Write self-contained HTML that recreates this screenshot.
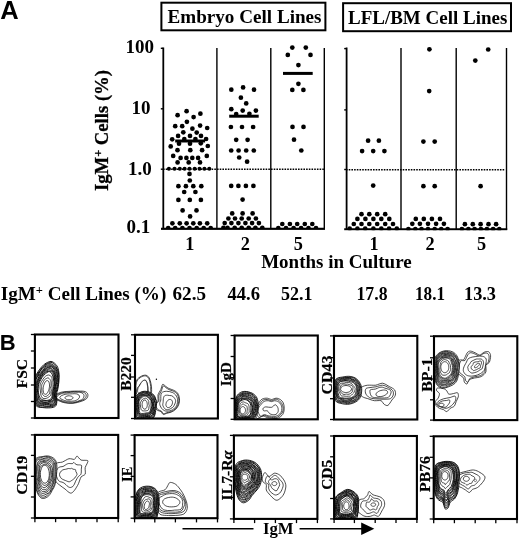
<!DOCTYPE html>
<html><head><meta charset="utf-8"><title>Figure</title>
<style>html,body{margin:0;padding:0;background:#fff}svg{display:block}</style>
</head><body>
<svg width="520" height="539" viewBox="0 0 520 539">
<rect width="520" height="539" fill="#fff"/>
<text x="0.3" y="18.6" font-family="Liberation Sans, sans-serif" font-weight="bold" font-size="25.5">A</text>
<text x="-0.2" y="349.9" font-family="Liberation Sans, sans-serif" font-weight="bold" font-size="22">B</text>
<rect x="161.4" y="2.7" width="164" height="27.6" fill="#fff" stroke="#000" stroke-width="2"/>
<rect x="343.1" y="3.2" width="167.9" height="28" fill="#fff" stroke="#000" stroke-width="2"/>
<text x="167.5" y="22.9" font-family="Liberation Serif, serif" font-weight="bold" font-size="18.4" textLength="154" lengthAdjust="spacingAndGlyphs">Embryo Cell Lines</text>
<text x="348" y="23.8" font-family="Liberation Serif, serif" font-weight="bold" font-size="18.4" textLength="159.3" lengthAdjust="spacingAndGlyphs">LFL/BM Cell Lines</text>
<text x="154" y="52.5" text-anchor="end" font-family="Liberation Serif, serif" font-weight="bold" font-size="19">100</text>
<text x="150.4" y="113.5" text-anchor="end" font-family="Liberation Serif, serif" font-weight="bold" font-size="19">10</text>
<text x="151.7" y="174.7" text-anchor="end" font-family="Liberation Serif, serif" font-weight="bold" font-size="19">1.0</text>
<text x="150.2" y="233.4" text-anchor="end" font-family="Liberation Serif, serif" font-weight="bold" font-size="19">0.1</text>
<text transform="translate(108.4,191) rotate(-90)" font-family="Liberation Serif, serif" font-weight="bold" font-size="18.5" stroke="#000" stroke-width="0.3" textLength="121" lengthAdjust="spacingAndGlyphs">IgM<tspan dy="-6" font-size="12">+</tspan><tspan dy="6"> Cells (%)</tspan></text>
<line x1="163.3" y1="47.5" x2="163.3" y2="229.5" stroke="#000" stroke-width="1.8" />
<line x1="216.9" y1="48" x2="216.9" y2="229.5" stroke="#000" stroke-width="1.4" />
<line x1="270.8" y1="48" x2="270.8" y2="229.5" stroke="#000" stroke-width="1.4" />
<line x1="324.3" y1="48" x2="324.3" y2="229.5" stroke="#000" stroke-width="1.4" />
<line x1="161" y1="228.8" x2="325" y2="228.8" stroke="#000" stroke-width="2.2" />
<line x1="160.8" y1="48.3" x2="163.3" y2="48.3" stroke="#000" stroke-width="1.4" />
<line x1="160.8" y1="108.8" x2="163.3" y2="108.8" stroke="#000" stroke-width="1.4" />
<line x1="160.8" y1="169.2" x2="163.3" y2="169.2" stroke="#000" stroke-width="1.4" />
<line x1="163" y1="169.3" x2="324.5" y2="169.3" stroke="#000" stroke-width="1.4" stroke-dasharray="1.6 1.1"/>
<line x1="346.6" y1="47.5" x2="346.6" y2="230" stroke="#000" stroke-width="1.8" />
<line x1="401" y1="48" x2="401" y2="230" stroke="#000" stroke-width="1.4" />
<line x1="456.2" y1="48" x2="456.2" y2="230" stroke="#000" stroke-width="1.4" />
<line x1="506.5" y1="48" x2="506.5" y2="230" stroke="#000" stroke-width="1.4" />
<line x1="344.2" y1="229.3" x2="507.2" y2="229.3" stroke="#000" stroke-width="2.2" />
<line x1="344.2" y1="48.599999999999994" x2="346.6" y2="48.599999999999994" stroke="#000" stroke-width="1.4" />
<line x1="344.2" y1="109.89999999999999" x2="346.6" y2="109.89999999999999" stroke="#000" stroke-width="1.4" />
<line x1="344.2" y1="169.5" x2="346.6" y2="169.5" stroke="#000" stroke-width="1.4" />
<line x1="346" y1="169.8" x2="504.5" y2="169.8" stroke="#000" stroke-width="1.4" stroke-dasharray="1.6 1.1"/>
<circle cx="168.9" cy="168.8" r="2.05"/>
<circle cx="174.5" cy="168.8" r="2.05"/>
<circle cx="179.8" cy="168.8" r="2.05"/>
<circle cx="184.6" cy="168.8" r="2.05"/>
<circle cx="189.5" cy="168.8" r="2.05"/>
<circle cx="194.7" cy="168.8" r="2.05"/>
<circle cx="199.5" cy="168.8" r="2.05"/>
<circle cx="204.4" cy="168.8" r="2.05"/>
<circle cx="209.3" cy="168.8" r="2.05"/>
<circle cx="186.6" cy="111.2" r="2.35"/>
<circle cx="177.6" cy="115.2" r="2.35"/>
<circle cx="200.4" cy="113.7" r="2.35"/>
<circle cx="193.6" cy="117.1" r="2.35"/>
<circle cx="186.9" cy="121.8" r="2.35"/>
<circle cx="175.2" cy="126.2" r="2.35"/>
<circle cx="182.2" cy="126.2" r="2.35"/>
<circle cx="200.1" cy="125.6" r="2.35"/>
<circle cx="207.2" cy="128.0" r="2.35"/>
<circle cx="192.4" cy="128.7" r="2.35"/>
<circle cx="183.3" cy="132.3" r="2.35"/>
<circle cx="196.7" cy="132.6" r="2.35"/>
<circle cx="178.1" cy="135.9" r="2.35"/>
<circle cx="190.0" cy="135.9" r="2.35"/>
<circle cx="201.0" cy="135.9" r="2.35"/>
<circle cx="172.2" cy="139.3" r="2.35"/>
<circle cx="184.3" cy="139.0" r="2.35"/>
<circle cx="195.4" cy="139.0" r="2.35"/>
<circle cx="206.1" cy="139.0" r="2.35"/>
<circle cx="179.0" cy="143.7" r="2.35"/>
<circle cx="190.0" cy="143.7" r="2.35"/>
<circle cx="200.8" cy="143.3" r="2.35"/>
<circle cx="170.7" cy="146.4" r="2.35"/>
<circle cx="207.8" cy="146.0" r="2.35"/>
<circle cx="177.5" cy="150.2" r="2.35"/>
<circle cx="190.3" cy="150.2" r="2.35"/>
<circle cx="202.1" cy="150.2" r="2.35"/>
<circle cx="173.2" cy="155.9" r="2.35"/>
<circle cx="206.8" cy="155.9" r="2.35"/>
<circle cx="180.6" cy="157.9" r="2.35"/>
<circle cx="186.4" cy="157.9" r="2.35"/>
<circle cx="192.3" cy="157.9" r="2.35"/>
<circle cx="198.1" cy="157.9" r="2.35"/>
<circle cx="177.6" cy="162.4" r="2.35"/>
<circle cx="188.7" cy="162.4" r="2.35"/>
<circle cx="200.0" cy="162.4" r="2.35"/>
<circle cx="189.5" cy="173.9" r="2.35"/>
<circle cx="189.8" cy="180.5" r="2.35"/>
<circle cx="178.4" cy="186.2" r="2.35"/>
<circle cx="185.9" cy="186.2" r="2.35"/>
<circle cx="193.3" cy="186.2" r="2.35"/>
<circle cx="201.3" cy="186.2" r="2.35"/>
<circle cx="184.2" cy="192.0" r="2.35"/>
<circle cx="195.4" cy="192.0" r="2.35"/>
<circle cx="178.4" cy="199.9" r="2.35"/>
<circle cx="189.8" cy="199.9" r="2.35"/>
<circle cx="200.9" cy="199.9" r="2.35"/>
<circle cx="182.6" cy="210.4" r="2.35"/>
<circle cx="196.5" cy="210.4" r="2.35"/>
<circle cx="190.1" cy="216.4" r="2.35"/>
<circle cx="172.4" cy="223.3" r="2.35"/>
<circle cx="179.8" cy="223.3" r="2.35"/>
<circle cx="186.6" cy="223.3" r="2.35"/>
<circle cx="193.3" cy="223.3" r="2.35"/>
<circle cx="199.9" cy="223.3" r="2.35"/>
<circle cx="207.2" cy="223.3" r="2.35"/>
<circle cx="168.2" cy="228.0" r="2.35"/>
<circle cx="175.2" cy="228.0" r="2.35"/>
<circle cx="182.4" cy="228.0" r="2.35"/>
<circle cx="189.5" cy="228.0" r="2.35"/>
<circle cx="196.7" cy="228.0" r="2.35"/>
<circle cx="203.7" cy="228.0" r="2.35"/>
<circle cx="210.7" cy="228.0" r="2.35"/>
<line x1="175.2" y1="141.0" x2="205.1" y2="141.0" stroke="#000" stroke-width="3.0" />
<circle cx="231.3" cy="89.7" r="2.35"/>
<circle cx="243.1" cy="87.4" r="2.35"/>
<circle cx="254.0" cy="89.7" r="2.35"/>
<circle cx="240.9" cy="97.7" r="2.35"/>
<circle cx="246.2" cy="103.4" r="2.35"/>
<circle cx="231.3" cy="109.2" r="2.35"/>
<circle cx="242.7" cy="110.6" r="2.35"/>
<circle cx="255.9" cy="110.6" r="2.35"/>
<circle cx="236.2" cy="114.1" r="2.35"/>
<circle cx="249.4" cy="113.8" r="2.35"/>
<circle cx="230.9" cy="127.0" r="2.35"/>
<circle cx="242.0" cy="127.0" r="2.35"/>
<circle cx="253.1" cy="127.0" r="2.35"/>
<circle cx="236.2" cy="139.8" r="2.35"/>
<circle cx="247.6" cy="139.8" r="2.35"/>
<circle cx="231.2" cy="150.5" r="2.35"/>
<circle cx="238.6" cy="150.5" r="2.35"/>
<circle cx="246.2" cy="150.5" r="2.35"/>
<circle cx="253.8" cy="150.5" r="2.35"/>
<circle cx="239.2" cy="157.5" r="2.35"/>
<circle cx="247.1" cy="161.7" r="2.35"/>
<circle cx="231.2" cy="185.9" r="2.35"/>
<circle cx="238.4" cy="185.9" r="2.35"/>
<circle cx="245.9" cy="185.9" r="2.35"/>
<circle cx="253.4" cy="185.9" r="2.35"/>
<circle cx="242.6" cy="199.6" r="2.35"/>
<circle cx="232.2" cy="213.4" r="2.35"/>
<circle cx="242.6" cy="213.4" r="2.35"/>
<circle cx="252.6" cy="213.4" r="2.35"/>
<circle cx="228.4" cy="218.5" r="2.35"/>
<circle cx="235.0" cy="218.5" r="2.35"/>
<circle cx="241.7" cy="218.5" r="2.35"/>
<circle cx="248.7" cy="218.5" r="2.35"/>
<circle cx="255.9" cy="218.5" r="2.35"/>
<circle cx="224.7" cy="223.1" r="2.35"/>
<circle cx="231.4" cy="223.1" r="2.35"/>
<circle cx="238.4" cy="223.1" r="2.35"/>
<circle cx="245.4" cy="223.1" r="2.35"/>
<circle cx="252.1" cy="223.1" r="2.35"/>
<circle cx="258.9" cy="223.1" r="2.35"/>
<circle cx="223.4" cy="227.8" r="2.35"/>
<circle cx="227.5" cy="227.8" r="2.35"/>
<circle cx="234.7" cy="227.8" r="2.35"/>
<circle cx="241.7" cy="227.8" r="2.35"/>
<circle cx="248.7" cy="227.8" r="2.35"/>
<circle cx="255.4" cy="227.8" r="2.35"/>
<circle cx="262.3" cy="227.8" r="2.35"/>
<line x1="229.2" y1="116.2" x2="258.7" y2="116.2" stroke="#000" stroke-width="3.0" />
<circle cx="292.3" cy="47.6" r="2.35"/>
<circle cx="305.8" cy="47.6" r="2.35"/>
<circle cx="287.8" cy="54.9" r="2.35"/>
<circle cx="310.5" cy="54.9" r="2.35"/>
<circle cx="298.4" cy="65.1" r="2.35"/>
<circle cx="298.4" cy="83.8" r="2.35"/>
<circle cx="292.3" cy="89.9" r="2.35"/>
<circle cx="303.4" cy="89.9" r="2.35"/>
<circle cx="292.5" cy="126.9" r="2.35"/>
<circle cx="303.5" cy="126.9" r="2.35"/>
<circle cx="294.0" cy="139.7" r="2.35"/>
<circle cx="301.3" cy="150.5" r="2.35"/>
<circle cx="282.3" cy="224.0" r="2.35"/>
<circle cx="289.9" cy="224.0" r="2.35"/>
<circle cx="297.2" cy="224.0" r="2.35"/>
<circle cx="304.8" cy="224.0" r="2.35"/>
<circle cx="312.3" cy="224.0" r="2.35"/>
<circle cx="278.3" cy="228.1" r="2.35"/>
<circle cx="286.0" cy="228.1" r="2.35"/>
<circle cx="293.6" cy="228.1" r="2.35"/>
<circle cx="301.1" cy="228.1" r="2.35"/>
<circle cx="308.5" cy="228.1" r="2.35"/>
<circle cx="316.0" cy="228.1" r="2.35"/>
<line x1="283.0" y1="73.4" x2="312.7" y2="73.4" stroke="#000" stroke-width="3.0" />
<circle cx="368.1" cy="140.7" r="2.35"/>
<circle cx="378.9" cy="140.7" r="2.35"/>
<circle cx="362.1" cy="151.1" r="2.35"/>
<circle cx="373.2" cy="151.1" r="2.35"/>
<circle cx="384.4" cy="151.1" r="2.35"/>
<circle cx="373.2" cy="185.6" r="2.35"/>
<circle cx="361.5" cy="214.2" r="2.35"/>
<circle cx="369.3" cy="214.2" r="2.35"/>
<circle cx="377.2" cy="214.2" r="2.35"/>
<circle cx="385.2" cy="214.2" r="2.35"/>
<circle cx="357.4" cy="218.9" r="2.35"/>
<circle cx="365.4" cy="218.9" r="2.35"/>
<circle cx="373.4" cy="218.9" r="2.35"/>
<circle cx="381.3" cy="218.9" r="2.35"/>
<circle cx="389.3" cy="218.9" r="2.35"/>
<circle cx="353.8" cy="224.0" r="2.35"/>
<circle cx="361.5" cy="224.0" r="2.35"/>
<circle cx="369.3" cy="224.0" r="2.35"/>
<circle cx="377.2" cy="224.0" r="2.35"/>
<circle cx="385.2" cy="224.0" r="2.35"/>
<circle cx="393.0" cy="224.0" r="2.35"/>
<circle cx="349.7" cy="228.7" r="2.35"/>
<circle cx="357.4" cy="228.7" r="2.35"/>
<circle cx="365.2" cy="228.7" r="2.35"/>
<circle cx="373.4" cy="228.7" r="2.35"/>
<circle cx="381.3" cy="228.7" r="2.35"/>
<circle cx="389.1" cy="228.7" r="2.35"/>
<circle cx="396.8" cy="228.7" r="2.35"/>
<circle cx="429.4" cy="49.3" r="2.35"/>
<circle cx="429.2" cy="91.1" r="2.35"/>
<circle cx="423.4" cy="141.6" r="2.35"/>
<circle cx="434.7" cy="141.6" r="2.35"/>
<circle cx="423.4" cy="186.2" r="2.35"/>
<circle cx="434.7" cy="186.2" r="2.35"/>
<circle cx="415.8" cy="218.9" r="2.35"/>
<circle cx="423.8" cy="218.9" r="2.35"/>
<circle cx="431.9" cy="218.9" r="2.35"/>
<circle cx="440.0" cy="218.9" r="2.35"/>
<circle cx="412.3" cy="223.8" r="2.35"/>
<circle cx="419.9" cy="223.8" r="2.35"/>
<circle cx="428.0" cy="223.8" r="2.35"/>
<circle cx="436.1" cy="223.8" r="2.35"/>
<circle cx="443.9" cy="223.8" r="2.35"/>
<circle cx="408.4" cy="229.0" r="2.35"/>
<circle cx="415.3" cy="229.0" r="2.35"/>
<circle cx="421.5" cy="229.0" r="2.35"/>
<circle cx="428.0" cy="229.0" r="2.35"/>
<circle cx="434.7" cy="229.0" r="2.35"/>
<circle cx="441.2" cy="229.0" r="2.35"/>
<circle cx="447.6" cy="229.0" r="2.35"/>
<circle cx="488.2" cy="49.5" r="2.35"/>
<circle cx="475.3" cy="60.6" r="2.35"/>
<circle cx="480.6" cy="186.2" r="2.35"/>
<circle cx="464.9" cy="224.2" r="2.35"/>
<circle cx="472.8" cy="224.2" r="2.35"/>
<circle cx="480.6" cy="224.2" r="2.35"/>
<circle cx="488.5" cy="224.2" r="2.35"/>
<circle cx="496.1" cy="224.2" r="2.35"/>
<circle cx="461.9" cy="229.0" r="2.35"/>
<circle cx="468.4" cy="229.0" r="2.35"/>
<circle cx="474.6" cy="229.0" r="2.35"/>
<circle cx="480.9" cy="229.0" r="2.35"/>
<circle cx="486.9" cy="229.0" r="2.35"/>
<circle cx="493.1" cy="229.0" r="2.35"/>
<circle cx="499.3" cy="229.0" r="2.35"/>
<rect x="160" y="229.9" width="167" height="3.5" fill="#fff"/>
<rect x="343" y="230.4" width="166" height="3.5" fill="#fff"/>
<text x="189.9" y="250" text-anchor="middle" font-family="Liberation Serif, serif" font-weight="bold" font-size="18.3">1</text>
<text x="245.2" y="250" text-anchor="middle" font-family="Liberation Serif, serif" font-weight="bold" font-size="18.3">2</text>
<text x="298.2" y="250" text-anchor="middle" font-family="Liberation Serif, serif" font-weight="bold" font-size="18.3">5</text>
<text x="374" y="250" text-anchor="middle" font-family="Liberation Serif, serif" font-weight="bold" font-size="18.3">1</text>
<text x="430" y="250" text-anchor="middle" font-family="Liberation Serif, serif" font-weight="bold" font-size="18.3">2</text>
<text x="481.5" y="250" text-anchor="middle" font-family="Liberation Serif, serif" font-weight="bold" font-size="18.3">5</text>
<text x="261.2" y="267.7" font-family="Liberation Serif, serif" font-weight="bold" font-size="18" textLength="150.5" lengthAdjust="spacingAndGlyphs">Months in Culture</text>
<text x="0.8" y="299.8" font-family="Liberation Serif, serif" font-weight="bold" font-size="18.3" textLength="165.5" lengthAdjust="spacingAndGlyphs">IgM<tspan dy="-6" font-size="12">+</tspan><tspan dy="6"> Cell Lines (%)</tspan></text>
<text x="172.5" y="299.9" font-family="Liberation Serif, serif" font-weight="bold" font-size="18.3" textLength="33.5" lengthAdjust="spacingAndGlyphs">62.5</text>
<text x="227.5" y="299.9" font-family="Liberation Serif, serif" font-weight="bold" font-size="18.3" textLength="32.5" lengthAdjust="spacingAndGlyphs">44.6</text>
<text x="281" y="299.9" font-family="Liberation Serif, serif" font-weight="bold" font-size="18.3" textLength="31.5" lengthAdjust="spacingAndGlyphs">52.1</text>
<text x="356.5" y="299.9" font-family="Liberation Serif, serif" font-weight="bold" font-size="18.3" textLength="31.0" lengthAdjust="spacingAndGlyphs">17.8</text>
<text x="415" y="299.9" font-family="Liberation Serif, serif" font-weight="bold" font-size="18.3" textLength="30" lengthAdjust="spacingAndGlyphs">18.1</text>
<text x="464" y="299.9" font-family="Liberation Serif, serif" font-weight="bold" font-size="18.3" textLength="32" lengthAdjust="spacingAndGlyphs">13.3</text>
<clipPath id="c1"><rect x="34.9" y="334.5" width="83.6" height="83.5"/></clipPath>
<g clip-path="url(#c1)">
<path d="M56.9 394.0C57.6 393.5 58.4 393.1 59.3 392.8C60.2 392.5 61.1 392.2 62.3 392.0C63.5 391.8 64.8 391.7 66.2 391.5C67.5 391.4 69.0 391.4 70.4 391.3C71.8 391.2 73.2 391.2 74.5 391.1C75.9 391.1 77.2 391.1 78.5 391.1C79.8 391.1 81.1 391.1 82.2 391.1C83.3 391.2 84.4 391.3 85.2 391.6C86.0 391.9 86.6 392.4 87.1 392.9C87.5 393.4 87.8 394.1 87.9 394.7C88.0 395.3 87.9 396.1 87.7 396.7C87.5 397.4 87.1 398.1 86.5 398.7C85.9 399.3 85.1 399.7 84.2 400.2C83.3 400.6 82.3 401.0 81.1 401.4C79.9 401.8 78.6 402.2 77.3 402.5C75.9 402.8 74.5 403.1 73.1 403.2C71.7 403.3 70.3 403.3 68.9 403.2C67.6 403.2 66.2 403.0 65.0 402.8C63.8 402.6 62.8 402.3 61.8 402.0C60.7 401.6 59.9 401.2 58.9 400.8C57.9 400.4 56.7 400.0 55.9 399.5C55.1 399.1 54.2 398.6 54.0 398.0C53.8 397.4 54.3 396.6 54.8 395.9C55.3 395.3 56.2 394.5 56.9 394.0Z" fill="#fff" stroke="#000" stroke-width="0.7"/>
<path d="M57.9 394.3C58.7 393.9 59.5 393.6 60.3 393.3C61.1 393.0 61.9 392.8 62.9 392.6C64.0 392.3 65.2 392.2 66.4 392.1C67.6 391.9 69.0 391.9 70.3 391.8C71.6 391.7 72.9 391.6 74.2 391.5C75.4 391.5 76.7 391.6 77.8 391.6C78.9 391.7 79.8 391.8 80.8 391.9C81.7 392.0 82.6 392.0 83.4 392.3C84.2 392.5 84.9 392.9 85.4 393.4C85.8 393.8 86.1 394.4 86.2 395.0C86.3 395.5 86.2 396.2 86.0 396.8C85.8 397.4 85.5 398.1 85.0 398.6C84.4 399.1 83.7 399.6 82.8 400.0C81.9 400.4 80.8 400.7 79.8 401.0C78.7 401.4 77.6 401.7 76.5 402.1C75.4 402.4 74.2 402.8 72.9 403.0C71.7 403.1 70.2 403.1 68.9 403.0C67.7 402.9 66.4 402.6 65.3 402.4C64.2 402.1 63.3 401.9 62.4 401.6C61.4 401.3 60.7 400.9 59.8 400.5C58.9 400.2 57.9 399.8 57.2 399.4C56.4 398.9 55.4 398.5 55.2 398.0C55.0 397.4 55.3 396.7 55.7 396.1C56.2 395.5 57.2 394.8 57.9 394.3Z" fill="#fff" stroke="#000" stroke-width="0.7"/>
<path d="M59.1 394.7C59.8 394.3 60.4 394.0 61.2 393.8C61.9 393.5 62.6 393.2 63.5 393.1C64.5 392.9 65.7 393.0 66.8 392.8C67.9 392.7 69.0 392.5 70.2 392.4C71.3 392.2 72.5 392.2 73.6 392.2C74.8 392.2 75.8 392.3 76.8 392.3C77.8 392.3 79.0 392.2 79.8 392.3C80.7 392.4 81.3 392.6 81.9 392.9C82.4 393.1 82.9 393.5 83.3 394.0C83.6 394.4 83.9 394.8 84.0 395.3C84.1 395.8 83.9 396.4 83.8 397.0C83.6 397.5 83.6 398.1 83.2 398.5C82.8 399.0 82.2 399.4 81.5 399.8C80.8 400.1 79.9 400.4 79.0 400.8C78.1 401.1 77.2 401.6 76.1 401.8C75.0 402.1 73.6 402.2 72.4 402.3C71.2 402.3 70.1 402.3 68.9 402.2C67.8 402.1 66.7 402.1 65.7 401.9C64.7 401.8 64.0 401.4 63.1 401.2C62.3 400.9 61.3 400.6 60.5 400.3C59.6 400.0 58.7 399.6 58.0 399.2C57.4 398.9 56.8 398.5 56.7 398.0C56.5 397.5 56.7 396.8 57.1 396.3C57.6 395.7 58.5 395.1 59.1 394.7Z" fill="#fff" stroke="#000" stroke-width="0.7"/>
<path d="M61.7 395.5C62.2 395.2 62.7 395.1 63.3 394.9C63.8 394.7 64.3 394.5 65.0 394.3C65.6 394.2 66.5 394.0 67.3 394.0C68.1 393.9 69.0 393.9 69.8 393.9C70.7 393.9 71.5 393.8 72.4 393.8C73.2 393.7 74.0 393.7 74.8 393.7C75.5 393.8 76.2 393.8 76.7 393.9C77.2 394.0 77.6 394.2 78.0 394.4C78.4 394.6 78.6 394.9 78.9 395.1C79.1 395.4 79.4 395.7 79.5 396.1C79.6 396.4 79.6 396.8 79.5 397.2C79.4 397.6 79.2 398.0 79.0 398.3C78.7 398.6 78.4 398.9 78.0 399.2C77.6 399.5 77.2 399.8 76.6 400.1C76.0 400.3 75.2 400.7 74.4 400.9C73.6 401.1 72.5 401.2 71.6 401.2C70.7 401.3 69.8 401.2 69.0 401.1C68.1 401.1 67.2 401.1 66.5 401.0C65.7 400.9 65.0 400.7 64.4 400.5C63.7 400.2 63.2 399.9 62.7 399.7C62.1 399.4 61.4 399.2 60.9 398.9C60.5 398.6 59.9 398.3 59.8 397.9C59.7 397.6 59.9 397.1 60.2 396.7C60.6 396.3 61.2 395.8 61.7 395.5Z" fill="#fff" stroke="#000" stroke-width="0.7"/>
<path d="M65.6 396.7C65.8 396.6 66.0 396.5 66.2 396.4C66.4 396.3 66.7 396.2 67.0 396.1C67.3 396.0 67.7 395.9 68.1 395.8C68.5 395.8 69.0 395.8 69.4 395.8C69.8 395.8 70.2 395.9 70.5 396.0C70.8 396.0 71.1 396.1 71.3 396.2C71.5 396.2 71.7 396.3 71.8 396.4C72.0 396.4 72.1 396.5 72.2 396.6C72.3 396.7 72.4 396.8 72.5 396.9C72.6 396.9 72.7 397.1 72.8 397.2C72.9 397.3 72.9 397.4 73.0 397.6C73.0 397.7 73.0 397.9 73.0 398.0C73.0 398.1 72.9 398.3 72.8 398.4C72.7 398.5 72.6 398.7 72.4 398.8C72.2 399.0 72.0 399.2 71.6 399.3C71.3 399.4 70.9 399.6 70.4 399.7C70.0 399.8 69.5 399.8 69.0 399.8C68.5 399.8 67.9 399.7 67.5 399.7C67.1 399.6 66.7 399.4 66.4 399.3C66.0 399.2 65.8 399.0 65.6 398.8C65.4 398.7 65.2 398.5 65.1 398.3C65.0 398.1 65.0 398.0 65.0 397.9C65.0 397.7 65.0 397.5 65.1 397.3C65.2 397.1 65.4 396.9 65.6 396.7Z" fill="#fff" stroke="#000" stroke-width="0.7"/>
<path d="M52.2 361.7C53.0 362.0 53.9 362.6 54.7 363.3C55.5 364.0 56.3 364.9 56.9 365.8C57.5 366.7 57.9 367.7 58.2 368.8C58.5 369.9 58.7 371.1 58.9 372.5C59.1 373.9 59.1 375.5 59.1 377.1C59.1 378.7 59.0 380.4 58.9 381.9C58.8 383.4 58.6 384.8 58.3 386.2C58.1 387.5 57.9 388.9 57.6 390.0C57.3 391.1 57.0 392.0 56.8 392.9C56.5 393.8 56.2 394.5 56.2 395.4C56.2 396.3 56.4 397.2 56.5 398.1C56.7 399.0 56.9 399.9 56.9 400.8C56.9 401.7 56.8 402.8 56.6 403.7C56.4 404.6 56.2 405.5 55.6 406.1C55.0 406.7 54.2 407.0 53.3 407.3C52.4 407.6 51.4 407.7 50.2 407.8C49.0 407.9 47.5 407.9 46.2 407.9C44.8 407.8 43.3 407.6 42.1 407.5C40.9 407.4 39.7 407.4 38.7 407.1C37.7 406.8 36.8 406.5 36.0 405.5C35.2 404.5 34.6 402.9 34.1 401.2C33.6 399.5 33.3 397.5 33.0 395.4C32.7 393.3 32.6 390.8 32.6 388.5C32.6 386.3 32.7 383.7 33.0 381.9C33.3 380.1 33.9 378.8 34.5 377.5C35.1 376.1 35.9 375.1 36.7 373.8C37.5 372.5 38.4 371.1 39.3 369.8C40.2 368.6 41.2 367.4 42.1 366.4C43.0 365.4 43.9 364.6 44.8 364.0C45.7 363.3 46.7 362.8 47.5 362.4C48.3 362.0 49.1 361.7 49.9 361.5C50.7 361.4 51.4 361.4 52.2 361.7Z" fill="#fff" stroke="#000" stroke-width="0.9"/>
<path d="M52.0 362.6C52.8 362.9 53.6 363.6 54.3 364.4C55.1 365.1 55.7 366.2 56.3 367.0C56.8 367.9 57.2 368.7 57.6 369.7C58.0 370.7 58.4 371.6 58.5 372.9C58.7 374.2 58.8 375.9 58.7 377.4C58.7 378.9 58.6 380.6 58.4 382.1C58.3 383.6 58.1 385.0 57.9 386.2C57.6 387.5 57.3 388.8 57.0 389.9C56.7 390.9 56.3 391.6 56.1 392.5C55.9 393.4 55.7 394.2 55.8 395.1C55.8 396.0 56.2 397.0 56.4 397.9C56.5 398.8 56.6 399.6 56.6 400.4C56.5 401.2 56.4 402.1 56.1 402.9C55.9 403.7 55.7 404.6 55.1 405.2C54.6 405.8 53.8 406.1 53.0 406.3C52.1 406.6 51.1 406.6 50.0 406.8C48.9 406.9 47.5 407.1 46.2 407.2C44.9 407.3 43.4 407.3 42.2 407.2C41.0 407.0 39.9 406.9 39.0 406.5C38.0 406.1 37.2 405.6 36.5 404.6C35.8 403.6 35.2 402.0 34.8 400.5C34.3 398.9 33.8 397.0 33.6 395.1C33.3 393.1 33.2 390.6 33.2 388.5C33.2 386.3 33.2 383.9 33.4 382.1C33.7 380.3 34.2 379.0 34.8 377.7C35.4 376.4 36.3 375.5 37.1 374.4C37.9 373.2 38.8 372.1 39.7 370.9C40.6 369.8 41.4 368.5 42.3 367.5C43.2 366.5 44.0 365.5 44.9 364.8C45.8 364.1 46.6 363.7 47.5 363.3C48.3 362.9 49.0 362.6 49.8 362.5C50.5 362.3 51.2 362.2 52.0 362.6Z" fill="#fff" stroke="#000" stroke-width="0.9"/>
<path d="M51.7 364.1C52.4 364.4 53.2 365.0 53.9 365.6C54.6 366.2 55.4 366.9 56.0 367.7C56.5 368.5 57.0 369.3 57.3 370.2C57.6 371.2 57.9 372.3 58.0 373.6C58.1 374.9 58.1 376.4 58.1 377.9C58.1 379.4 58.1 380.9 57.9 382.3C57.8 383.7 57.7 385.1 57.4 386.3C57.2 387.5 56.9 388.8 56.6 389.8C56.3 390.8 55.9 391.5 55.7 392.3C55.4 393.1 55.1 393.7 55.2 394.6C55.2 395.4 55.5 396.3 55.7 397.2C55.9 398.1 56.2 399.0 56.2 399.9C56.2 400.8 56.1 401.8 55.9 402.5C55.7 403.3 55.3 404.0 54.8 404.5C54.3 405.0 53.5 405.3 52.7 405.5C51.9 405.8 50.9 405.9 49.9 406.1C48.8 406.2 47.4 406.3 46.2 406.3C45.0 406.2 43.6 406.0 42.4 405.9C41.3 405.7 40.3 405.8 39.4 405.5C38.4 405.2 37.5 405.1 36.7 404.2C36.0 403.3 35.3 401.9 34.9 400.3C34.4 398.8 34.1 396.9 33.9 394.9C33.7 392.9 33.8 390.5 33.9 388.4C34.0 386.4 34.1 384.2 34.4 382.5C34.7 380.8 35.2 379.7 35.7 378.5C36.2 377.2 36.8 376.2 37.5 375.0C38.2 373.8 39.1 372.4 39.9 371.3C40.7 370.1 41.6 369.0 42.4 368.1C43.3 367.1 44.1 366.3 44.9 365.7C45.8 365.0 46.6 364.5 47.4 364.1C48.2 363.8 48.9 363.6 49.6 363.5C50.3 363.5 50.9 363.7 51.7 364.1Z" fill="#fff" stroke="#000" stroke-width="0.9"/>
<path d="M51.4 365.1C52.1 365.5 52.9 366.0 53.6 366.6C54.3 367.1 55.0 367.8 55.6 368.6C56.1 369.3 56.4 370.2 56.7 371.2C57.0 372.2 57.1 373.3 57.3 374.4C57.4 375.6 57.6 376.9 57.7 378.3C57.7 379.6 57.8 381.1 57.7 382.4C57.6 383.8 57.3 385.1 57.0 386.3C56.8 387.6 56.5 388.7 56.2 389.7C56.0 390.7 55.8 391.5 55.6 392.3C55.4 393.1 55.0 393.7 54.9 394.4C54.8 395.1 54.9 395.8 55.0 396.5C55.1 397.3 55.3 398.0 55.4 398.9C55.4 399.7 55.4 400.8 55.3 401.5C55.1 402.3 54.8 403.0 54.3 403.6C53.9 404.1 53.2 404.4 52.4 404.8C51.7 405.1 50.8 405.5 49.8 405.7C48.8 405.9 47.4 406.0 46.2 405.9C45.0 405.9 43.6 405.6 42.5 405.4C41.4 405.2 40.5 405.3 39.6 404.9C38.7 404.6 37.8 404.4 37.2 403.4C36.5 402.5 36.1 400.9 35.7 399.3C35.4 397.8 35.2 396.0 35.0 394.2C34.8 392.4 34.5 390.3 34.5 388.4C34.5 386.5 34.5 384.2 34.8 382.6C35.0 381.0 35.6 380.0 36.1 378.8C36.6 377.6 37.2 376.7 37.9 375.5C38.5 374.3 39.2 372.8 40.0 371.7C40.8 370.6 41.7 369.5 42.6 368.7C43.4 367.9 44.2 367.4 45.0 366.8C45.8 366.2 46.6 365.7 47.4 365.3C48.1 365.0 48.8 364.7 49.5 364.6C50.1 364.6 50.7 364.8 51.4 365.1Z" fill="#fff" stroke="#000" stroke-width="0.9"/>
<path d="M51.2 365.9C51.9 366.1 52.7 366.7 53.3 367.2C54.0 367.8 54.7 368.5 55.2 369.2C55.7 370.0 56.1 370.7 56.4 371.6C56.7 372.6 56.9 373.6 57.0 374.8C57.1 375.9 57.1 377.4 57.0 378.8C57.0 380.2 56.8 381.6 56.6 382.9C56.4 384.2 56.2 385.3 56.0 386.4C55.8 387.6 55.7 388.6 55.5 389.5C55.4 390.5 55.2 391.2 55.0 392.0C54.9 392.7 54.6 393.4 54.6 394.1C54.6 394.9 54.7 395.6 54.8 396.3C54.9 397.1 55.1 397.8 55.1 398.6C55.1 399.3 55.1 400.3 55.0 401.0C54.8 401.8 54.6 402.7 54.1 403.2C53.7 403.7 53.0 404.0 52.2 404.2C51.5 404.4 50.6 404.4 49.6 404.5C48.6 404.6 47.3 404.6 46.2 404.5C45.1 404.5 43.8 404.4 42.8 404.3C41.7 404.2 40.8 404.3 39.9 404.0C39.1 403.7 38.3 403.5 37.6 402.6C37.0 401.8 36.5 400.4 36.1 398.9C35.7 397.5 35.4 395.8 35.2 394.1C35.0 392.3 34.9 390.2 34.8 388.4C34.8 386.5 34.8 384.3 35.1 382.8C35.3 381.2 35.8 380.1 36.3 379.0C36.8 377.8 37.5 377.0 38.2 376.0C38.9 375.0 39.7 373.9 40.5 372.9C41.3 371.9 42.1 371.0 42.9 370.2C43.6 369.4 44.4 368.7 45.1 368.1C45.8 367.5 46.6 366.9 47.3 366.5C48.0 366.1 48.7 365.8 49.3 365.7C50.0 365.6 50.6 365.6 51.2 365.9Z" fill="#fff" stroke="#000" stroke-width="0.9"/>
<path d="M51.1 366.6C51.7 366.8 52.5 367.3 53.1 368.0C53.7 368.6 54.3 369.4 54.7 370.2C55.2 371.0 55.4 371.8 55.7 372.7C56.0 373.6 56.2 374.5 56.3 375.6C56.4 376.7 56.4 378.0 56.4 379.3C56.4 380.6 56.2 382.0 56.0 383.2C55.9 384.4 55.7 385.5 55.5 386.5C55.4 387.6 55.3 388.6 55.2 389.5C55.1 390.4 55.0 391.1 54.8 391.9C54.7 392.6 54.4 393.3 54.4 394.0C54.3 394.6 54.4 395.3 54.5 396.0C54.5 396.7 54.7 397.3 54.7 398.0C54.7 398.8 54.7 399.7 54.5 400.3C54.3 401.0 54.1 401.7 53.6 402.2C53.2 402.6 52.5 402.8 51.8 403.0C51.1 403.2 50.3 403.2 49.3 403.4C48.4 403.5 47.3 403.7 46.2 403.8C45.1 403.9 43.9 403.9 42.9 403.8C41.9 403.8 41.0 403.7 40.2 403.4C39.4 403.1 38.7 402.7 38.1 401.9C37.5 401.1 37.0 399.8 36.6 398.4C36.1 397.1 35.8 395.6 35.5 393.9C35.3 392.2 35.1 390.1 35.2 388.3C35.2 386.5 35.4 384.5 35.8 383.1C36.1 381.6 36.7 380.8 37.2 379.8C37.7 378.7 38.3 377.9 38.9 376.9C39.5 375.9 40.1 374.6 40.8 373.6C41.5 372.6 42.3 371.6 43.0 370.8C43.7 370.0 44.4 369.5 45.2 368.9C45.9 368.4 46.6 368.0 47.3 367.6C47.9 367.2 48.6 366.8 49.2 366.6C49.8 366.4 50.4 366.3 51.1 366.6Z" fill="#fff" stroke="#000" stroke-width="0.9"/>
<path d="M50.8 367.8C51.4 368.1 52.1 368.7 52.7 369.2C53.3 369.7 53.9 370.4 54.3 371.1C54.7 371.8 55.0 372.6 55.2 373.5C55.4 374.5 55.4 375.5 55.5 376.5C55.6 377.6 55.7 378.7 55.7 379.8C55.8 381.0 55.9 382.2 55.8 383.3C55.7 384.4 55.5 385.5 55.3 386.5C55.1 387.5 55.0 388.5 54.8 389.4C54.7 390.3 54.6 391.0 54.5 391.7C54.4 392.4 54.1 393.1 54.1 393.7C54.0 394.3 54.0 394.9 54.0 395.5C54.0 396.1 54.2 396.7 54.2 397.4C54.2 398.1 54.2 398.9 54.0 399.5C53.8 400.1 53.5 400.7 53.1 401.1C52.6 401.5 52.1 401.6 51.4 401.9C50.8 402.2 50.1 402.5 49.2 402.8C48.4 403.0 47.3 403.3 46.2 403.3C45.2 403.4 44.0 403.2 43.0 403.1C42.1 403.0 41.2 403.0 40.4 402.7C39.6 402.5 38.9 402.3 38.3 401.5C37.7 400.7 37.3 399.3 36.9 398.0C36.6 396.6 36.5 395.0 36.3 393.4C36.2 391.8 36.0 389.9 36.0 388.3C36.0 386.6 36.1 384.7 36.4 383.4C36.7 382.0 37.3 381.2 37.8 380.3C38.3 379.3 38.8 378.5 39.3 377.5C39.9 376.5 40.4 375.3 41.1 374.3C41.7 373.3 42.4 372.4 43.1 371.6C43.8 370.9 44.5 370.3 45.2 369.8C45.9 369.2 46.6 368.6 47.2 368.2C47.9 367.9 48.5 367.5 49.1 367.4C49.7 367.4 50.2 367.5 50.8 367.8Z" fill="#fff" stroke="#000" stroke-width="0.9"/>
<path d="M50.6 368.6C51.2 368.9 51.8 369.5 52.4 370.1C52.9 370.6 53.4 371.4 53.8 372.1C54.2 372.7 54.6 373.4 54.8 374.2C55.0 375.0 55.1 375.9 55.2 376.9C55.2 378.0 55.1 379.2 55.1 380.4C55.1 381.5 55.1 382.6 55.0 383.6C55.0 384.7 55.0 385.6 54.9 386.6C54.8 387.5 54.5 388.5 54.3 389.3C54.1 390.1 53.9 390.7 53.8 391.3C53.7 392.0 53.6 392.7 53.6 393.4C53.6 394.0 53.8 394.7 53.8 395.3C53.8 395.8 53.8 396.3 53.8 396.9C53.7 397.4 53.7 398.2 53.5 398.8C53.3 399.4 53.2 400.1 52.8 400.5C52.4 400.9 51.8 401.0 51.2 401.2C50.5 401.4 49.9 401.5 49.0 401.7C48.2 401.9 47.2 402.3 46.2 402.4C45.2 402.5 44.1 402.5 43.2 402.4C42.3 402.3 41.5 402.1 40.8 401.8C40.1 401.5 39.4 401.3 38.8 400.5C38.3 399.8 37.7 398.8 37.4 397.5C37.0 396.3 36.8 394.8 36.7 393.2C36.6 391.7 36.6 389.8 36.7 388.2C36.7 386.6 36.7 384.9 37.0 383.6C37.2 382.3 37.6 381.4 38.0 380.5C38.5 379.6 39.1 379.0 39.7 378.1C40.3 377.2 40.9 376.2 41.5 375.3C42.1 374.3 42.7 373.3 43.3 372.5C43.9 371.7 44.6 371.1 45.3 370.7C45.9 370.2 46.6 369.9 47.2 369.5C47.8 369.2 48.3 368.8 48.9 368.7C49.5 368.5 50.0 368.4 50.6 368.6Z" fill="#fff" stroke="#000" stroke-width="0.9"/>
<path d="M50.3 370.1C50.8 370.3 51.5 370.6 52.0 371.0C52.6 371.4 53.2 372.0 53.6 372.6C53.9 373.3 54.1 374.1 54.3 375.0C54.4 375.8 54.5 376.7 54.5 377.7C54.6 378.6 54.7 379.6 54.7 380.7C54.8 381.7 54.8 382.8 54.7 383.8C54.6 384.8 54.3 385.7 54.2 386.6C54.1 387.5 54.0 388.4 54.0 389.2C53.9 390.0 53.9 390.7 53.7 391.3C53.6 391.9 53.3 392.5 53.2 393.0C53.1 393.5 53.1 394.0 53.1 394.5C53.1 395.0 53.2 395.6 53.2 396.2C53.2 396.7 53.1 397.4 53.0 398.0C52.8 398.5 52.6 399.0 52.2 399.4C51.9 399.8 51.4 400.1 50.9 400.4C50.4 400.8 49.8 401.3 49.0 401.5C48.2 401.8 47.2 402.1 46.2 402.1C45.3 402.2 44.2 401.9 43.3 401.8C42.4 401.6 41.7 401.5 41.0 401.2C40.3 400.9 39.7 400.6 39.3 399.8C38.8 399.0 38.6 397.7 38.3 396.5C38.0 395.3 37.9 394.0 37.7 392.6C37.6 391.2 37.3 389.6 37.2 388.2C37.2 386.7 37.2 385.0 37.4 383.8C37.6 382.5 38.1 381.8 38.5 380.9C38.9 379.9 39.3 379.2 39.8 378.3C40.3 377.4 40.9 376.3 41.5 375.5C42.1 374.7 42.9 374.0 43.5 373.4C44.1 372.8 44.7 372.4 45.3 372.0C45.9 371.5 46.5 371.0 47.1 370.6C47.7 370.3 48.2 370.0 48.7 369.9C49.3 369.8 49.7 369.9 50.3 370.1Z" fill="#fff" stroke="#000" stroke-width="0.9"/>
<path d="M50.0 371.2C50.5 371.4 51.2 371.5 51.7 371.9C52.2 372.3 52.8 372.9 53.1 373.5C53.5 374.1 53.6 374.9 53.8 375.7C53.9 376.5 53.9 377.4 54.0 378.3C54.0 379.2 54.1 380.2 54.1 381.2C54.1 382.1 54.2 383.1 54.3 384.0C54.3 384.9 54.2 385.8 54.1 386.7C54.0 387.5 53.8 388.4 53.6 389.1C53.4 389.8 53.1 390.4 53.0 390.9C52.8 391.5 52.6 392.0 52.5 392.5C52.5 393.0 52.6 393.5 52.6 394.0C52.7 394.6 52.7 395.0 52.7 395.5C52.7 396.1 52.7 396.7 52.5 397.3C52.4 397.8 52.3 398.5 52.0 399.0C51.7 399.4 51.3 399.8 50.8 400.1C50.2 400.3 49.6 400.5 48.8 400.6C48.1 400.7 47.1 400.8 46.2 400.8C45.4 400.8 44.4 400.7 43.5 400.6C42.7 400.5 42.0 400.6 41.3 400.3C40.7 400.1 40.0 400.0 39.5 399.3C39.0 398.7 38.7 397.5 38.4 396.4C38.1 395.2 38.1 393.8 38.0 392.4C38.0 391.0 38.0 389.5 38.1 388.1C38.1 386.7 38.2 385.3 38.3 384.1C38.5 383.0 38.8 382.2 39.1 381.4C39.4 380.5 39.8 379.8 40.3 378.9C40.8 378.1 41.3 377.2 41.9 376.3C42.4 375.5 43.0 374.6 43.6 374.0C44.2 373.3 44.8 372.8 45.4 372.4C45.9 372.0 46.5 371.8 47.1 371.6C47.6 371.4 48.1 371.3 48.5 371.3C49.0 371.2 49.5 371.1 50.0 371.2Z" fill="#fff" stroke="#000" stroke-width="0.9"/>
<path d="M49.9 371.8C50.4 372.0 50.9 372.5 51.3 373.0C51.8 373.5 52.2 374.3 52.4 374.9C52.7 375.6 52.9 376.2 53.1 376.9C53.2 377.5 53.4 378.2 53.5 378.9C53.6 379.7 53.8 380.5 53.8 381.4C53.9 382.2 54.0 383.2 53.9 384.1C53.9 385.0 53.7 385.9 53.6 386.7C53.5 387.5 53.3 388.3 53.1 389.0C52.9 389.7 52.7 390.2 52.6 390.7C52.4 391.2 52.2 391.7 52.2 392.2C52.1 392.7 52.2 393.2 52.2 393.6C52.2 394.1 52.3 394.5 52.2 394.9C52.2 395.4 52.1 395.9 52.0 396.5C51.9 397.0 51.8 397.5 51.5 398.0C51.3 398.5 50.9 398.8 50.4 399.2C50.0 399.5 49.4 399.8 48.7 400.0C48.0 400.2 47.1 400.5 46.2 400.5C45.4 400.5 44.4 400.3 43.7 400.1C42.9 399.9 42.3 399.6 41.7 399.3C41.2 399.0 40.7 398.7 40.2 398.1C39.8 397.5 39.4 396.6 39.1 395.6C38.8 394.6 38.5 393.5 38.4 392.2C38.2 391.0 38.2 389.4 38.2 388.1C38.3 386.8 38.5 385.4 38.7 384.3C38.9 383.2 39.2 382.6 39.6 381.8C39.9 381.0 40.3 380.3 40.8 379.6C41.2 378.8 41.7 378.0 42.2 377.2C42.7 376.5 43.3 375.8 43.9 375.2C44.4 374.6 44.9 374.1 45.4 373.7C46.0 373.2 46.5 372.8 47.0 372.5C47.5 372.2 48.0 371.9 48.5 371.7C49.0 371.6 49.4 371.6 49.9 371.8Z" fill="#fff" stroke="#000" stroke-width="0.9"/>
<path d="M49.1 375.1C49.5 375.2 50.0 375.4 50.4 375.7C50.8 376.0 51.2 376.4 51.5 376.9C51.8 377.3 51.9 377.9 52.0 378.5C52.1 379.1 52.2 379.8 52.2 380.5C52.2 381.2 52.1 382.1 52.1 382.8C52.1 383.6 52.0 384.3 52.0 385.0C52.0 385.6 52.1 386.2 52.1 386.9C52.1 387.5 52.1 388.2 52.0 388.8C51.9 389.3 51.8 389.8 51.6 390.2C51.5 390.7 51.3 391.0 51.2 391.4C51.1 391.8 51.1 392.1 51.1 392.4C51.0 392.8 51.1 393.1 51.1 393.5C51.0 393.8 51.0 394.3 50.9 394.6C50.8 395.0 50.6 395.4 50.4 395.7C50.2 396.0 49.9 396.2 49.5 396.5C49.1 396.8 48.7 397.1 48.2 397.4C47.7 397.7 46.9 398.2 46.2 398.4C45.5 398.6 44.6 398.7 44.0 398.6C43.3 398.5 42.8 398.2 42.3 397.8C41.9 397.4 41.6 396.9 41.3 396.3C41.0 395.6 40.9 394.6 40.7 393.8C40.6 392.9 40.5 392.0 40.4 391.0C40.2 390.1 40.1 389.0 40.0 388.0C40.0 386.9 40.0 385.8 40.1 384.9C40.2 384.0 40.5 383.4 40.8 382.8C41.0 382.1 41.4 381.7 41.8 381.1C42.2 380.5 42.6 379.8 43.0 379.2C43.4 378.6 43.9 377.9 44.3 377.4C44.7 376.9 45.2 376.5 45.6 376.2C46.0 375.8 46.5 375.6 46.9 375.4C47.3 375.2 47.6 375.1 48.0 375.0C48.4 375.0 48.7 374.9 49.1 375.1Z" fill="#fff" stroke="#000" stroke-width="0.7"/>
<path d="M48.5 378.0C48.8 378.1 49.1 378.5 49.3 378.8C49.6 379.0 49.9 379.3 50.1 379.6C50.4 379.9 50.6 380.1 50.7 380.5C50.9 380.9 50.9 381.4 51.0 381.9C51.0 382.5 51.0 383.1 51.0 383.7C51.0 384.3 51.1 384.8 51.1 385.4C51.0 385.9 51.0 386.5 50.8 387.0C50.7 387.5 50.4 388.0 50.2 388.4C50.1 388.8 50.0 389.0 50.0 389.4C49.9 389.7 49.9 390.1 49.9 390.4C49.9 390.7 49.8 390.9 49.8 391.1C49.8 391.4 49.8 391.5 49.8 391.8C49.7 392.1 49.8 392.6 49.8 392.9C49.7 393.3 49.7 393.6 49.5 393.9C49.3 394.2 49.1 394.3 48.8 394.5C48.5 394.7 48.2 395.0 47.8 395.3C47.4 395.6 46.8 396.2 46.3 396.4C45.7 396.5 44.9 396.5 44.5 396.3C44.0 396.1 43.6 395.6 43.3 395.3C43.0 394.9 42.7 394.7 42.5 394.2C42.2 393.7 42.0 393.1 41.9 392.5C41.8 391.8 41.8 391.0 41.8 390.2C41.7 389.4 41.8 388.6 41.7 387.8C41.7 387.1 41.6 386.2 41.7 385.6C41.7 384.9 41.9 384.4 42.1 383.9C42.3 383.5 42.6 383.1 42.9 382.6C43.2 382.2 43.4 381.5 43.7 381.0C44.0 380.5 44.4 379.9 44.7 379.5C45.0 379.1 45.4 379.0 45.8 378.8C46.1 378.6 46.4 378.5 46.7 378.3C47.0 378.2 47.3 377.9 47.6 377.9C47.9 377.8 48.2 377.8 48.5 378.0Z" fill="#fff" stroke="#000" stroke-width="0.7"/>
<path d="M47.9 380.7C48.1 380.8 48.3 381.0 48.5 381.2C48.7 381.5 48.8 381.8 49.0 382.1C49.1 382.3 49.2 382.6 49.2 382.9C49.3 383.2 49.4 383.5 49.4 383.8C49.4 384.1 49.5 384.5 49.5 384.9C49.5 385.3 49.5 385.7 49.5 386.1C49.5 386.5 49.4 386.8 49.4 387.2C49.3 387.5 49.3 387.9 49.2 388.1C49.2 388.4 49.1 388.7 49.1 388.9C49.0 389.2 49.0 389.4 48.9 389.6C48.8 389.8 48.8 389.9 48.8 390.0C48.7 390.2 48.7 390.3 48.6 390.4C48.6 390.6 48.5 390.7 48.5 390.9C48.4 391.0 48.3 391.2 48.2 391.4C48.2 391.6 48.1 391.8 47.9 392.1C47.8 392.3 47.6 392.7 47.4 393.0C47.1 393.3 46.7 393.9 46.3 394.1C45.9 394.3 45.2 394.4 44.9 394.3C44.5 394.2 44.2 393.9 44.0 393.6C43.7 393.2 43.6 392.9 43.5 392.4C43.3 392.0 43.2 391.5 43.2 391.0C43.1 390.5 43.1 389.9 43.1 389.4C43.1 388.9 43.2 388.2 43.2 387.7C43.3 387.2 43.4 386.7 43.5 386.3C43.6 385.9 43.6 385.6 43.7 385.3C43.8 385.0 43.9 384.7 44.1 384.3C44.2 383.9 44.4 383.5 44.6 383.1C44.8 382.8 45.0 382.4 45.2 382.0C45.4 381.7 45.7 381.5 45.9 381.2C46.1 381.0 46.4 380.9 46.6 380.7C46.8 380.6 47.1 380.6 47.3 380.6C47.5 380.6 47.6 380.6 47.9 380.7Z" fill="#fff" stroke="#000" stroke-width="0.7"/>
</g>
<rect x="34.9" y="334.5" width="83.6" height="83.5" fill="none" stroke="#000" stroke-width="2.1"/>
<line x1="30.9" y1="334.5" x2="34.9" y2="334.5" stroke="#000" stroke-width="1.3"/>
<line x1="30.9" y1="351" x2="34.9" y2="351" stroke="#000" stroke-width="1.3"/>
<line x1="30.9" y1="368" x2="34.9" y2="368" stroke="#000" stroke-width="1.3"/>
<line x1="30.9" y1="385" x2="34.9" y2="385" stroke="#000" stroke-width="1.3"/>
<line x1="30.9" y1="401.5" x2="34.9" y2="401.5" stroke="#000" stroke-width="1.3"/>
<line x1="30.9" y1="418" x2="34.9" y2="418" stroke="#000" stroke-width="1.3"/>
<text transform="translate(27.4,373.6) rotate(-90)" text-anchor="middle" font-family="Liberation Serif, serif" font-weight="bold" font-size="15.5" stroke="#000" stroke-width="0.2" textLength="29.4" lengthAdjust="spacingAndGlyphs">FSC</text>
<clipPath id="c2"><rect x="135" y="334.8" width="82.9" height="83.69999999999999"/></clipPath>
<g clip-path="url(#c2)">
<path d="M135.5 382.7C135.9 381.1 136.6 380.1 137.4 379.1C138.2 378.2 139.2 377.5 140.1 376.9C141.0 376.3 142.1 375.8 143.0 375.5C144.0 375.2 145.0 375.1 145.8 375.2C146.6 375.3 147.2 375.7 147.8 376.2C148.4 376.7 148.9 377.3 149.3 378.1C149.7 378.9 150.0 379.8 150.3 380.8C150.6 381.7 150.8 382.8 151.0 383.8C151.2 384.8 151.4 385.8 151.5 386.7C151.6 387.7 151.6 388.6 151.6 389.6C151.6 390.6 151.7 391.6 151.5 392.5C151.3 393.4 151.2 394.2 150.5 394.8C149.8 395.4 148.6 395.6 147.4 395.8C146.2 396.0 144.8 395.9 143.5 396.0C142.2 396.1 140.6 396.4 139.3 396.2C138.1 396.0 136.7 396.0 136.0 394.8C135.3 393.6 135.1 391.1 135.0 389.0C134.9 387.0 135.1 384.3 135.5 382.7Z" fill="#fff" stroke="#000" stroke-width="0.7"/>
<path d="M136.3 382.8C136.6 381.3 137.3 380.5 138.0 379.6C138.6 378.7 139.5 378.0 140.4 377.5C141.2 376.9 142.2 376.4 143.1 376.1C143.9 375.9 144.9 375.8 145.6 375.9C146.3 376.1 146.9 376.4 147.4 376.9C147.9 377.3 148.4 377.9 148.8 378.6C149.1 379.3 149.4 380.2 149.7 381.1C149.9 381.9 150.1 382.9 150.3 383.8C150.4 384.7 150.6 385.6 150.7 386.5C150.7 387.3 150.7 388.2 150.7 389.0C150.7 389.9 150.8 390.8 150.6 391.5C150.5 392.3 150.3 393.1 149.7 393.6C149.1 394.1 148.0 394.4 147.0 394.6C146.0 394.8 144.7 394.7 143.5 394.8C142.3 394.9 140.9 395.1 139.8 394.9C138.7 394.7 137.5 394.6 136.9 393.6C136.2 392.5 136.0 390.3 135.9 388.5C135.8 386.7 136.0 384.3 136.3 382.8Z" fill="#fff" stroke="#000" stroke-width="0.7"/>
<path d="M137.2 388.5C137.4 387.8 137.6 387.7 137.9 387.3C138.2 386.9 138.5 386.8 138.9 386.2C139.3 385.6 140.0 384.6 140.5 383.8C141.1 383.0 141.8 382.1 142.4 381.5C143.0 380.9 143.6 380.6 144.2 380.4C144.8 380.2 145.4 380.1 145.8 380.4C146.2 380.7 146.6 381.6 146.9 382.3C147.2 383.1 147.4 384.2 147.6 385.0C147.8 385.8 147.9 386.5 148.0 387.3C148.1 388.0 148.2 388.7 148.2 389.6C148.2 390.5 148.4 391.6 148.3 392.5C148.2 393.3 148.2 394.3 147.6 394.8C147.0 395.3 145.7 395.4 144.6 395.5C143.6 395.6 142.2 395.5 141.2 395.4C140.2 395.3 139.2 395.4 138.5 395.2C137.7 395.0 136.9 394.8 136.6 394.2C136.3 393.6 136.4 392.4 136.5 391.4C136.6 390.5 137.0 389.2 137.2 388.5Z" fill="#fff" stroke="#000" stroke-width="0.7"/>
<path d="M138.1 387.9C138.3 387.3 138.4 387.2 138.6 386.9C138.8 386.6 139.0 386.5 139.3 386.0C139.7 385.5 140.0 384.6 140.5 383.8C141.0 383.0 141.6 381.8 142.3 381.2C142.9 380.6 143.7 380.3 144.2 380.2C144.8 380.1 145.3 380.1 145.7 380.5C146.2 380.9 146.5 381.7 146.7 382.4C147.0 383.1 147.2 384.2 147.3 384.9C147.5 385.7 147.5 386.3 147.6 386.9C147.6 387.6 147.6 388.2 147.6 388.9C147.6 389.6 147.7 390.5 147.6 391.2C147.5 391.9 147.5 392.7 146.9 393.1C146.4 393.5 145.4 393.6 144.5 393.7C143.6 393.8 142.4 393.7 141.6 393.6C140.7 393.6 139.9 393.5 139.3 393.3C138.7 393.1 138.1 393.0 137.8 392.4C137.5 391.9 137.6 391.0 137.6 390.2C137.7 389.5 137.9 388.4 138.1 387.9Z" fill="#fff" stroke="#000" stroke-width="0.7"/>
<path d="M158.0 394.8C158.2 393.8 158.8 393.0 159.3 392.1C159.8 391.3 160.4 390.5 160.8 389.6C161.2 388.7 161.4 387.4 161.7 386.6C162.0 385.7 162.2 384.7 162.6 384.4C163.0 384.1 163.5 384.5 163.9 384.8C164.4 385.1 165.0 385.8 165.5 386.2C166.0 386.6 166.5 387.0 167.1 387.4C167.7 387.7 168.2 388.2 168.9 388.5C169.6 388.8 170.4 389.0 171.2 389.3C171.9 389.6 172.7 389.9 173.5 390.2C174.3 390.5 175.0 390.9 175.7 391.4C176.4 391.9 177.1 392.4 177.6 393.1C178.1 393.8 178.5 394.8 178.9 395.8C179.2 396.7 179.4 397.8 179.5 398.8C179.6 399.8 179.5 400.8 179.4 401.8C179.3 402.7 179.0 403.7 178.7 404.6C178.4 405.5 178.0 406.3 177.5 407.1C177.0 407.8 176.4 408.6 175.8 409.2C175.2 409.8 174.4 410.4 173.6 410.9C172.8 411.3 172.0 411.8 171.2 412.1C170.4 412.4 169.6 412.6 168.8 412.8C168.1 413.0 167.3 413.1 166.6 413.3C165.9 413.5 165.3 413.9 164.8 414.1C164.2 414.3 163.7 414.6 163.2 414.4C162.7 414.2 162.4 413.6 162.0 413.1C161.6 412.6 161.3 411.9 160.8 411.5C160.3 411.1 159.5 411.1 158.8 410.8C158.1 410.5 157.4 410.4 156.8 409.8C156.2 409.2 155.6 408.2 155.2 407.3C154.8 406.4 154.3 405.3 154.5 404.6C154.7 403.9 155.5 403.5 156.1 403.0C156.7 402.4 157.7 402.0 158.0 401.2C158.3 400.4 158.0 399.2 158.0 398.1C158.0 397.0 157.8 395.8 158.0 394.8Z" fill="#fff" stroke="#000" stroke-width="0.7"/>
<path d="M158.9 395.5C159.1 394.6 159.6 393.8 160.1 393.0C160.5 392.2 161.1 391.6 161.5 390.7C161.8 389.9 162.0 388.7 162.3 387.9C162.6 387.2 162.8 386.2 163.1 386.0C163.5 385.7 163.9 386.1 164.4 386.3C164.8 386.6 165.3 387.2 165.8 387.6C166.3 387.9 166.7 388.2 167.3 388.6C167.8 388.9 168.3 389.3 168.9 389.6C169.5 389.9 170.3 390.1 171.0 390.3C171.7 390.6 172.5 390.8 173.2 391.1C173.9 391.4 174.6 391.8 175.3 392.2C175.9 392.7 176.5 393.1 177.0 393.8C177.5 394.5 177.9 395.4 178.2 396.3C178.5 397.2 178.7 398.2 178.8 399.1C178.9 400.1 178.8 401.0 178.7 401.9C178.6 402.8 178.4 403.7 178.1 404.5C177.8 405.4 177.4 406.1 176.9 406.8C176.5 407.6 176.0 408.2 175.4 408.8C174.8 409.4 174.0 409.9 173.3 410.4C172.6 410.9 171.8 411.3 171.1 411.6C170.3 411.9 169.6 412.1 168.8 412.3C168.1 412.5 167.4 412.6 166.7 412.7C166.1 412.9 165.6 413.3 165.0 413.5C164.5 413.6 164.0 413.9 163.6 413.7C163.2 413.5 162.9 413.0 162.5 412.5C162.1 412.1 161.8 411.4 161.3 411.0C160.8 410.6 160.1 410.6 159.5 410.3C158.9 410.0 158.3 409.9 157.7 409.3C157.2 408.8 156.6 407.8 156.3 407.0C155.9 406.2 155.5 405.2 155.6 404.5C155.8 403.8 156.6 403.5 157.1 403.0C157.6 402.5 158.5 402.1 158.8 401.4C159.1 400.6 158.9 399.5 158.9 398.5C158.9 397.5 158.7 396.4 158.9 395.5Z" fill="#fff" stroke="#000" stroke-width="0.7"/>
<path d="M160.8 400.0C160.9 399.1 160.7 397.6 160.8 396.4C160.9 395.3 160.9 393.9 161.4 393.1C161.9 392.3 162.8 392.0 163.7 391.7C164.5 391.4 165.6 391.3 166.6 391.3C167.6 391.3 168.6 391.4 169.6 391.6C170.5 391.8 171.5 392.1 172.4 392.5C173.3 392.9 174.0 393.4 174.7 394.0C175.4 394.6 176.0 395.3 176.4 396.0C176.8 396.7 177.2 397.6 177.4 398.5C177.6 399.3 177.7 400.3 177.6 401.2C177.5 402.1 177.4 403.2 177.1 404.2C176.8 405.1 176.4 406.1 175.8 406.9C175.2 407.7 174.5 408.4 173.7 409.0C173.0 409.6 172.1 410.0 171.2 410.4C170.3 410.8 169.3 411.0 168.3 411.1C167.4 411.2 166.4 411.2 165.5 411.0C164.6 410.8 163.9 410.4 163.2 409.9C162.5 409.4 161.9 408.8 161.4 408.1C160.9 407.4 160.5 406.6 160.2 405.8C159.9 405.1 159.7 404.2 159.7 403.5C159.7 402.8 159.9 402.5 160.1 401.9C160.3 401.3 160.7 400.9 160.8 400.0Z" fill="#fff" stroke="#000" stroke-width="0.7"/>
<path d="M163.2 401.0C163.2 400.4 163.3 399.4 163.4 398.6C163.6 397.9 163.6 397.1 164.0 396.5C164.3 396.0 164.8 395.6 165.4 395.4C166.0 395.2 166.8 395.2 167.4 395.2C168.1 395.3 168.8 395.4 169.5 395.5C170.1 395.6 170.8 395.6 171.5 395.7C172.1 395.9 172.7 396.2 173.2 396.6C173.7 397.0 174.1 397.5 174.4 398.1C174.8 398.6 175.2 399.1 175.4 399.7C175.6 400.3 175.7 401.0 175.6 401.8C175.5 402.5 175.0 403.3 174.8 404.0C174.5 404.7 174.3 405.3 173.9 405.9C173.5 406.5 173.1 407.1 172.5 407.5C172.0 407.9 171.3 408.2 170.7 408.6C170.0 408.9 169.3 409.4 168.5 409.6C167.7 409.7 166.8 409.9 166.1 409.7C165.5 409.5 165.0 408.9 164.6 408.4C164.1 408.0 163.8 407.4 163.5 406.9C163.2 406.3 162.9 405.7 162.8 405.2C162.7 404.6 162.8 404.0 162.9 403.5C162.9 403.0 163.1 402.8 163.1 402.4C163.2 402.0 163.1 401.6 163.2 401.0Z" fill="#fff" stroke="#000" stroke-width="0.7"/>
<path d="M166.4 402.3C166.5 402.1 166.7 401.8 166.9 401.5C167.0 401.3 167.1 401.1 167.3 401.0C167.4 400.8 167.6 400.6 167.8 400.4C168.0 400.3 168.2 400.1 168.4 399.9C168.7 399.8 169.0 399.6 169.3 399.5C169.7 399.4 170.1 399.4 170.4 399.4C170.7 399.5 171.1 399.6 171.3 399.8C171.6 400.0 171.9 400.3 172.0 400.6C172.2 400.8 172.3 401.2 172.4 401.5C172.5 401.9 172.5 402.2 172.5 402.6C172.4 403.0 172.4 403.4 172.3 403.8C172.2 404.1 172.0 404.5 171.9 404.9C171.7 405.2 171.5 405.6 171.2 405.9C170.9 406.3 170.6 406.6 170.2 406.9C169.8 407.2 169.2 407.5 168.7 407.6C168.2 407.6 167.7 407.5 167.3 407.4C166.9 407.2 166.6 406.8 166.4 406.5C166.2 406.2 166.1 405.7 166.0 405.4C165.9 405.0 165.9 404.7 165.9 404.3C165.9 404.0 166.0 403.7 166.1 403.5C166.1 403.3 166.1 403.2 166.2 403.0C166.3 402.8 166.3 402.6 166.4 402.3Z" fill="#fff" stroke="#000" stroke-width="0.7"/>
<path d="M145.8 391.3C146.8 391.4 147.9 391.6 148.8 391.9C149.8 392.2 150.8 392.6 151.6 393.1C152.4 393.6 153.0 394.1 153.6 394.8C154.2 395.5 154.7 396.2 155.1 397.1C155.5 398.0 155.8 399.1 156.1 400.1C156.3 401.2 156.5 402.4 156.5 403.5C156.5 404.6 156.5 405.7 156.3 406.9C156.2 408.0 155.9 409.1 155.7 410.4C155.5 411.7 155.4 413.3 155.0 414.5C154.6 415.8 154.2 417.2 153.3 417.9C152.4 418.6 150.9 418.8 149.4 418.9C148.0 419.1 146.3 418.9 144.7 419.0C143.1 419.1 141.1 419.8 139.6 419.7C138.1 419.6 136.3 419.8 135.5 418.5C134.7 417.2 134.7 414.3 134.6 412.0C134.5 409.7 134.8 406.6 134.9 404.6C135.0 402.6 135.0 401.3 135.2 399.9C135.3 398.6 135.6 397.5 136.0 396.5C136.4 395.5 137.1 394.7 137.8 394.1C138.4 393.4 139.3 392.9 140.1 392.5C140.9 392.1 141.9 391.7 142.8 391.5C143.8 391.3 144.8 391.2 145.8 391.3Z" fill="#fff" stroke="#000" stroke-width="0.9"/>
<path d="M145.8 391.8C146.7 392.0 147.7 392.2 148.6 392.5C149.5 392.9 150.5 393.2 151.2 393.7C152.0 394.2 152.5 394.8 153.1 395.4C153.7 396.0 154.1 396.7 154.6 397.5C155.0 398.3 155.5 399.2 155.8 400.2C156.0 401.2 156.1 402.5 156.1 403.5C156.0 404.6 155.7 405.6 155.5 406.7C155.3 407.8 155.0 408.7 154.9 410.0C154.7 411.2 154.9 412.9 154.6 414.1C154.3 415.4 153.9 416.8 153.0 417.5C152.1 418.2 150.6 418.2 149.2 418.3C147.8 418.4 146.3 418.2 144.7 418.3C143.1 418.4 141.3 419.0 139.9 418.9C138.4 418.8 136.8 418.9 136.0 417.7C135.2 416.5 135.2 413.8 135.0 411.7C134.9 409.5 135.0 406.5 135.1 404.6C135.1 402.7 135.2 401.3 135.5 400.1C135.7 398.8 136.2 398.0 136.6 397.1C137.1 396.2 137.7 395.5 138.3 394.8C138.9 394.1 139.5 393.4 140.3 392.9C141.0 392.4 142.0 392.0 142.9 391.8C143.8 391.6 144.8 391.7 145.8 391.8Z" fill="#fff" stroke="#000" stroke-width="0.9"/>
<path d="M145.7 392.4C146.6 392.5 147.5 392.9 148.4 393.2C149.3 393.6 150.1 393.9 150.9 394.3C151.7 394.6 152.5 394.9 153.0 395.5C153.5 396.1 153.9 396.9 154.1 397.8C154.4 398.7 154.4 399.7 154.6 400.7C154.8 401.7 155.2 402.6 155.3 403.6C155.4 404.6 155.6 405.7 155.4 406.7C155.3 407.7 154.9 408.7 154.6 409.8C154.4 411.0 154.3 412.3 153.9 413.4C153.5 414.6 153.2 415.8 152.4 416.5C151.6 417.2 150.3 417.3 149.0 417.6C147.7 417.8 146.2 417.9 144.7 418.0C143.2 418.1 141.4 418.5 140.1 418.3C138.7 418.1 137.4 418.0 136.6 416.8C135.9 415.6 135.8 413.3 135.6 411.3C135.4 409.2 135.4 406.4 135.4 404.6C135.5 402.8 135.8 401.6 136.1 400.4C136.3 399.2 136.6 398.3 137.0 397.5C137.4 396.6 137.8 395.7 138.4 395.1C139.0 394.4 139.7 393.9 140.5 393.5C141.2 393.1 142.1 392.7 143.0 392.5C143.9 392.4 144.8 392.3 145.7 392.4Z" fill="#fff" stroke="#000" stroke-width="0.9"/>
<path d="M145.7 392.6C146.6 392.7 147.5 393.3 148.3 393.6C149.1 394.0 149.9 394.4 150.5 394.9C151.2 395.3 151.8 395.7 152.3 396.3C152.7 396.9 153.0 397.6 153.4 398.4C153.7 399.1 154.0 399.9 154.3 400.8C154.6 401.7 155.0 402.7 155.1 403.6C155.2 404.6 155.0 405.6 154.8 406.6C154.6 407.6 154.3 408.5 154.0 409.5C153.8 410.6 153.8 412.0 153.5 413.0C153.1 414.1 152.7 415.1 151.9 415.7C151.1 416.3 149.9 416.4 148.7 416.6C147.5 416.9 146.1 417.0 144.7 417.2C143.3 417.4 141.6 417.8 140.3 417.7C139.0 417.6 137.6 417.6 136.8 416.5C136.1 415.4 136.0 413.1 135.9 411.1C135.8 409.1 136.1 406.3 136.2 404.6C136.4 402.9 136.6 401.9 136.8 400.8C137.0 399.6 137.1 398.7 137.4 397.8C137.7 396.9 138.2 396.1 138.7 395.5C139.3 394.9 140.0 394.6 140.7 394.1C141.4 393.7 142.2 393.2 143.0 393.0C143.9 392.7 144.8 392.5 145.7 392.6Z" fill="#fff" stroke="#000" stroke-width="0.9"/>
<path d="M145.6 393.7C146.4 393.7 147.3 394.0 148.0 394.3C148.8 394.6 149.6 394.9 150.3 395.3C151.0 395.6 151.7 395.9 152.1 396.5C152.6 397.0 152.8 397.8 153.1 398.5C153.4 399.3 153.9 400.1 154.0 400.9C154.1 401.8 154.0 402.8 153.9 403.7C153.9 404.6 153.8 405.5 153.7 406.4C153.7 407.3 153.6 408.2 153.4 409.2C153.3 410.2 153.1 411.4 152.8 412.4C152.5 413.5 152.5 414.9 151.8 415.5C151.1 416.2 149.8 416.2 148.6 416.4C147.4 416.6 146.0 416.6 144.7 416.7C143.4 416.7 141.8 417.0 140.6 416.8C139.4 416.6 138.2 416.5 137.5 415.4C136.9 414.4 136.7 412.3 136.6 410.5C136.5 408.7 136.9 406.2 137.0 404.6C137.0 403.0 136.7 401.9 136.8 400.7C136.9 399.6 137.1 398.7 137.5 397.9C137.8 397.1 138.4 396.5 139.0 395.9C139.5 395.4 140.1 394.8 140.9 394.5C141.6 394.2 142.4 394.2 143.2 394.1C144.0 393.9 144.8 393.7 145.6 393.7Z" fill="#fff" stroke="#000" stroke-width="0.9"/>
<path d="M145.6 393.9C146.4 393.9 147.3 394.0 148.0 394.3C148.8 394.7 149.4 395.3 150.0 395.8C150.5 396.3 150.8 396.9 151.3 397.4C151.7 397.9 152.1 398.4 152.4 399.0C152.8 399.6 153.1 400.4 153.3 401.2C153.5 402.0 153.6 402.9 153.6 403.8C153.7 404.6 153.7 405.5 153.6 406.3C153.5 407.2 153.2 408.1 153.0 409.0C152.8 409.9 152.6 410.9 152.2 411.8C151.9 412.7 151.7 413.7 151.0 414.4C150.4 415.0 149.4 415.5 148.4 415.8C147.3 416.1 146.0 416.2 144.7 416.2C143.4 416.3 141.9 416.3 140.8 416.1C139.7 415.8 138.6 415.7 138.0 414.7C137.4 413.7 137.3 411.8 137.1 410.1C137.0 408.5 137.1 406.1 137.1 404.6C137.2 403.1 137.2 402.0 137.3 401.0C137.5 400.0 137.6 399.1 138.0 398.3C138.3 397.6 138.8 396.9 139.3 396.4C139.9 396.0 140.5 395.7 141.2 395.4C141.9 395.1 142.5 394.8 143.3 394.6C144.0 394.3 144.8 394.0 145.6 393.9Z" fill="#fff" stroke="#000" stroke-width="0.9"/>
<path d="M145.5 394.8C146.2 394.9 147.0 395.1 147.7 395.3C148.4 395.6 149.1 395.9 149.7 396.3C150.3 396.7 150.8 397.0 151.2 397.5C151.5 398.0 151.8 398.6 152.0 399.3C152.2 400.0 152.3 400.8 152.4 401.6C152.5 402.3 152.8 403.1 152.9 403.8C153.0 404.6 153.2 405.4 153.2 406.3C153.1 407.1 152.8 407.9 152.5 408.7C152.3 409.6 151.9 410.4 151.6 411.3C151.3 412.1 151.2 413.1 150.7 413.8C150.1 414.5 149.2 415.0 148.2 415.3C147.2 415.5 145.9 415.4 144.7 415.4C143.5 415.3 142.2 415.3 141.2 415.1C140.1 414.9 139.0 415.0 138.4 414.1C137.8 413.3 137.5 411.6 137.3 410.0C137.2 408.4 137.4 406.0 137.5 404.6C137.6 403.2 137.9 402.3 138.1 401.4C138.2 400.4 138.3 399.7 138.6 398.9C138.9 398.2 139.2 397.4 139.6 396.9C140.1 396.3 140.7 395.9 141.3 395.6C141.9 395.2 142.6 395.0 143.3 394.9C144.0 394.7 144.8 394.7 145.5 394.8Z" fill="#fff" stroke="#000" stroke-width="0.9"/>
<path d="M145.5 395.4C146.2 395.4 147.0 395.3 147.7 395.5C148.3 395.7 148.9 396.3 149.4 396.8C149.9 397.2 150.2 397.7 150.6 398.2C150.9 398.7 151.2 399.2 151.4 399.8C151.6 400.4 151.6 401.1 151.8 401.8C152.0 402.5 152.5 403.1 152.6 403.9C152.7 404.6 152.5 405.3 152.4 406.1C152.3 406.9 152.2 407.6 152.0 408.4C151.8 409.2 151.6 410.2 151.3 410.9C151.0 411.7 150.7 412.4 150.1 413.0C149.6 413.5 148.8 414.1 147.9 414.4C147.0 414.7 145.8 414.6 144.7 414.7C143.6 414.8 142.2 415.1 141.2 414.9C140.2 414.7 139.3 414.5 138.8 413.5C138.3 412.6 138.4 410.8 138.3 409.3C138.2 407.8 138.2 405.9 138.2 404.6C138.2 403.3 138.3 402.4 138.4 401.5C138.4 400.6 138.4 399.6 138.6 398.9C138.9 398.3 139.5 397.8 140.0 397.4C140.5 397.0 141.0 396.8 141.6 396.4C142.2 396.1 142.8 395.7 143.4 395.5C144.1 395.4 144.8 395.4 145.5 395.4Z" fill="#fff" stroke="#000" stroke-width="0.9"/>
<path d="M145.4 395.6C146.1 395.7 146.8 396.2 147.3 396.5C147.9 396.9 148.4 397.3 148.9 397.6C149.3 398.0 149.8 398.3 150.1 398.7C150.4 399.1 150.7 399.6 150.9 400.1C151.1 400.7 151.3 401.3 151.5 401.9C151.7 402.6 151.9 403.2 152.0 403.9C152.1 404.6 152.1 405.3 152.0 406.0C151.9 406.7 151.5 407.4 151.3 408.1C151.1 408.8 150.9 409.6 150.7 410.3C150.4 411.1 150.3 411.9 149.8 412.5C149.3 413.0 148.5 413.3 147.6 413.5C146.8 413.8 145.7 413.8 144.7 413.8C143.7 413.9 142.4 414.2 141.5 414.1C140.5 414.0 139.5 414.0 139.0 413.2C138.5 412.4 138.5 410.6 138.4 409.2C138.4 407.7 138.8 405.8 138.9 404.6C138.9 403.4 138.9 402.6 139.0 401.8C139.1 401.0 139.1 400.2 139.4 399.6C139.6 399.0 140.0 398.5 140.4 398.0C140.8 397.6 141.2 397.1 141.7 396.7C142.2 396.3 142.8 395.8 143.4 395.6C144.0 395.4 144.8 395.4 145.4 395.6Z" fill="#fff" stroke="#000" stroke-width="0.9"/>
<path d="M145.4 396.2C146.0 396.2 146.7 396.5 147.2 396.8C147.8 397.1 148.1 397.8 148.5 398.2C148.9 398.6 149.3 398.9 149.6 399.2C150.0 399.5 150.5 399.7 150.8 400.2C151.0 400.7 151.0 401.5 151.0 402.1C151.0 402.7 150.9 403.4 150.9 404.0C150.9 404.6 151.0 405.2 151.0 405.8C151.0 406.5 151.0 407.1 150.9 407.9C150.8 408.6 150.6 409.4 150.4 410.1C150.2 410.8 150.0 411.6 149.5 412.0C149.0 412.4 148.2 412.5 147.4 412.7C146.6 412.9 145.6 413.0 144.7 413.2C143.8 413.3 142.5 413.7 141.7 413.5C140.8 413.4 140.0 413.1 139.6 412.3C139.2 411.5 139.4 409.8 139.3 408.5C139.3 407.2 139.2 405.7 139.2 404.6C139.1 403.5 138.9 402.6 139.0 401.8C139.1 401.0 139.4 400.5 139.7 399.9C140.0 399.4 140.3 399.0 140.7 398.5C141.1 398.1 141.5 397.7 142.0 397.4C142.4 397.1 143.0 396.8 143.6 396.6C144.1 396.4 144.8 396.1 145.4 396.2Z" fill="#fff" stroke="#000" stroke-width="0.7"/>
<path d="M145.2 398.2C145.7 398.2 146.3 398.2 146.7 398.5C147.1 398.7 147.4 399.2 147.7 399.6C148.0 399.9 148.2 400.2 148.4 400.5C148.6 400.9 148.8 401.2 148.8 401.6C148.9 402.0 148.8 402.6 148.8 403.0C148.8 403.4 148.9 403.8 148.9 404.2C149.0 404.6 149.2 405.0 149.3 405.5C149.3 405.9 149.1 406.4 149.0 406.9C149.0 407.4 148.9 408.0 148.8 408.5C148.6 409.1 148.6 409.7 148.2 410.1C147.9 410.4 147.3 410.6 146.7 410.7C146.1 410.9 145.4 410.9 144.7 410.9C144.0 410.9 143.2 411.0 142.6 410.8C142.0 410.6 141.6 410.3 141.3 409.8C141.0 409.2 140.9 408.4 140.7 407.5C140.6 406.6 140.3 405.4 140.3 404.6C140.2 403.8 140.3 403.1 140.5 402.5C140.6 402.0 140.9 401.7 141.1 401.3C141.3 400.9 141.5 400.4 141.7 400.1C142.0 399.7 142.3 399.4 142.6 399.2C143.0 398.9 143.4 398.8 143.9 398.7C144.3 398.5 144.8 398.2 145.2 398.2Z" fill="#fff" stroke="#000" stroke-width="0.7"/>
<path d="M145.1 400.0C145.4 400.1 145.7 400.4 146.0 400.6C146.2 400.8 146.4 401.2 146.6 401.4C146.7 401.7 146.8 401.9 146.9 402.2C147.0 402.4 147.1 402.6 147.1 402.9C147.2 403.1 147.2 403.4 147.2 403.6C147.3 403.8 147.3 404.1 147.3 404.4C147.3 404.6 147.3 404.8 147.3 405.1C147.3 405.4 147.2 405.6 147.2 405.9C147.1 406.2 147.1 406.5 147.0 406.8C146.9 407.1 146.8 407.3 146.7 407.6C146.5 407.9 146.3 408.3 146.0 408.6C145.7 408.8 145.1 409.2 144.7 409.2C144.3 409.2 143.7 408.8 143.4 408.5C143.0 408.3 142.9 408.0 142.7 407.6C142.5 407.2 142.4 406.9 142.3 406.4C142.2 405.9 142.1 405.1 142.1 404.6C142.1 404.1 142.1 403.7 142.2 403.4C142.2 403.0 142.3 402.8 142.4 402.5C142.5 402.2 142.6 401.9 142.7 401.6C142.9 401.3 143.0 401.0 143.2 400.8C143.5 400.5 143.8 400.3 144.1 400.1C144.4 400.0 144.8 400.0 145.1 400.0Z" fill="#fff" stroke="#000" stroke-width="0.7"/>
<circle cx="156.4" cy="379.3" r="0.7"/>
</g>
<rect x="135" y="334.8" width="82.9" height="83.69999999999999" fill="none" stroke="#000" stroke-width="2.1"/>
<line x1="131" y1="334.8" x2="135" y2="334.8" stroke="#000" stroke-width="1.3"/>
<line x1="131" y1="355.4" x2="135" y2="355.4" stroke="#000" stroke-width="1.3"/>
<line x1="131" y1="377" x2="135" y2="377" stroke="#000" stroke-width="1.3"/>
<line x1="131" y1="397.3" x2="135" y2="397.3" stroke="#000" stroke-width="1.3"/>
<line x1="131" y1="418.5" x2="135" y2="418.5" stroke="#000" stroke-width="1.3"/>
<text transform="translate(130.8,374) rotate(-90)" text-anchor="middle" font-family="Liberation Serif, serif" font-weight="bold" font-size="15.5" stroke="#000" stroke-width="0.2" textLength="33.5" lengthAdjust="spacingAndGlyphs">B220</text>
<clipPath id="c3"><rect x="234.6" y="335.5" width="83.20000000000002" height="83.80000000000001"/></clipPath>
<g clip-path="url(#c3)">
<path d="M258.7 403.0C259.4 402.1 259.8 401.3 260.3 400.7C260.9 400.0 261.4 399.5 262.1 399.1C262.8 398.7 263.8 398.5 264.6 398.3C265.5 398.2 266.5 398.1 267.3 398.2C268.1 398.3 268.8 398.7 269.5 398.9C270.2 399.1 270.9 399.5 271.6 399.5C272.3 399.5 273.1 399.1 273.8 398.8C274.5 398.6 275.3 398.2 276.0 398.2C276.7 398.1 277.5 398.3 278.2 398.5C279.0 398.8 279.7 399.1 280.3 399.5C280.9 399.9 281.5 400.4 282.0 401.0C282.5 401.6 283.0 402.3 283.3 403.0C283.6 403.7 283.8 404.6 284.0 405.5C284.1 406.4 284.2 407.3 284.2 408.2C284.2 409.1 284.1 410.0 284.0 410.9C283.8 411.8 283.6 412.7 283.3 413.4C283.0 414.1 282.5 414.8 282.0 415.3C281.5 415.9 280.9 416.4 280.3 416.8C279.7 417.2 279.2 417.6 278.5 417.9C277.8 418.2 277.2 418.4 276.0 418.5C274.8 418.6 273.1 418.4 271.6 418.2C270.2 418.1 268.4 417.9 267.3 417.6C266.2 417.3 265.8 417.0 265.2 416.7C264.6 416.5 264.3 416.2 263.8 416.1C263.3 416.0 262.7 416.2 262.1 416.4C261.5 416.5 261.0 416.7 260.4 417.0C259.8 417.3 259.2 418.0 258.6 418.2C258.0 418.4 257.5 418.8 256.9 418.2C256.3 417.6 255.6 416.0 255.2 414.6C254.8 413.2 254.3 411.4 254.5 410.0C254.7 408.6 255.5 407.4 256.2 406.2C256.9 405.1 258.0 403.9 258.7 403.0Z" fill="#fff" stroke="#000" stroke-width="0.7"/>
<path d="M260.0 403.7C260.7 402.8 261.0 402.2 261.5 401.6C262.0 401.0 262.4 400.5 263.0 400.2C263.7 399.8 264.5 399.6 265.3 399.5C266.1 399.4 267.0 399.4 267.7 399.5C268.5 399.6 269.1 400.0 269.7 400.2C270.3 400.4 270.9 400.7 271.5 400.7C272.2 400.7 272.8 400.2 273.5 400.0C274.2 399.7 274.8 399.3 275.5 399.3C276.2 399.2 276.9 399.4 277.5 399.6C278.1 399.8 278.7 400.2 279.2 400.6C279.7 401.0 280.2 401.5 280.6 402.0C281.1 402.5 281.5 403.1 281.9 403.7C282.2 404.3 282.6 405.1 282.8 405.8C283.0 406.6 283.2 407.4 283.3 408.3C283.3 409.1 283.2 410.0 283.0 410.8C282.8 411.6 282.5 412.3 282.1 413.0C281.7 413.6 281.2 414.1 280.7 414.6C280.2 415.0 279.7 415.5 279.2 415.9C278.7 416.3 278.3 416.7 277.7 417.0C277.1 417.3 276.6 417.5 275.5 417.6C274.5 417.7 272.8 417.5 271.5 417.4C270.2 417.2 268.6 416.9 267.7 416.7C266.8 416.4 266.4 416.1 265.9 415.8C265.4 415.6 265.1 415.4 264.6 415.3C264.1 415.3 263.5 415.5 263.0 415.6C262.5 415.8 262.0 415.9 261.5 416.2C261.0 416.4 260.5 417.0 260.0 417.1C259.5 417.3 259.0 417.7 258.5 417.1C258.0 416.6 257.3 415.2 257.0 414.0C256.6 412.8 256.1 411.1 256.2 409.9C256.4 408.6 257.1 407.6 257.8 406.5C258.4 405.5 259.4 404.5 260.0 403.7Z" fill="#fff" stroke="#000" stroke-width="0.7"/>
<path d="M261.3 404.2C261.9 403.5 262.2 403.0 262.7 402.5C263.2 402.0 263.6 401.7 264.2 401.4C264.7 401.1 265.5 400.9 266.1 400.8C266.8 400.7 267.5 400.7 268.2 400.7C268.8 400.8 269.3 401.0 269.8 401.2C270.4 401.3 270.9 401.6 271.5 401.6C272.0 401.6 272.6 401.3 273.2 401.1C273.7 401.0 274.3 400.7 274.8 400.7C275.4 400.7 276.0 400.8 276.5 401.0C277.1 401.1 277.7 401.4 278.2 401.7C278.7 402.0 279.1 402.3 279.6 402.8C280.0 403.2 280.4 403.7 280.7 404.2C281.1 404.8 281.3 405.5 281.5 406.2C281.7 406.8 281.9 407.6 281.9 408.3C281.9 409.1 281.8 409.9 281.7 410.6C281.5 411.3 281.2 412.0 280.9 412.6C280.6 413.1 280.2 413.6 279.7 414.0C279.3 414.5 278.8 414.8 278.3 415.1C277.8 415.5 277.4 415.7 276.8 415.9C276.3 416.2 275.8 416.3 274.9 416.4C274.0 416.4 272.6 416.3 271.5 416.2C270.3 416.1 268.9 416.0 268.1 415.8C267.2 415.6 266.9 415.3 266.4 415.2C265.9 415.0 265.6 414.7 265.2 414.7C264.8 414.6 264.4 414.7 264.0 414.8C263.5 414.9 263.1 415.0 262.7 415.2C262.3 415.4 261.9 415.9 261.5 416.0C261.1 416.2 260.7 416.5 260.2 416.0C259.8 415.6 259.1 414.4 258.7 413.4C258.3 412.3 257.8 410.9 257.9 409.8C258.0 408.7 258.6 407.7 259.2 406.8C259.7 405.9 260.7 405.0 261.3 404.2Z" fill="#fff" stroke="#000" stroke-width="0.7"/>
<path d="M263.0 408.6C263.1 408.2 263.4 407.9 263.9 407.6C264.3 407.3 264.8 407.0 265.6 406.9C266.4 406.8 267.5 407.1 268.5 407.2C269.5 407.2 270.8 407.5 271.6 407.3C272.4 407.1 273.0 406.3 273.6 405.9C274.1 405.4 274.6 404.7 275.1 404.7C275.6 404.7 276.2 405.1 276.6 405.6C277.0 406.0 277.4 406.7 277.7 407.3C278.0 407.9 278.2 408.7 278.2 409.4C278.3 410.1 278.3 410.9 278.1 411.6C277.9 412.3 277.5 413.0 277.0 413.5C276.5 414.0 275.8 414.5 275.1 414.7C274.4 414.9 273.3 414.8 272.5 414.6C271.6 414.5 270.6 414.2 269.9 413.8C269.2 413.4 268.9 412.7 268.5 412.2C268.1 411.7 267.8 411.0 267.3 410.8C266.8 410.6 266.0 410.8 265.4 410.8C264.9 410.8 264.2 411.0 263.8 410.8C263.4 410.6 263.2 410.2 263.0 409.8C262.9 409.4 262.9 409.0 263.0 408.6Z" fill="#fff" stroke="#000" stroke-width="0.7"/>
<path d="M244.8 391.4C245.9 391.4 247.3 391.6 248.5 391.9C249.8 392.2 251.1 392.7 252.2 393.2C253.3 393.7 254.1 394.4 254.9 395.2C255.7 395.9 256.4 396.8 256.9 397.9C257.4 399.0 257.7 400.4 258.0 401.7C258.2 403.1 258.3 404.6 258.3 406.0C258.3 407.4 258.1 408.9 257.9 410.2C257.6 411.5 257.3 412.9 256.9 414.0C256.5 415.1 256.0 416.0 255.5 416.8C255.1 417.5 254.5 418.2 254.2 418.7C253.9 419.2 254.2 419.4 254.0 419.6C253.8 419.9 253.8 419.9 252.9 420.1C252.0 420.3 250.2 420.5 248.6 420.6C247.1 420.7 245.1 420.7 243.5 420.8C241.9 420.9 240.3 421.3 238.9 421.2C237.6 421.1 236.1 421.1 235.4 420.1C234.7 419.1 234.6 416.9 234.5 415.0C234.3 413.1 234.6 410.6 234.7 408.6C234.8 406.6 234.9 404.6 235.2 402.8C235.4 401.0 235.7 399.2 236.1 397.9C236.5 396.6 236.9 395.8 237.5 395.0C238.1 394.2 238.7 393.7 239.4 393.2C240.1 392.7 240.9 392.2 241.8 391.9C242.7 391.6 243.7 391.4 244.8 391.4Z" fill="#fff" stroke="#000" stroke-width="0.9"/>
<path d="M244.7 392.1C245.8 392.0 247.2 392.1 248.4 392.4C249.6 392.8 250.8 393.4 251.8 394.0C252.8 394.5 253.6 395.1 254.3 395.9C255.1 396.7 255.7 397.5 256.2 398.5C256.6 399.6 256.8 401.0 257.1 402.3C257.3 403.5 257.5 404.9 257.6 406.2C257.7 407.5 257.7 408.9 257.6 410.2C257.4 411.5 256.9 412.9 256.5 413.9C256.0 414.9 255.3 415.7 254.8 416.4C254.3 417.1 253.8 417.8 253.6 418.2C253.3 418.7 253.6 419.0 253.4 419.2C253.2 419.4 253.3 419.5 252.4 419.6C251.6 419.8 250.0 420.2 248.5 420.3C247.0 420.5 245.1 420.7 243.5 420.7C241.9 420.8 240.3 420.9 239.1 420.7C237.8 420.5 236.6 420.4 235.9 419.4C235.2 418.4 235.0 416.5 234.9 414.8C234.7 413.0 234.8 410.6 234.8 408.6C234.9 406.7 235.1 404.8 235.4 403.0C235.6 401.3 235.9 399.5 236.3 398.3C236.7 397.0 237.2 396.2 237.7 395.6C238.3 394.9 238.9 394.7 239.6 394.2C240.3 393.8 241.0 393.4 241.9 393.0C242.8 392.6 243.7 392.1 244.7 392.1Z" fill="#fff" stroke="#000" stroke-width="0.9"/>
<path d="M244.6 393.2C245.6 393.1 246.9 393.2 248.1 393.4C249.2 393.6 250.6 393.9 251.5 394.4C252.5 395.0 253.2 395.7 253.8 396.5C254.4 397.4 254.9 398.3 255.3 399.3C255.8 400.3 256.2 401.4 256.5 402.6C256.7 403.8 257.0 405.1 257.0 406.4C257.0 407.6 256.8 409.0 256.6 410.2C256.4 411.4 256.1 412.7 255.8 413.7C255.4 414.7 255.0 415.6 254.5 416.3C254.1 416.9 253.3 417.4 253.0 417.8C252.7 418.2 252.9 418.4 252.7 418.6C252.6 418.9 252.8 419.1 252.1 419.3C251.4 419.6 249.8 419.9 248.3 420.0C246.9 420.2 245.0 420.1 243.5 420.1C241.9 420.2 240.4 420.5 239.2 420.4C238.0 420.2 236.7 420.2 236.0 419.2C235.4 418.3 235.4 416.2 235.3 414.5C235.2 412.7 235.4 410.6 235.4 408.7C235.4 406.9 235.3 404.8 235.5 403.2C235.7 401.5 236.1 399.8 236.5 398.7C237.0 397.6 237.5 397.1 238.0 396.5C238.5 395.8 239.1 395.4 239.7 394.9C240.4 394.4 241.1 393.9 241.9 393.6C242.7 393.3 243.6 393.2 244.6 393.2Z" fill="#fff" stroke="#000" stroke-width="0.9"/>
<path d="M244.6 393.7C245.5 393.6 246.8 393.8 247.9 394.1C248.9 394.4 250.0 395.1 250.9 395.6C251.8 396.2 252.5 396.6 253.2 397.3C253.9 398.0 254.3 398.8 254.8 399.8C255.3 400.7 255.7 401.7 256.0 402.9C256.3 404.0 256.6 405.3 256.5 406.5C256.5 407.7 255.9 409.1 255.6 410.2C255.3 411.4 255.1 412.5 254.8 413.5C254.5 414.4 254.2 415.2 253.8 415.9C253.5 416.6 253.0 417.2 252.8 417.7C252.6 418.1 253.0 418.5 252.8 418.6C252.5 418.8 252.3 418.6 251.5 418.7C250.6 418.8 249.1 418.9 247.8 419.1C246.5 419.3 244.8 419.6 243.4 419.8C242.0 419.9 240.5 420.2 239.3 420.0C238.1 419.9 236.8 420.0 236.2 419.1C235.5 418.1 235.6 416.1 235.5 414.4C235.5 412.7 235.9 410.7 235.9 408.9C236.0 407.1 235.8 405.2 235.9 403.6C236.1 402.0 236.5 400.4 236.9 399.3C237.2 398.2 237.7 397.6 238.2 396.9C238.7 396.3 239.2 395.9 239.9 395.5C240.5 395.1 241.2 395.0 242.0 394.7C242.8 394.4 243.6 393.8 244.6 393.7Z" fill="#fff" stroke="#000" stroke-width="0.9"/>
<path d="M244.5 394.6C245.4 394.6 246.5 394.8 247.5 395.1C248.6 395.4 249.7 395.8 250.5 396.3C251.3 396.8 251.8 397.6 252.4 398.3C253.1 398.9 253.8 399.4 254.3 400.2C254.7 401.1 255.1 402.2 255.3 403.2C255.5 404.3 255.6 405.6 255.6 406.8C255.6 407.9 255.7 409.1 255.4 410.2C255.2 411.3 254.6 412.4 254.2 413.3C253.8 414.2 253.4 414.8 253.1 415.5C252.7 416.2 252.4 416.8 252.2 417.2C252.0 417.6 252.1 417.8 252.0 418.0C251.9 418.2 252.1 418.5 251.4 418.7C250.7 418.8 249.1 419.0 247.8 419.1C246.4 419.2 244.8 419.0 243.4 419.1C242.0 419.1 240.6 419.6 239.5 419.4C238.4 419.3 237.4 419.2 236.7 418.3C236.1 417.5 235.9 415.9 235.7 414.3C235.5 412.7 235.4 410.5 235.5 408.8C235.6 407.1 236.1 405.5 236.4 404.0C236.6 402.5 236.9 401.0 237.2 400.0C237.6 399.0 238.0 398.4 238.5 397.8C239.0 397.2 239.5 396.9 240.0 396.4C240.6 395.9 241.3 395.2 242.0 394.9C242.7 394.6 243.5 394.6 244.5 394.6Z" fill="#fff" stroke="#000" stroke-width="0.9"/>
<path d="M244.4 395.6C245.2 395.6 246.3 395.7 247.2 396.1C248.2 396.4 249.1 397.0 249.9 397.4C250.7 397.9 251.5 398.1 252.1 398.6C252.8 399.2 253.4 399.8 253.8 400.6C254.2 401.5 254.4 402.6 254.6 403.7C254.8 404.7 255.0 405.8 255.0 406.9C254.9 408.0 254.5 409.2 254.2 410.2C254.0 411.3 253.7 412.2 253.5 413.1C253.2 414.0 253.1 414.7 252.8 415.4C252.5 416.0 251.9 416.5 251.7 416.9C251.6 417.3 251.9 417.6 251.8 417.8C251.6 418.0 251.5 418.0 250.8 418.1C250.1 418.2 248.6 418.2 247.3 418.3C246.1 418.4 244.6 418.7 243.4 418.8C242.1 418.9 240.8 419.1 239.7 419.0C238.6 418.9 237.5 419.0 236.8 418.2C236.2 417.4 235.8 415.8 235.7 414.3C235.6 412.7 236.1 410.6 236.3 408.9C236.4 407.3 236.5 405.7 236.7 404.4C236.9 403.0 237.3 401.7 237.6 400.7C237.9 399.7 238.3 399.2 238.7 398.5C239.1 397.8 239.5 397.1 240.1 396.6C240.6 396.2 241.3 395.9 242.0 395.8C242.8 395.6 243.5 395.5 244.4 395.6Z" fill="#fff" stroke="#000" stroke-width="0.9"/>
<path d="M244.3 396.1C245.1 396.1 246.2 396.4 247.0 396.8C247.9 397.1 248.8 397.6 249.5 398.0C250.3 398.5 250.9 398.9 251.5 399.4C252.1 400.0 252.6 400.5 253.0 401.3C253.4 402.1 253.7 403.1 253.9 404.0C254.1 405.0 254.1 406.1 254.1 407.2C254.1 408.2 253.9 409.3 253.8 410.2C253.6 411.2 253.3 412.2 253.0 413.0C252.7 413.8 252.4 414.4 252.1 415.0C251.8 415.6 251.5 416.2 251.3 416.6C251.2 417.0 251.4 417.2 251.2 417.3C251.0 417.5 250.9 417.4 250.2 417.5C249.5 417.6 248.2 417.7 247.1 417.9C245.9 418.0 244.6 418.3 243.3 418.5C242.1 418.7 240.7 419.2 239.7 419.0C238.6 418.9 237.6 418.7 237.1 417.8C236.6 416.9 236.7 415.2 236.7 413.7C236.6 412.3 236.7 410.6 236.7 409.0C236.8 407.5 236.6 405.8 236.8 404.4C236.9 403.0 237.3 401.6 237.6 400.7C238.0 399.8 238.5 399.5 238.9 399.1C239.4 398.6 239.8 398.4 240.4 398.0C240.9 397.6 241.4 397.1 242.1 396.7C242.8 396.4 243.5 396.1 244.3 396.1Z" fill="#fff" stroke="#000" stroke-width="0.9"/>
<path d="M244.2 396.9C245.0 396.9 245.9 397.3 246.7 397.7C247.5 398.0 248.3 398.6 249.0 399.0C249.7 399.4 250.4 399.7 251.0 400.1C251.5 400.6 252.2 401.0 252.6 401.7C253.0 402.4 253.2 403.4 253.3 404.4C253.4 405.3 253.2 406.5 253.1 407.4C253.0 408.4 252.9 409.3 252.8 410.2C252.7 411.1 252.8 412.1 252.6 412.9C252.4 413.6 252.1 414.3 251.8 414.9C251.5 415.4 251.0 415.8 250.7 416.1C250.5 416.4 250.6 416.5 250.4 416.7C250.3 416.8 250.4 416.9 249.8 417.1C249.2 417.3 248.1 417.6 247.0 417.8C246.0 418.0 244.5 418.2 243.3 418.3C242.1 418.4 240.9 418.5 239.9 418.4C239.0 418.2 238.0 418.1 237.5 417.3C237.0 416.5 237.0 415.0 236.9 413.6C236.7 412.3 236.8 410.5 236.8 409.1C236.9 407.6 236.9 406.0 237.1 404.7C237.3 403.4 237.6 402.2 238.0 401.4C238.3 400.5 238.7 400.2 239.2 399.8C239.6 399.4 240.0 399.1 240.5 398.7C241.0 398.3 241.5 397.7 242.1 397.4C242.8 397.1 243.5 396.8 244.2 396.9Z" fill="#fff" stroke="#000" stroke-width="0.9"/>
<path d="M244.1 398.2C244.8 398.2 245.7 398.4 246.4 398.6C247.2 398.8 248.1 399.0 248.8 399.3C249.5 399.6 250.2 399.9 250.7 400.5C251.1 401.0 251.3 401.9 251.5 402.6C251.8 403.4 252.0 404.2 252.2 405.0C252.4 405.8 252.6 406.7 252.7 407.6C252.7 408.4 252.6 409.4 252.5 410.2C252.4 411.1 252.4 412.1 252.1 412.8C251.9 413.4 251.3 413.9 250.9 414.4C250.5 414.9 250.1 415.2 250.0 415.6C249.9 415.9 250.3 416.3 250.2 416.5C250.1 416.7 250.1 416.7 249.5 416.8C249.0 417.0 247.9 417.3 246.9 417.5C245.8 417.6 244.4 417.7 243.3 417.7C242.2 417.7 241.2 417.6 240.2 417.5C239.3 417.4 238.2 417.7 237.7 417.1C237.1 416.4 236.9 415.0 236.8 413.6C236.7 412.3 237.0 410.5 237.1 409.1C237.3 407.7 237.4 406.4 237.6 405.2C237.8 404.1 238.2 403.2 238.5 402.3C238.8 401.4 238.9 400.7 239.3 400.1C239.6 399.5 240.0 399.1 240.5 398.8C241.0 398.6 241.6 398.6 242.2 398.5C242.8 398.4 243.4 398.2 244.1 398.2Z" fill="#fff" stroke="#000" stroke-width="0.9"/>
<path d="M244.0 398.8C244.7 398.7 245.6 398.7 246.3 399.0C247.0 399.3 247.7 399.9 248.3 400.4C248.8 400.8 249.4 401.1 249.8 401.5C250.3 402.0 250.6 402.5 250.9 403.1C251.2 403.8 251.4 404.6 251.6 405.3C251.9 406.1 252.3 406.8 252.3 407.7C252.3 408.5 252.1 409.4 251.9 410.2C251.7 411.1 251.4 411.8 251.1 412.5C250.9 413.1 250.7 413.7 250.4 414.2C250.1 414.6 249.6 414.9 249.5 415.2C249.3 415.5 249.7 415.8 249.7 416.0C249.6 416.3 249.7 416.3 249.2 416.5C248.7 416.7 247.6 416.8 246.6 417.0C245.6 417.2 244.3 417.5 243.3 417.5C242.2 417.6 241.2 417.4 240.3 417.2C239.5 417.0 238.8 417.0 238.2 416.3C237.7 415.7 237.3 414.6 237.2 413.4C237.0 412.2 237.2 410.5 237.3 409.1C237.4 407.8 237.4 406.4 237.7 405.3C237.9 404.2 238.3 403.2 238.6 402.6C239.0 401.9 239.3 401.7 239.7 401.3C240.0 400.8 240.3 400.3 240.7 399.9C241.2 399.6 241.7 399.4 242.2 399.2C242.8 399.0 243.3 398.8 244.0 398.8Z" fill="#fff" stroke="#000" stroke-width="0.9"/>
<path d="M243.9 399.6C244.6 399.5 245.4 399.6 246.1 399.8C246.8 400.0 247.5 400.4 248.0 400.8C248.5 401.2 248.9 401.7 249.3 402.2C249.7 402.6 250.1 403.1 250.3 403.7C250.6 404.3 250.8 405.0 250.9 405.7C251.0 406.4 251.0 407.3 251.0 408.0C251.0 408.8 250.9 409.5 250.8 410.3C250.8 411.0 250.9 411.7 250.8 412.4C250.7 413.0 250.5 413.6 250.3 414.1C250.0 414.5 249.6 414.9 249.4 415.1C249.2 415.4 249.2 415.4 249.0 415.5C248.9 415.6 249.0 415.7 248.5 415.8C248.0 416.0 247.2 416.3 246.3 416.5C245.4 416.6 244.2 416.7 243.2 416.8C242.3 416.9 241.3 416.9 240.5 416.8C239.6 416.7 238.8 416.8 238.3 416.3C237.8 415.7 237.5 414.5 237.3 413.4C237.2 412.2 237.4 410.5 237.5 409.2C237.7 407.9 238.0 406.8 238.2 405.8C238.4 404.8 238.7 403.8 238.9 403.1C239.2 402.5 239.5 402.0 239.8 401.7C240.1 401.3 240.5 401.1 240.9 400.9C241.3 400.7 241.8 400.4 242.3 400.2C242.8 400.0 243.3 399.7 243.9 399.6Z" fill="#fff" stroke="#000" stroke-width="0.9"/>
<path d="M243.7 401.9C244.1 402.0 244.7 402.5 245.2 402.7C245.7 402.9 246.2 403.0 246.7 403.2C247.2 403.4 247.7 403.5 248.0 403.8C248.3 404.1 248.5 404.7 248.7 405.1C248.8 405.6 249.1 406.2 249.1 406.7C249.2 407.3 249.1 408.0 249.1 408.6C249.0 409.2 249.0 409.7 249.1 410.3C249.1 410.8 249.4 411.5 249.2 412.0C249.1 412.5 248.7 412.8 248.4 413.2C248.2 413.5 247.9 413.8 247.8 414.0C247.6 414.2 247.7 414.3 247.7 414.4C247.6 414.5 247.6 414.4 247.3 414.6C247.0 414.9 246.6 415.5 245.9 415.7C245.2 416.0 244.0 416.2 243.2 416.1C242.4 416.1 241.6 415.8 240.9 415.6C240.2 415.4 239.6 415.5 239.3 415.0C238.9 414.5 238.7 413.6 238.6 412.7C238.4 411.7 238.2 410.4 238.3 409.3C238.3 408.3 238.6 407.2 238.9 406.4C239.1 405.7 239.6 405.3 239.8 404.8C240.1 404.3 240.2 403.8 240.4 403.4C240.7 403.0 240.9 402.8 241.3 402.5C241.6 402.3 242.0 402.2 242.4 402.1C242.8 402.0 243.2 401.8 243.7 401.9Z" fill="#fff" stroke="#000" stroke-width="0.7"/>
<path d="M243.5 404.1C243.8 404.3 244.1 404.7 244.5 404.9C244.8 405.1 245.2 405.3 245.5 405.4C245.8 405.6 246.2 405.6 246.4 405.8C246.7 406.0 246.8 406.3 247.0 406.6C247.1 407.0 247.1 407.4 247.2 407.8C247.3 408.2 247.3 408.6 247.3 409.0C247.3 409.5 247.2 409.9 247.2 410.3C247.2 410.7 247.1 411.1 247.1 411.4C247.1 411.8 247.2 412.2 247.1 412.5C247.0 412.8 246.8 413.0 246.7 413.1C246.5 413.3 246.3 413.1 246.2 413.1C246.1 413.2 246.2 413.2 246.0 413.4C245.9 413.7 245.7 414.3 245.2 414.6C244.7 414.9 243.8 415.2 243.1 415.2C242.5 415.2 241.8 414.8 241.3 414.6C240.8 414.4 240.4 414.2 240.1 413.8C239.8 413.4 239.6 412.9 239.4 412.2C239.3 411.5 239.2 410.4 239.3 409.6C239.3 408.7 239.5 407.9 239.7 407.2C239.9 406.6 240.2 406.2 240.4 405.9C240.6 405.6 240.9 405.6 241.1 405.4C241.3 405.3 241.5 405.1 241.7 404.9C241.9 404.6 242.2 404.2 242.5 404.1C242.8 403.9 243.1 404.0 243.5 404.1Z" fill="#fff" stroke="#000" stroke-width="0.7"/>
<path d="M243.2 406.6C243.4 406.7 243.7 406.8 243.9 406.9C244.1 407.0 244.3 407.2 244.4 407.3C244.6 407.5 244.7 407.6 244.8 407.8C244.9 408.0 245.0 408.1 245.1 408.3C245.2 408.5 245.2 408.7 245.3 408.9C245.4 409.1 245.4 409.3 245.4 409.6C245.5 409.8 245.5 410.0 245.5 410.3C245.5 410.5 245.5 410.8 245.5 411.0C245.4 411.2 245.4 411.4 245.3 411.6C245.3 411.8 245.2 411.9 245.2 412.1C245.1 412.2 245.1 412.2 245.1 412.2C245.1 412.3 245.1 412.3 245.0 412.4C244.9 412.6 244.8 413.0 244.5 413.2C244.1 413.5 243.5 413.9 243.0 414.0C242.6 414.1 242.0 413.8 241.6 413.6C241.2 413.4 241.1 413.2 240.9 412.9C240.6 412.6 240.4 412.2 240.3 411.7C240.2 411.2 240.1 410.3 240.1 409.7C240.2 409.1 240.4 408.6 240.6 408.2C240.8 407.7 241.0 407.5 241.2 407.3C241.4 407.1 241.5 407.1 241.6 407.0C241.8 406.9 241.9 406.8 242.1 406.7C242.3 406.7 242.4 406.6 242.6 406.6C242.8 406.6 243.0 406.6 243.2 406.6Z" fill="#fff" stroke="#000" stroke-width="0.7"/>
</g>
<rect x="234.6" y="335.5" width="83.20000000000002" height="83.80000000000001" fill="none" stroke="#000" stroke-width="2.1"/>
<line x1="230.6" y1="335.5" x2="234.6" y2="335.5" stroke="#000" stroke-width="1.3"/>
<line x1="230.6" y1="356.5" x2="234.6" y2="356.5" stroke="#000" stroke-width="1.3"/>
<line x1="230.6" y1="377.7" x2="234.6" y2="377.7" stroke="#000" stroke-width="1.3"/>
<line x1="230.6" y1="398.5" x2="234.6" y2="398.5" stroke="#000" stroke-width="1.3"/>
<line x1="230.6" y1="419.3" x2="234.6" y2="419.3" stroke="#000" stroke-width="1.3"/>
<text transform="translate(230.7,374.2) rotate(-90)" text-anchor="middle" font-family="Liberation Serif, serif" font-weight="bold" font-size="15.5" stroke="#000" stroke-width="0.2" textLength="24.2" lengthAdjust="spacingAndGlyphs">IgD</text>
<clipPath id="c4"><rect x="334" y="335.9" width="83.30000000000001" height="83.60000000000002"/></clipPath>
<g clip-path="url(#c4)">
<path d="M361.6 387.2C362.4 386.6 363.3 386.2 364.4 385.9C365.4 385.6 366.5 385.3 367.7 385.2C368.9 385.1 370.4 385.2 371.7 385.2C373.1 385.2 374.5 385.4 375.8 385.2C377.1 385.0 378.1 384.3 379.2 384.0C380.4 383.7 381.4 383.1 382.5 383.2C383.6 383.3 384.8 384.0 385.9 384.5C387.0 385.1 388.1 385.9 389.2 386.5C390.3 387.1 391.4 387.5 392.3 388.1C393.2 388.6 394.1 389.2 394.6 389.9C395.1 390.6 395.4 391.6 395.5 392.5C395.6 393.4 395.6 394.4 395.3 395.3C395.0 396.2 394.5 396.9 393.9 397.7C393.3 398.4 392.6 399.1 391.9 400.0C391.2 400.9 390.6 402.2 389.9 403.1C389.3 404.0 388.6 405.0 387.9 405.4C387.2 405.8 386.5 405.5 385.8 405.2C385.1 405.0 384.3 404.5 383.8 404.0C383.3 403.5 383.1 402.8 382.6 402.3C382.2 401.7 381.9 401.0 381.1 400.7C380.3 400.4 379.1 400.6 378.0 400.6C376.9 400.6 375.6 400.8 374.4 400.7C373.2 400.6 372.1 400.1 371.0 399.8C369.9 399.4 368.7 398.9 367.7 398.6C366.7 398.3 365.7 398.1 364.8 397.8C363.9 397.4 363.1 397.2 362.3 396.6C361.5 396.0 360.4 395.2 359.8 394.4C359.1 393.6 358.4 392.7 358.3 391.9C358.2 391.1 358.8 390.2 359.3 389.4C359.9 388.6 360.8 387.8 361.6 387.2Z" fill="#fff" stroke="#000" stroke-width="0.7"/>
<path d="M366.0 388.6C366.4 388.1 367.0 388.0 367.7 387.9C368.3 387.7 369.1 387.7 370.0 387.6C370.9 387.5 371.8 387.4 372.8 387.2C373.8 387.1 374.9 387.0 376.0 386.8C377.1 386.6 378.2 386.1 379.2 385.8C380.3 385.5 381.4 385.1 382.5 385.2C383.6 385.2 384.6 385.7 385.6 386.1C386.6 386.5 387.6 387.1 388.5 387.6C389.4 388.1 390.3 388.6 391.0 389.1C391.7 389.6 392.4 390.2 392.8 390.8C393.2 391.4 393.4 392.2 393.4 392.9C393.5 393.6 393.4 394.3 393.2 395.0C393.0 395.7 392.7 396.4 392.2 397.0C391.8 397.6 391.2 398.2 390.5 398.6C389.8 399.0 388.9 399.0 388.0 399.1C387.0 399.2 386.0 399.2 385.0 399.2C384.0 399.2 383.0 399.2 382.0 399.2C381.0 399.1 380.0 399.0 379.0 399.0C378.0 399.0 376.9 399.0 375.9 398.9C374.9 398.8 373.9 398.7 373.0 398.6C372.1 398.5 371.3 398.3 370.6 398.0C369.8 397.8 369.1 397.5 368.5 397.0C367.9 396.5 367.2 395.8 366.7 395.2C366.2 394.5 365.7 393.8 365.5 393.0C365.3 392.2 365.2 391.3 365.3 390.6C365.4 389.9 365.6 389.1 366.0 388.6Z" fill="#fff" stroke="#000" stroke-width="0.7"/>
<path d="M370.3 389.9C370.6 389.5 371.1 389.5 371.6 389.4C372.2 389.3 373.0 389.4 373.6 389.3C374.2 389.3 374.8 389.2 375.5 389.0C376.1 388.8 376.6 388.6 377.3 388.3C378.0 388.0 378.9 387.5 379.8 387.3C380.6 387.1 381.5 387.1 382.3 387.2C383.1 387.3 383.8 387.7 384.6 388.0C385.4 388.2 386.3 388.5 387.1 388.8C388.0 389.1 388.9 389.3 389.6 389.7C390.2 390.1 390.8 390.7 391.0 391.2C391.2 391.7 391.1 392.4 391.0 393.0C390.9 393.5 390.6 394.1 390.4 394.6C390.2 395.1 389.9 395.6 389.6 396.1C389.2 396.5 388.9 397.0 388.4 397.3C387.8 397.6 387.2 397.7 386.6 397.8C385.9 397.9 385.1 397.9 384.3 398.0C383.6 398.0 382.8 398.0 382.0 398.0C381.2 398.0 380.4 398.0 379.5 397.9C378.7 397.9 377.8 397.9 377.0 397.8C376.2 397.8 375.3 397.7 374.6 397.6C373.9 397.5 373.2 397.4 372.7 397.1C372.1 396.9 371.7 396.6 371.4 396.2C371.1 395.8 370.9 395.2 370.6 394.7C370.4 394.2 370.3 393.6 370.1 393.1C370.0 392.5 369.9 391.9 369.9 391.4C369.9 390.8 370.0 390.2 370.3 389.9Z" fill="#fff" stroke="#000" stroke-width="0.7"/>
<path d="M377.5 392.0C377.7 391.9 377.8 391.9 377.9 391.8C378.0 391.7 378.1 391.7 378.2 391.6C378.4 391.5 378.5 391.4 378.8 391.3C379.0 391.1 379.3 391.0 379.6 390.9C380.0 390.7 380.4 390.6 380.8 390.5C381.2 390.3 381.6 390.2 382.1 390.2C382.5 390.1 383.0 390.0 383.5 390.0C384.1 390.0 384.9 390.0 385.5 390.2C386.1 390.3 386.7 390.6 387.0 390.9C387.4 391.2 387.6 391.6 387.6 392.0C387.7 392.3 387.6 392.8 387.4 393.1C387.2 393.4 386.9 393.8 386.7 394.0C386.4 394.3 386.1 394.5 385.8 394.7C385.5 394.9 385.3 395.1 385.0 395.2C384.7 395.4 384.5 395.5 384.2 395.6C384.0 395.7 383.6 395.9 383.3 396.0C382.9 396.1 382.4 396.3 381.9 396.4C381.4 396.5 380.8 396.6 380.2 396.6C379.6 396.6 378.9 396.6 378.4 396.5C377.9 396.4 377.5 396.2 377.2 396.1C376.8 395.9 376.6 395.8 376.4 395.6C376.2 395.4 376.1 395.2 376.0 394.9C376.0 394.7 375.9 394.3 376.0 394.0C376.1 393.7 376.2 393.5 376.4 393.2C376.6 392.9 376.8 392.7 377.0 392.5C377.2 392.3 377.4 392.2 377.5 392.0Z" fill="#fff" stroke="#000" stroke-width="0.7"/>
<path d="M335.4 379.8C336.1 378.6 337.2 378.3 338.3 377.8C339.4 377.4 340.8 377.3 342.1 377.1C343.4 376.9 344.8 376.5 346.1 376.4C347.5 376.3 348.9 376.2 350.2 376.4C351.5 376.6 352.7 376.9 353.8 377.3C354.9 377.8 356.0 378.3 356.9 379.1C357.8 379.9 358.6 380.9 359.3 381.9C360.0 382.9 360.6 384.1 361.0 385.2C361.4 386.3 361.6 387.4 361.7 388.5C361.8 389.6 361.7 390.7 361.6 391.9C361.5 393.1 361.3 394.3 361.0 395.4C360.6 396.5 360.2 397.7 359.6 398.6C359.0 399.5 358.1 400.3 357.2 401.0C356.3 401.7 355.2 402.2 354.2 402.7C353.2 403.2 352.0 403.5 350.9 403.8C349.8 404.1 348.6 404.2 347.5 404.3C346.4 404.4 345.2 404.3 344.1 404.1C343.0 404.0 341.9 403.6 340.8 403.4C339.8 403.2 338.7 403.1 337.8 402.6C336.9 402.2 336.0 401.8 335.4 400.7C334.8 399.6 334.5 397.8 334.3 396.2C334.0 394.5 334.0 392.5 334.0 390.6C334.0 388.7 334.0 386.5 334.2 384.7C334.4 382.9 334.7 381.0 335.4 379.8Z" fill="#fff" stroke="#000" stroke-width="0.8"/>
<path d="M335.7 380.1C336.4 379.0 337.5 378.7 338.6 378.2C339.7 377.8 341.0 377.7 342.2 377.6C343.5 377.4 344.9 377.4 346.1 377.3C347.4 377.2 348.7 377.0 350.0 377.1C351.2 377.1 352.6 377.2 353.6 377.6C354.7 378.0 355.6 378.7 356.4 379.5C357.3 380.3 358.1 381.2 358.7 382.2C359.4 383.2 359.8 384.4 360.2 385.4C360.5 386.5 360.7 387.5 360.9 388.5C361.1 389.6 361.4 390.7 361.3 391.9C361.2 393.0 360.8 394.1 360.4 395.1C359.9 396.2 359.4 397.2 358.8 398.0C358.2 398.9 357.4 399.7 356.6 400.3C355.8 401.0 354.7 401.5 353.8 402.0C352.8 402.5 351.9 403.1 350.8 403.4C349.7 403.7 348.5 403.7 347.4 403.6C346.3 403.6 345.3 403.2 344.2 403.1C343.1 402.9 342.1 402.9 341.1 402.7C340.0 402.5 339.0 402.4 338.1 402.0C337.3 401.6 336.3 401.3 335.7 400.3C335.2 399.3 334.8 397.6 334.7 395.9C334.5 394.3 334.8 392.3 334.8 390.5C334.8 388.7 334.5 386.6 334.7 384.9C334.8 383.2 335.1 381.2 335.7 380.1Z" fill="#fff" stroke="#000" stroke-width="0.8"/>
<path d="M336.3 380.6C337.0 379.6 338.2 379.5 339.2 379.1C340.3 378.7 341.3 378.6 342.5 378.3C343.6 378.0 344.9 377.6 346.1 377.5C347.4 377.4 348.6 377.4 349.8 377.5C351.0 377.6 352.3 377.7 353.3 378.1C354.3 378.5 355.2 379.1 356.1 379.9C356.9 380.6 357.5 381.6 358.1 382.5C358.7 383.5 359.4 384.5 359.7 385.5C360.1 386.5 360.0 387.5 360.0 388.6C360.1 389.6 360.2 390.6 360.2 391.6C360.1 392.7 360.0 393.9 359.7 394.9C359.4 395.9 358.9 396.9 358.4 397.7C357.8 398.6 357.2 399.5 356.4 400.1C355.6 400.8 354.5 401.2 353.5 401.5C352.5 401.9 351.5 402.1 350.4 402.3C349.4 402.5 348.4 402.8 347.4 402.8C346.3 402.8 345.3 402.4 344.3 402.3C343.3 402.1 342.3 402.0 341.4 401.9C340.4 401.7 339.3 401.8 338.5 401.4C337.7 401.0 337.0 400.6 336.4 399.6C335.8 398.7 335.2 397.3 334.9 395.8C334.6 394.2 334.6 392.3 334.7 390.5C334.7 388.7 334.9 386.7 335.1 385.1C335.4 383.4 335.6 381.6 336.3 380.6Z" fill="#fff" stroke="#000" stroke-width="0.8"/>
<path d="M336.6 380.9C337.2 379.9 338.2 379.5 339.2 379.1C340.2 378.8 341.5 378.8 342.6 378.6C343.8 378.5 345.0 378.2 346.1 378.1C347.3 378.1 348.5 378.0 349.6 378.2C350.7 378.4 351.7 378.7 352.6 379.1C353.6 379.5 354.5 379.9 355.4 380.5C356.2 381.1 357.2 381.8 357.8 382.7C358.5 383.5 359.2 384.6 359.5 385.6C359.8 386.6 359.8 387.6 359.7 388.6C359.7 389.6 359.4 390.5 359.3 391.5C359.1 392.5 359.1 393.5 358.9 394.5C358.6 395.5 358.4 396.6 357.9 397.4C357.4 398.2 356.6 398.9 355.8 399.4C355.0 400.0 354.0 400.4 353.1 400.8C352.1 401.2 351.2 401.5 350.2 401.7C349.3 401.9 348.2 402.0 347.3 402.0C346.3 402.0 345.3 401.9 344.4 401.7C343.4 401.6 342.5 401.4 341.6 401.2C340.7 401.1 339.6 401.2 338.8 400.9C338.0 400.6 337.1 400.3 336.6 399.3C336.1 398.4 335.9 396.7 335.8 395.2C335.6 393.8 335.6 392.0 335.6 390.4C335.6 388.7 335.5 386.9 335.7 385.3C335.9 383.7 336.1 381.9 336.6 380.9Z" fill="#fff" stroke="#000" stroke-width="0.8"/>
<path d="M337.1 381.2C337.6 380.3 338.6 380.0 339.6 379.6C340.5 379.3 341.7 379.3 342.8 379.1C343.9 379.0 345.0 378.6 346.1 378.6C347.2 378.6 348.3 378.9 349.3 379.1C350.3 379.2 351.4 379.2 352.3 379.5C353.3 379.8 354.3 380.2 355.1 380.8C355.9 381.3 356.5 382.2 357.1 383.1C357.8 383.9 358.5 384.8 358.8 385.8C359.1 386.7 359.0 387.7 359.0 388.6C359.0 389.5 358.8 390.4 358.7 391.4C358.6 392.3 358.6 393.4 358.4 394.3C358.1 395.2 357.6 396.1 357.1 396.8C356.6 397.6 356.0 398.4 355.3 398.9C354.6 399.5 353.7 400.0 352.8 400.3C351.9 400.6 350.8 400.6 349.9 400.7C349.0 400.9 348.1 401.2 347.2 401.2C346.3 401.3 345.4 401.1 344.5 401.0C343.6 400.9 342.7 400.8 341.8 400.7C340.9 400.6 339.9 400.7 339.1 400.4C338.4 400.0 337.8 399.5 337.3 398.5C336.9 397.6 336.5 396.3 336.3 394.9C336.0 393.6 335.8 391.9 335.8 390.4C335.8 388.8 336.0 387.0 336.2 385.5C336.4 384.0 336.5 382.2 337.1 381.2Z" fill="#fff" stroke="#000" stroke-width="0.8"/>
<path d="M337.7 381.8C338.3 380.9 339.2 380.7 340.1 380.4C341.0 380.1 342.0 380.2 343.0 380.0C344.0 379.8 345.1 379.4 346.1 379.2C347.2 379.1 348.3 378.8 349.4 378.9C350.4 379.0 351.3 379.3 352.2 379.8C353.0 380.2 353.7 380.8 354.3 381.4C355.0 382.1 355.6 382.8 356.2 383.6C356.8 384.3 357.5 385.2 357.9 386.0C358.3 386.8 358.6 387.7 358.7 388.6C358.8 389.5 358.7 390.4 358.5 391.3C358.4 392.2 358.1 393.2 357.8 394.0C357.4 394.9 357.0 395.7 356.5 396.4C356.0 397.1 355.2 397.6 354.5 398.1C353.7 398.5 352.9 398.9 352.1 399.2C351.3 399.6 350.6 400.0 349.7 400.3C348.9 400.6 348.0 400.9 347.2 401.0C346.3 401.0 345.3 400.9 344.5 400.7C343.7 400.5 342.9 400.0 342.1 399.8C341.3 399.5 340.6 399.4 339.9 399.1C339.2 398.8 338.4 398.7 337.9 398.0C337.3 397.3 336.8 396.1 336.5 394.8C336.2 393.5 336.0 391.9 335.9 390.3C335.9 388.8 336.1 386.9 336.4 385.5C336.6 384.1 337.1 382.6 337.7 381.8Z" fill="#fff" stroke="#000" stroke-width="0.8"/>
<path d="M338.3 382.3C338.8 381.4 339.4 380.9 340.2 380.6C341.0 380.2 342.1 380.3 343.1 380.2C344.1 380.1 345.1 379.8 346.1 379.8C347.1 379.7 348.1 379.9 349.0 380.1C349.9 380.2 350.7 380.4 351.6 380.7C352.4 380.9 353.5 381.0 354.2 381.5C355.0 382.0 355.5 382.9 356.0 383.7C356.5 384.4 356.9 385.3 357.2 386.2C357.5 387.0 357.7 387.8 357.7 388.6C357.8 389.5 357.6 390.3 357.5 391.1C357.5 392.0 357.6 393.0 357.4 393.9C357.1 394.7 356.6 395.5 356.0 396.1C355.4 396.7 354.6 397.0 353.9 397.4C353.2 397.9 352.5 398.4 351.8 398.7C351.1 399.1 350.3 399.2 349.5 399.5C348.7 399.7 347.9 400.0 347.1 400.1C346.3 400.2 345.4 400.2 344.6 400.0C343.8 399.8 343.1 399.2 342.4 399.0C341.7 398.7 340.9 398.9 340.2 398.6C339.5 398.4 338.8 398.2 338.3 397.5C337.8 396.8 337.4 395.7 337.1 394.4C336.7 393.2 336.3 391.7 336.3 390.3C336.3 388.9 336.8 387.1 337.1 385.8C337.5 384.5 337.8 383.2 338.3 382.3Z" fill="#fff" stroke="#000" stroke-width="0.8"/>
<path d="M338.8 382.8C339.5 382.1 340.1 381.9 340.9 381.5C341.6 381.2 342.4 381.0 343.3 380.8C344.2 380.6 345.2 380.5 346.1 380.4C347.0 380.3 348.1 380.1 349.0 380.1C349.9 380.2 350.7 380.5 351.5 380.8C352.2 381.1 352.8 381.7 353.5 382.2C354.1 382.7 354.9 383.3 355.4 384.0C355.9 384.7 356.1 385.6 356.4 386.4C356.6 387.1 356.8 387.9 357.0 388.7C357.1 389.4 357.2 390.3 357.1 391.1C357.0 391.9 356.6 392.7 356.4 393.4C356.1 394.2 356.0 395.1 355.5 395.7C355.1 396.3 354.4 396.8 353.7 397.2C353.0 397.6 352.2 397.8 351.4 398.1C350.7 398.4 350.0 398.8 349.3 398.9C348.5 399.0 347.7 398.8 347.0 398.8C346.2 398.8 345.5 398.8 344.8 398.8C344.0 398.7 343.2 398.7 342.5 398.6C341.8 398.5 341.2 398.3 340.5 398.1C339.9 397.8 339.1 397.8 338.6 397.1C338.1 396.5 337.7 395.4 337.4 394.2C337.2 393.1 337.0 391.6 336.9 390.2C336.9 388.8 336.9 387.1 337.2 385.8C337.5 384.6 338.2 383.5 338.8 382.8Z" fill="#fff" stroke="#000" stroke-width="0.8"/>
<path d="M339.0 382.9C339.5 382.2 340.1 381.8 340.9 381.5C341.6 381.3 342.6 381.4 343.5 381.3C344.3 381.2 345.2 380.9 346.1 380.9C346.9 380.9 347.8 381.1 348.6 381.2C349.4 381.4 350.1 381.6 350.8 381.8C351.6 382.0 352.5 382.1 353.2 382.5C353.9 382.9 354.4 383.6 354.9 384.3C355.4 384.9 356.0 385.7 356.2 386.4C356.5 387.1 356.7 387.9 356.6 388.7C356.6 389.4 356.2 390.1 356.1 390.9C355.9 391.6 355.9 392.4 355.7 393.2C355.5 393.9 355.1 394.5 354.7 395.1C354.2 395.7 353.7 396.2 353.1 396.6C352.5 397.0 351.9 397.5 351.2 397.8C350.6 398.0 349.7 397.9 349.0 398.0C348.3 398.0 347.6 398.1 346.9 398.2C346.2 398.2 345.5 398.3 344.8 398.2C344.1 398.2 343.5 397.9 342.8 397.8C342.1 397.7 341.3 398.0 340.7 397.8C340.1 397.5 339.6 397.2 339.2 396.5C338.8 395.8 338.6 394.8 338.3 393.7C338.0 392.7 337.4 391.4 337.4 390.1C337.3 388.9 337.7 387.3 338.0 386.1C338.3 384.9 338.5 383.7 339.0 382.9Z" fill="#fff" stroke="#000" stroke-width="0.8"/>
<path d="M340.1 383.9C340.6 383.3 341.3 383.2 341.9 383.1C342.6 383.0 343.4 383.2 344.1 383.1C344.8 383.0 345.4 382.6 346.1 382.4C346.8 382.3 347.5 382.3 348.2 382.4C348.9 382.4 349.5 382.6 350.1 382.9C350.7 383.1 351.3 383.3 351.8 383.8C352.2 384.2 352.5 384.8 352.9 385.3C353.4 385.8 354.0 386.3 354.4 386.9C354.8 387.4 355.1 388.1 355.2 388.7C355.3 389.3 354.9 390.0 354.7 390.6C354.5 391.2 354.3 391.9 354.0 392.4C353.7 393.0 353.2 393.4 352.8 393.8C352.4 394.2 352.0 394.6 351.6 395.0C351.2 395.3 350.8 395.9 350.2 396.1C349.7 396.3 349.0 396.2 348.4 396.2C347.8 396.2 347.3 396.3 346.7 396.3C346.2 396.3 345.6 396.3 345.1 396.2C344.5 396.2 344.0 396.1 343.5 396.0C342.9 396.0 342.2 396.2 341.7 396.0C341.3 395.9 341.0 395.5 340.6 394.9C340.3 394.4 340.1 393.7 339.7 392.8C339.3 392.0 338.6 391.1 338.4 390.0C338.3 388.9 338.6 387.4 338.9 386.4C339.1 385.4 339.6 384.4 340.1 383.9Z" fill="#fff" stroke="#000" stroke-width="0.7"/>
<path d="M341.4 385.0C341.8 384.5 342.2 384.3 342.7 384.2C343.2 384.0 343.8 384.1 344.4 384.1C345.0 384.1 345.5 384.2 346.1 384.2C346.6 384.2 347.1 384.1 347.6 384.1C348.1 384.2 348.5 384.4 349.0 384.5C349.5 384.6 349.9 384.8 350.4 385.0C350.9 385.2 351.6 385.4 352.0 385.8C352.5 386.2 352.8 386.7 353.0 387.2C353.1 387.7 353.0 388.3 352.9 388.8C352.9 389.3 352.8 389.8 352.7 390.3C352.6 390.7 352.5 391.3 352.3 391.7C352.1 392.1 351.7 392.5 351.4 392.8C351.0 393.1 350.7 393.4 350.3 393.6C349.9 393.8 349.6 394.1 349.1 394.2C348.7 394.3 348.2 394.3 347.8 394.3C347.3 394.2 346.9 394.1 346.5 394.1C346.1 394.1 345.7 394.2 345.3 394.3C344.9 394.4 344.4 394.5 344.0 394.5C343.6 394.4 343.3 394.3 342.9 394.1C342.6 394.0 342.3 393.8 341.9 393.5C341.5 393.2 341.1 392.8 340.7 392.2C340.4 391.6 339.8 390.7 339.7 389.8C339.7 389.0 340.0 387.8 340.3 386.9C340.6 386.1 341.0 385.5 341.4 385.0Z" fill="#fff" stroke="#000" stroke-width="0.7"/>
<path d="M342.7 386.2C343.2 385.9 343.4 385.9 343.8 385.8C344.2 385.7 344.5 385.6 344.9 385.6C345.3 385.5 345.7 385.5 346.0 385.5C346.4 385.5 346.8 385.5 347.1 385.6C347.5 385.6 347.8 385.7 348.2 385.8C348.5 385.9 348.8 386.0 349.2 386.1C349.5 386.3 349.9 386.5 350.2 386.8C350.5 387.0 350.9 387.4 351.1 387.7C351.3 388.1 351.5 388.4 351.5 388.8C351.5 389.2 351.4 389.6 351.3 390.0C351.1 390.3 350.8 390.7 350.6 391.0C350.3 391.2 350.0 391.4 349.7 391.6C349.4 391.8 349.1 391.9 348.8 392.0C348.5 392.1 348.2 392.2 348.0 392.3C347.7 392.3 347.4 392.4 347.1 392.4C346.9 392.5 346.6 392.5 346.3 392.5C346.1 392.5 345.8 392.5 345.6 392.5C345.3 392.5 345.0 392.4 344.8 392.4C344.5 392.4 344.3 392.3 344.0 392.3C343.8 392.2 343.6 392.2 343.3 392.0C342.9 391.9 342.5 391.8 342.0 391.4C341.6 391.0 340.8 390.4 340.6 389.7C340.5 389.0 340.9 387.9 341.2 387.3C341.6 386.7 342.3 386.4 342.7 386.2Z" fill="#fff" stroke="#000" stroke-width="0.7"/>
</g>
<rect x="334" y="335.9" width="83.30000000000001" height="83.60000000000002" fill="none" stroke="#000" stroke-width="2.1"/>
<line x1="330" y1="335.9" x2="334" y2="335.9" stroke="#000" stroke-width="1.3"/>
<line x1="330" y1="357.7" x2="334" y2="357.7" stroke="#000" stroke-width="1.3"/>
<line x1="330" y1="378" x2="334" y2="378" stroke="#000" stroke-width="1.3"/>
<line x1="330" y1="398.7" x2="334" y2="398.7" stroke="#000" stroke-width="1.3"/>
<line x1="330" y1="419.5" x2="334" y2="419.5" stroke="#000" stroke-width="1.3"/>
<text transform="translate(332,375) rotate(-90)" text-anchor="middle" font-family="Liberation Serif, serif" font-weight="bold" font-size="15.5" stroke="#000" stroke-width="0.2" textLength="38.8" lengthAdjust="spacingAndGlyphs">CD43</text>
<clipPath id="c5"><rect x="434" y="336.2" width="83.29999999999995" height="83.90000000000003"/></clipPath>
<g clip-path="url(#c5)">
<path d="M458.9 360.5C459.6 359.6 460.4 360.1 461.2 359.9C462.0 359.8 462.9 360.4 463.6 359.8C464.3 359.2 464.8 357.6 465.4 356.5C465.9 355.4 466.5 353.9 467.0 353.1C467.5 352.3 468.0 351.9 468.6 351.6C469.1 351.2 469.7 351.1 470.4 351.1C471.1 351.1 472.2 351.5 473.1 351.9C474.0 352.2 475.0 352.7 475.8 353.1C476.6 353.5 477.2 354.1 477.9 354.4C478.6 354.7 479.2 355.2 479.8 355.1C480.4 355.0 481.1 354.4 481.8 353.9C482.4 353.5 483.0 352.8 483.8 352.4C484.6 352.0 485.5 351.7 486.3 351.6C487.1 351.5 487.9 351.4 488.5 351.7C489.1 352.0 489.6 352.6 489.9 353.3C490.3 354.0 490.5 354.8 490.6 355.8C490.7 356.8 490.5 358.1 490.2 359.2C490.0 360.4 489.7 361.7 489.2 362.5C488.7 363.3 488.0 363.4 487.5 363.9C486.9 364.3 486.1 364.4 485.9 365.2C485.7 366.0 486.0 367.3 486.0 368.4C486.0 369.5 486.2 370.9 485.9 371.9C485.6 372.9 484.7 373.8 483.9 374.6C483.1 375.4 482.1 376.1 481.1 376.6C480.1 377.1 478.9 377.2 477.8 377.5C476.7 377.7 475.5 377.8 474.4 378.0C473.3 378.2 472.3 378.5 471.4 378.8C470.5 379.2 469.6 379.4 469.0 380.0C468.4 380.6 468.2 381.6 467.8 382.2C467.5 382.9 467.4 383.8 467.0 384.0C466.6 384.2 466.0 383.8 465.6 383.5C465.1 383.2 464.6 382.6 464.3 382.0C464.0 381.4 464.1 380.7 464.0 380.0C463.9 379.4 463.9 378.6 463.6 378.0C463.3 377.4 462.7 377.1 462.2 376.7C461.6 376.2 461.0 375.8 460.3 375.3C459.6 374.8 458.6 374.2 457.9 373.4C457.3 372.6 456.4 372.0 456.3 370.6C456.2 369.2 456.6 367.0 457.1 365.3C457.5 363.6 458.2 361.4 458.9 360.5Z" fill="#fff" stroke="#000" stroke-width="0.7"/>
<path d="M460.8 361.1C461.4 360.3 462.1 360.7 462.8 360.6C463.5 360.5 464.3 361.0 464.9 360.5C465.5 360.0 466.0 358.5 466.5 357.5C467.0 356.6 467.5 355.2 468.0 354.5C468.5 353.8 468.9 353.4 469.4 353.1C469.9 352.8 470.3 352.7 471.0 352.7C471.7 352.8 472.6 353.1 473.4 353.4C474.2 353.6 475.1 354.1 475.8 354.4C476.5 354.8 477.1 355.3 477.7 355.6C478.3 355.8 478.9 356.2 479.4 356.2C480.0 356.1 480.6 355.5 481.2 355.1C481.8 354.7 482.3 354.1 483.0 353.8C483.7 353.4 484.5 353.2 485.2 353.1C485.9 353.0 486.7 352.9 487.2 353.2C487.8 353.4 488.2 354.0 488.5 354.6C488.8 355.2 489.1 355.9 489.1 356.8C489.2 357.7 489.0 358.9 488.8 359.9C488.6 360.9 488.3 362.2 487.9 362.8C487.5 363.5 486.8 363.7 486.4 364.1C485.9 364.5 485.2 364.6 485.0 365.3C484.7 366.0 485.0 367.2 485.0 368.2C485.0 369.2 485.2 370.4 484.9 371.3C484.6 372.2 483.8 373.0 483.1 373.7C482.4 374.4 481.5 375.1 480.6 375.5C479.7 375.9 478.6 376.1 477.6 376.3C476.6 376.5 475.5 376.6 474.6 376.8C473.6 377.0 472.7 377.3 471.9 377.6C471.1 377.9 470.2 378.1 469.7 378.6C469.2 379.1 469.0 380.0 468.7 380.6C468.4 381.2 468.3 381.9 467.9 382.1C467.6 382.3 467.1 382.0 466.7 381.7C466.3 381.4 465.8 380.9 465.5 380.3C465.3 379.8 465.3 379.2 465.2 378.6C465.1 378.0 465.1 377.3 464.8 376.8C464.6 376.3 464.0 376.0 463.5 375.6C463.0 375.2 462.5 374.9 461.9 374.4C461.3 373.9 460.4 373.4 459.8 372.6C459.2 371.9 458.5 371.3 458.4 370.1C458.3 368.9 458.7 366.9 459.1 365.4C459.5 363.9 460.1 361.9 460.8 361.1Z" fill="#fff" stroke="#000" stroke-width="0.7"/>
<path d="M463.5 368.2C463.7 367.3 464.3 366.1 464.8 365.1C465.3 364.0 466.1 362.9 466.5 362.0C466.9 361.1 467.1 360.5 467.5 359.8C467.9 359.2 468.2 358.6 469.0 358.2C469.8 357.8 471.0 357.4 472.1 357.1C473.3 356.8 474.6 356.7 475.8 356.5C477.0 356.3 478.2 356.2 479.3 356.1C480.5 356.1 481.6 356.1 482.5 356.3C483.4 356.5 484.2 356.8 484.8 357.3C485.4 357.7 486.0 358.3 486.2 359.0C486.4 359.7 486.3 360.7 486.2 361.7C486.1 362.7 485.8 363.8 485.6 364.8C485.4 365.8 485.3 366.9 485.1 367.8C484.8 368.8 484.6 369.8 484.0 370.6C483.4 371.4 482.6 372.1 481.8 372.7C480.9 373.3 480.0 373.9 479.0 374.3C478.0 374.8 477.0 375.1 476.0 375.4C475.0 375.7 474.0 375.9 473.0 376.0C472.0 376.1 471.0 376.2 470.1 376.1C469.2 376.0 468.3 375.9 467.5 375.6C466.7 375.3 466.0 374.8 465.4 374.3C464.9 373.8 464.3 373.1 464.0 372.5C463.7 371.9 463.4 371.3 463.3 370.5C463.3 369.8 463.3 369.1 463.5 368.2Z" fill="#fff" stroke="#000" stroke-width="0.7"/>
<path d="M467.7 367.4C467.8 366.8 468.2 365.9 468.6 365.2C469.1 364.5 469.9 363.8 470.2 363.2C470.6 362.7 470.6 362.2 470.9 361.8C471.2 361.5 471.6 361.3 472.1 361.0C472.6 360.7 473.2 360.4 473.9 360.1C474.6 359.8 475.4 359.3 476.1 359.1C476.9 358.9 477.8 359.0 478.6 359.0C479.4 359.0 480.3 358.9 480.9 359.0C481.5 359.1 482.0 359.4 482.4 359.8C482.8 360.1 483.0 360.6 483.2 361.1C483.4 361.6 483.6 362.1 483.6 362.8C483.6 363.4 483.2 364.3 483.1 365.0C482.9 365.7 482.9 366.5 482.6 367.1C482.4 367.8 482.3 368.5 481.8 369.0C481.4 369.5 480.5 369.6 479.9 369.9C479.3 370.3 478.9 370.8 478.3 371.1C477.7 371.5 477.0 371.9 476.4 372.1C475.7 372.4 475.0 372.5 474.3 372.7C473.5 372.8 472.7 373.2 472.0 373.1C471.4 373.1 470.9 372.7 470.5 372.4C470.0 372.2 469.6 371.7 469.3 371.4C468.9 371.0 468.5 370.6 468.3 370.2C468.1 369.8 468.2 369.3 468.1 368.8C468.0 368.3 467.7 368.0 467.7 367.4Z" fill="#fff" stroke="#000" stroke-width="0.7"/>
<path d="M471.2 366.7C471.4 366.3 471.8 365.7 472.2 365.3C472.5 364.9 473.1 364.6 473.3 364.3C473.5 363.9 473.1 363.5 473.2 363.2C473.3 362.9 473.4 362.7 473.7 362.5C474.1 362.3 474.6 362.2 475.0 362.1C475.5 362.0 476.0 361.9 476.5 361.8C477.0 361.7 477.4 361.9 477.9 361.8C478.4 361.7 479.1 361.2 479.6 361.1C480.2 361.0 480.8 361.0 481.1 361.2C481.4 361.4 481.4 361.9 481.5 362.3C481.5 362.7 481.5 363.2 481.4 363.7C481.3 364.2 480.8 364.7 480.7 365.2C480.5 365.7 480.6 366.1 480.5 366.5C480.4 366.9 480.5 367.6 480.2 367.9C480.0 368.2 479.3 368.1 478.9 368.3C478.4 368.5 478.1 368.7 477.8 368.9C477.4 369.1 477.0 369.4 476.6 369.6C476.2 369.8 475.7 369.9 475.3 370.1C474.8 370.3 474.1 370.6 473.7 370.6C473.3 370.6 473.0 370.3 472.7 370.0C472.5 369.8 472.3 369.5 472.1 369.3C471.8 369.0 471.4 368.9 471.2 368.6C471.1 368.3 471.1 368.0 471.1 367.7C471.1 367.3 471.0 367.1 471.2 366.7Z" fill="#fff" stroke="#000" stroke-width="0.7"/>
<path d="M474.9 365.9C475.0 365.8 475.1 365.6 475.2 365.4C475.4 365.3 475.5 365.1 475.6 365.0C475.7 364.9 475.8 364.9 475.8 364.8C475.9 364.7 475.9 364.7 476.0 364.6C476.1 364.5 476.2 364.5 476.3 364.4C476.5 364.3 476.6 364.1 476.8 364.0C477.0 363.9 477.2 363.7 477.5 363.6C477.7 363.5 478.0 363.4 478.3 363.3C478.6 363.2 478.9 363.2 479.1 363.3C479.3 363.3 479.5 363.5 479.6 363.7C479.6 363.9 479.5 364.2 479.4 364.5C479.3 364.8 479.1 365.1 478.9 365.3C478.8 365.6 478.6 365.8 478.5 365.9C478.3 366.1 478.2 366.2 478.1 366.3C478.0 366.4 477.8 366.5 477.7 366.6C477.6 366.7 477.5 366.8 477.3 366.9C477.2 367.0 477.0 367.1 476.8 367.2C476.7 367.3 476.4 367.4 476.2 367.5C476.0 367.6 475.8 367.7 475.5 367.7C475.3 367.8 475.1 367.8 474.9 367.8C474.7 367.7 474.5 367.6 474.5 367.4C474.4 367.3 474.4 367.1 474.4 366.9C474.5 366.7 474.5 366.5 474.6 366.4C474.7 366.2 474.8 366.1 474.9 365.9Z" fill="#fff" stroke="#000" stroke-width="0.7"/>
<path d="M437.4 388.1C438.0 387.9 439.3 388.0 440.3 388.1C441.3 388.2 442.6 388.5 443.5 388.7C444.4 388.9 444.9 389.2 445.4 389.6C446.0 389.9 446.4 390.3 446.8 390.8C447.2 391.3 447.4 392.1 447.7 392.6C448.0 393.2 448.2 393.9 448.8 394.1C449.4 394.3 450.3 394.2 451.1 394.1C451.9 393.9 452.8 393.7 453.6 393.5C454.4 393.3 455.2 393.0 455.9 392.9C456.5 392.7 457.2 392.5 457.6 392.8C458.0 393.1 458.2 393.8 458.3 394.5C458.4 395.1 458.5 396.0 458.3 396.8C458.1 397.6 457.8 398.3 457.4 399.1C457.1 399.9 456.6 400.7 456.2 401.5C455.8 402.3 455.7 403.2 455.3 404.0C455.0 404.8 454.7 405.6 454.2 406.2C453.7 406.8 453.0 407.0 452.3 407.3C451.6 407.7 450.8 407.8 450.2 408.3C449.6 408.8 449.0 409.7 448.5 410.2C447.9 410.8 447.3 411.5 446.8 411.6C446.3 411.7 445.7 411.2 445.2 410.9C444.6 410.6 444.1 409.9 443.5 409.6C442.9 409.3 442.1 409.2 441.4 409.0C440.8 408.8 440.1 408.6 439.4 408.3C438.7 408.0 438.1 407.6 437.5 407.1C437.0 406.7 436.5 406.2 436.1 405.6C435.7 405.0 435.5 404.3 435.4 403.6C435.3 402.9 435.2 402.1 435.4 401.5C435.6 400.9 436.2 400.4 436.6 399.9C437.1 399.3 437.7 398.9 438.1 398.2C438.5 397.5 438.9 396.6 439.1 395.8C439.3 395.0 439.6 394.1 439.4 393.5C439.2 392.9 438.5 392.5 438.1 392.0C437.6 391.6 437.0 391.3 436.7 390.8C436.4 390.3 436.4 389.7 436.5 389.2C436.6 388.8 436.8 388.3 437.4 388.1Z" fill="#fff" stroke="#000" stroke-width="0.7"/>
<path d="M438.1 401.5C438.7 401.0 439.6 400.5 440.5 400.0C441.4 399.6 442.4 399.1 443.5 398.8C444.6 398.5 445.8 398.3 446.9 398.1C448.0 397.9 449.2 397.8 450.2 397.5C451.2 397.2 452.1 396.7 452.9 396.5C453.7 396.2 454.4 395.9 454.9 396.1C455.4 396.3 455.7 397.0 455.8 397.7C455.9 398.4 455.9 399.3 455.6 400.2C455.3 401.1 454.6 402.1 453.9 403.0C453.2 403.9 452.3 404.9 451.5 405.6C450.7 406.3 449.8 406.9 448.9 407.4C448.0 407.8 447.1 408.2 446.2 408.3C445.3 408.4 444.3 408.1 443.4 407.9C442.5 407.7 441.6 407.2 440.8 406.9C440.0 406.6 439.0 406.4 438.3 406.0C437.6 405.7 437.0 405.4 436.7 404.9C436.4 404.4 436.6 403.8 436.8 403.2C437.0 402.7 437.5 402.0 438.1 401.5Z" fill="#fff" stroke="#000" stroke-width="0.7"/>
<path d="M439.3 402.7C439.7 402.4 440.2 401.9 440.8 401.6C441.4 401.3 442.1 401.1 442.8 400.9C443.4 400.8 444.2 400.7 444.8 400.6C445.5 400.6 446.1 400.6 446.6 400.5C447.1 400.5 447.4 400.3 447.8 400.2C448.2 400.1 448.9 399.7 449.2 399.8C449.5 399.9 449.8 400.3 449.8 400.7C449.9 401.1 449.8 401.7 449.7 402.2C449.5 402.7 449.2 403.2 448.9 403.8C448.6 404.3 448.0 404.9 447.6 405.3C447.2 405.8 447.0 406.3 446.6 406.6C446.1 406.9 445.5 407.3 444.8 407.3C444.2 407.4 443.5 407.1 442.8 407.0C442.2 406.9 441.5 406.9 440.9 406.7C440.2 406.5 439.3 406.2 438.7 405.9C438.2 405.6 437.6 405.3 437.5 404.9C437.3 404.5 437.6 404.0 437.8 403.6C438.1 403.3 438.8 403.0 439.3 402.7Z" fill="#fff" stroke="#000" stroke-width="0.7"/>
<path d="M440.0 403.4C440.3 403.3 440.7 403.2 441.1 403.2C441.4 403.2 441.7 403.2 442.0 403.2C442.2 403.3 442.4 403.3 442.6 403.4C442.8 403.4 442.9 403.5 443.0 403.5C443.1 403.6 443.1 403.6 443.2 403.6C443.2 403.6 443.2 403.6 443.3 403.7C443.3 403.7 443.4 403.8 443.5 403.8C443.6 403.9 443.7 404.0 443.8 404.1C443.9 404.2 444.0 404.3 444.0 404.5C444.1 404.7 444.1 404.9 444.1 405.1C444.0 405.3 443.9 405.5 443.8 405.7C443.6 405.9 443.4 406.0 443.2 406.2C443.0 406.3 442.8 406.4 442.5 406.5C442.1 406.5 441.5 406.7 440.9 406.6C440.3 406.5 439.4 406.0 439.1 405.8C438.7 405.5 438.7 405.2 438.7 404.9C438.7 404.6 438.8 404.3 439.1 404.1C439.3 403.8 439.7 403.6 440.0 403.4Z" fill="#fff" stroke="#000" stroke-width="0.7"/>
<path d="M435.4 357.1C435.9 356.1 436.6 355.1 437.4 354.4C438.2 353.6 439.1 352.9 440.1 352.4C441.1 351.9 442.2 351.4 443.3 351.1C444.4 350.9 445.6 350.7 446.8 350.7C448.0 350.7 449.2 350.9 450.4 351.1C451.5 351.4 452.7 351.9 453.6 352.4C454.5 352.9 455.3 353.7 455.9 354.4C456.6 355.2 457.1 356.1 457.6 357.1C458.1 358.1 458.4 359.1 458.7 360.2C459.0 361.4 459.2 362.5 459.3 363.8C459.4 365.1 459.4 366.5 459.3 367.9C459.2 369.2 459.0 370.6 458.9 371.9C458.8 373.2 458.6 374.3 458.4 375.5C458.2 376.6 457.9 377.6 457.6 378.6C457.3 379.6 457.0 380.4 456.6 381.2C456.1 382.0 455.6 382.7 454.9 383.4C454.2 384.1 453.1 384.7 452.1 385.3C451.0 385.8 449.9 386.3 448.8 386.7C447.8 387.1 446.8 387.5 445.8 387.8C444.8 388.0 443.8 388.2 442.8 388.1C441.8 388.0 440.8 387.7 439.9 387.3C439.0 386.8 438.1 386.2 437.4 385.4C436.7 384.6 436.2 383.8 435.8 382.7C435.3 381.5 435.0 380.4 434.7 378.6C434.4 376.8 434.2 374.2 434.1 372.0C434.0 369.7 434.0 367.1 434.0 365.2C434.0 363.3 434.1 362.0 434.4 360.6C434.6 359.3 434.9 358.1 435.4 357.1Z" fill="#fff" stroke="#000" stroke-width="0.75"/>
<path d="M435.7 357.4C436.2 356.4 436.9 355.6 437.7 354.8C438.5 354.1 439.3 353.4 440.2 352.8C441.2 352.3 442.3 351.8 443.4 351.6C444.4 351.3 445.6 351.3 446.7 351.4C447.8 351.5 449.0 351.9 450.0 352.2C451.1 352.5 452.2 352.8 453.0 353.3C453.9 353.8 454.7 354.4 455.3 355.1C456.0 355.8 456.5 356.7 456.9 357.6C457.4 358.5 457.7 359.6 458.0 360.6C458.3 361.7 458.6 362.7 458.8 363.9C458.9 365.1 459.1 366.5 459.0 367.8C458.9 369.1 458.6 370.5 458.4 371.7C458.2 372.9 457.9 374.0 457.6 375.0C457.4 376.0 457.2 377.0 456.9 377.9C456.6 378.9 456.3 379.7 455.9 380.5C455.5 381.2 455.0 381.8 454.3 382.4C453.6 383.0 452.5 383.6 451.6 384.1C450.7 384.7 449.6 385.3 448.6 385.8C447.6 386.3 446.7 386.8 445.7 387.1C444.8 387.4 443.8 387.5 442.9 387.4C441.9 387.2 441.0 386.8 440.1 386.3C439.3 385.9 438.4 385.3 437.7 384.6C437.1 383.8 436.6 383.1 436.2 382.0C435.7 380.9 435.5 379.7 435.3 377.9C435.1 376.2 435.0 373.7 434.9 371.6C434.8 369.5 434.7 367.1 434.7 365.3C434.6 363.5 434.5 362.1 434.7 360.8C434.9 359.5 435.2 358.4 435.7 357.4Z" fill="#fff" stroke="#000" stroke-width="0.75"/>
<path d="M436.3 358.0C436.7 357.0 437.2 356.0 437.9 355.3C438.6 354.5 439.6 354.1 440.5 353.6C441.4 353.1 442.4 352.6 443.4 352.4C444.5 352.1 445.6 352.0 446.6 352.0C447.7 352.1 448.8 352.6 449.8 352.9C450.8 353.2 451.8 353.6 452.6 354.0C453.5 354.5 454.3 354.9 454.9 355.6C455.5 356.3 456.0 357.2 456.4 358.0C456.8 358.9 457.2 359.8 457.5 360.8C457.8 361.8 458.2 362.9 458.2 364.1C458.3 365.2 458.0 366.6 457.8 367.8C457.7 369.0 457.4 370.2 457.3 371.4C457.1 372.5 457.2 373.6 457.0 374.6C456.8 375.6 456.5 376.5 456.3 377.4C456.0 378.3 455.8 379.1 455.4 379.8C455.0 380.6 454.8 381.5 454.1 382.1C453.4 382.8 452.4 383.3 451.4 383.7C450.5 384.1 449.3 384.3 448.4 384.7C447.4 385.0 446.6 385.5 445.7 385.7C444.8 385.9 443.9 386.0 443.0 385.9C442.1 385.8 441.3 385.4 440.4 385.1C439.6 384.7 438.7 384.4 438.0 383.8C437.4 383.2 436.9 382.5 436.5 381.5C436.1 380.4 435.9 379.2 435.6 377.6C435.4 375.9 435.1 373.6 435.0 371.6C434.9 369.6 434.9 367.1 435.0 365.4C435.1 363.7 435.4 362.6 435.6 361.4C435.8 360.2 435.9 359.0 436.3 358.0Z" fill="#fff" stroke="#000" stroke-width="0.75"/>
<path d="M436.7 358.5C437.1 357.6 437.6 356.6 438.3 355.9C438.9 355.1 439.7 354.4 440.6 354.0C441.5 353.5 442.5 353.4 443.5 353.3C444.5 353.1 445.5 353.0 446.5 353.1C447.5 353.1 448.6 353.2 449.6 353.4C450.5 353.7 451.4 354.2 452.2 354.7C453.0 355.2 453.7 355.7 454.3 356.3C454.9 356.9 455.6 357.5 456.0 358.3C456.5 359.1 456.7 360.2 456.9 361.2C457.1 362.2 457.1 363.2 457.2 364.3C457.2 365.4 457.3 366.6 457.2 367.8C457.1 368.9 456.8 370.1 456.6 371.1C456.4 372.2 456.3 373.1 456.2 374.1C456.0 375.1 456.0 376.2 455.8 377.0C455.6 377.9 455.4 378.6 455.0 379.3C454.6 380.0 454.1 380.5 453.5 381.1C452.8 381.7 452.0 382.4 451.1 382.8C450.2 383.3 449.1 383.5 448.2 383.8C447.3 384.1 446.4 384.2 445.6 384.4C444.7 384.6 443.9 384.9 443.1 384.9C442.3 384.9 441.4 384.8 440.6 384.4C439.8 384.1 439.1 383.4 438.5 382.8C437.8 382.2 437.3 381.6 436.9 380.7C436.5 379.8 436.2 378.8 436.0 377.2C435.8 375.6 435.8 373.2 435.7 371.3C435.6 369.3 435.6 367.1 435.6 365.5C435.6 363.9 435.6 362.7 435.8 361.5C435.9 360.3 436.3 359.4 436.7 358.5Z" fill="#fff" stroke="#000" stroke-width="0.75"/>
<path d="M437.0 358.8C437.4 357.9 437.9 357.0 438.6 356.4C439.2 355.7 440.1 355.3 440.9 354.9C441.7 354.4 442.6 353.9 443.6 353.7C444.5 353.5 445.5 353.3 446.5 353.4C447.4 353.5 448.4 354.0 449.3 354.3C450.2 354.6 451.1 354.9 451.8 355.4C452.6 355.8 453.2 356.3 453.7 357.0C454.2 357.6 454.5 358.5 454.9 359.2C455.3 360.0 455.7 360.8 456.0 361.6C456.3 362.5 456.7 363.4 456.8 364.4C456.9 365.4 456.7 366.6 456.7 367.7C456.6 368.8 456.5 370.0 456.4 371.1C456.3 372.1 456.2 373.1 456.0 374.0C455.8 374.9 455.4 375.6 455.0 376.3C454.7 377.0 454.4 377.6 454.1 378.3C453.7 378.9 453.5 379.6 452.9 380.1C452.3 380.7 451.4 381.1 450.6 381.5C449.7 382.0 448.8 382.3 448.0 382.7C447.2 383.2 446.4 383.8 445.6 384.0C444.8 384.2 444.0 384.3 443.2 384.2C442.4 384.1 441.6 383.8 440.8 383.5C440.1 383.1 439.3 382.8 438.7 382.1C438.2 381.5 437.8 380.7 437.4 379.8C437.1 378.8 437.0 377.8 436.7 376.3C436.5 374.9 436.2 372.9 436.0 371.1C435.9 369.3 435.9 367.1 436.0 365.6C436.0 364.0 436.2 363.0 436.4 361.9C436.6 360.8 436.6 359.7 437.0 358.8Z" fill="#fff" stroke="#000" stroke-width="0.75"/>
<path d="M437.2 359.1C437.6 358.2 438.3 357.6 438.9 357.0C439.6 356.4 440.3 356.0 441.1 355.6C441.9 355.2 442.8 354.7 443.6 354.6C444.5 354.4 445.4 354.5 446.3 354.6C447.2 354.7 448.1 354.9 449.0 355.1C449.9 355.3 450.9 355.4 451.6 355.8C452.3 356.2 452.9 356.8 453.4 357.4C453.9 358.0 454.2 358.7 454.6 359.5C455.0 360.2 455.4 360.9 455.6 361.8C455.8 362.7 455.8 363.6 455.8 364.6C455.7 365.6 455.5 366.7 455.5 367.7C455.4 368.7 455.5 369.8 455.4 370.7C455.4 371.7 455.3 372.6 455.1 373.5C455.0 374.3 454.7 375.1 454.5 375.8C454.3 376.6 454.2 377.4 453.9 378.0C453.6 378.7 453.2 379.2 452.5 379.6C451.9 380.1 451.0 380.3 450.2 380.7C449.4 381.1 448.6 381.5 447.8 381.8C447.0 382.2 446.3 382.5 445.5 382.7C444.8 382.9 444.0 382.8 443.3 382.8C442.6 382.8 441.8 382.8 441.1 382.5C440.3 382.3 439.6 381.9 439.1 381.3C438.5 380.7 438.2 379.9 437.9 379.0C437.6 378.1 437.3 377.3 437.1 375.9C436.8 374.6 436.5 372.6 436.4 370.9C436.4 369.2 436.5 367.2 436.6 365.7C436.6 364.2 436.6 363.2 436.7 362.1C436.8 361.0 436.9 359.9 437.2 359.1Z" fill="#fff" stroke="#000" stroke-width="0.75"/>
<path d="M437.8 359.6C438.2 358.9 438.7 358.1 439.3 357.6C439.9 357.1 440.7 356.9 441.4 356.6C442.2 356.2 442.9 355.9 443.7 355.6C444.5 355.3 445.4 354.9 446.3 354.9C447.2 354.8 448.1 355.1 448.9 355.3C449.7 355.6 450.5 356.1 451.1 356.5C451.8 357.0 452.3 357.5 452.7 358.1C453.2 358.7 453.4 359.5 453.7 360.2C454.0 360.9 454.2 361.6 454.5 362.4C454.8 363.1 455.2 363.8 455.4 364.7C455.5 365.6 455.5 366.7 455.4 367.7C455.3 368.6 454.9 369.6 454.8 370.5C454.6 371.4 454.5 372.2 454.4 373.0C454.2 373.8 454.0 374.5 453.7 375.2C453.5 375.8 453.3 376.4 453.0 377.0C452.7 377.6 452.6 378.3 452.1 378.9C451.6 379.4 450.8 379.9 450.1 380.3C449.3 380.6 448.4 380.6 447.6 380.9C446.8 381.1 446.2 381.4 445.5 381.6C444.8 381.8 444.1 382.0 443.4 382.0C442.7 381.9 442.0 381.6 441.3 381.4C440.7 381.1 440.0 380.8 439.5 380.3C438.9 379.8 438.5 379.3 438.2 378.4C437.9 377.6 437.9 376.6 437.7 375.3C437.5 374.0 437.2 372.2 437.1 370.7C436.9 369.1 436.6 367.1 436.6 365.7C436.6 364.3 436.8 363.3 437.0 362.3C437.2 361.2 437.4 360.4 437.8 359.6Z" fill="#fff" stroke="#000" stroke-width="0.75"/>
<path d="M438.2 360.1C438.7 359.5 439.3 359.1 439.8 358.6C440.4 358.1 441.0 357.7 441.6 357.2C442.3 356.8 443.0 356.3 443.8 356.0C444.5 355.7 445.4 355.4 446.2 355.5C447.0 355.5 447.9 355.8 448.6 356.1C449.4 356.4 450.0 357.0 450.6 357.4C451.2 357.9 451.6 358.4 452.0 358.9C452.5 359.4 452.9 359.9 453.3 360.5C453.6 361.1 454.0 361.8 454.2 362.5C454.4 363.2 454.5 364.1 454.6 364.9C454.6 365.8 454.5 366.7 454.4 367.6C454.3 368.5 454.2 369.5 454.1 370.3C454.0 371.1 453.9 371.9 453.7 372.6C453.6 373.4 453.4 374.1 453.2 374.7C453.0 375.3 452.8 375.9 452.6 376.4C452.3 377.0 452.0 377.5 451.5 378.0C451.0 378.4 450.3 378.9 449.6 379.2C449.0 379.6 448.1 379.8 447.4 380.1C446.7 380.3 446.1 380.4 445.4 380.6C444.8 380.7 444.1 380.9 443.5 380.9C442.8 380.9 442.1 380.8 441.5 380.6C440.9 380.4 440.3 380.0 439.8 379.5C439.3 379.0 439.1 378.3 438.8 377.5C438.5 376.7 438.4 375.9 438.2 374.7C438.0 373.5 437.7 371.9 437.5 370.5C437.3 369.0 437.0 367.1 437.0 365.8C436.9 364.4 437.0 363.3 437.2 362.4C437.4 361.4 437.8 360.8 438.2 360.1Z" fill="#fff" stroke="#000" stroke-width="0.75"/>
<path d="M438.7 360.7C439.1 360.1 439.7 359.7 440.2 359.2C440.7 358.6 441.2 358.0 441.8 357.7C442.4 357.3 443.1 357.0 443.8 356.8C444.6 356.6 445.3 356.6 446.1 356.6C446.9 356.5 447.7 356.5 448.5 356.7C449.2 356.9 449.9 357.3 450.4 357.8C450.9 358.2 451.2 358.9 451.6 359.4C451.9 360.0 452.3 360.5 452.6 361.1C452.8 361.7 453.1 362.3 453.2 363.0C453.4 363.7 453.4 364.4 453.5 365.2C453.6 365.9 453.9 366.8 453.9 367.6C454.0 368.5 454.0 369.4 453.8 370.2C453.7 371.0 453.4 371.6 453.2 372.3C453.0 372.9 452.8 373.6 452.6 374.1C452.4 374.7 452.2 375.2 451.9 375.7C451.6 376.1 451.2 376.3 450.8 376.7C450.3 377.2 449.8 377.7 449.2 378.2C448.6 378.6 448.0 379.2 447.3 379.5C446.7 379.8 446.0 379.9 445.4 380.0C444.8 380.1 444.2 380.1 443.6 380.1C443.0 380.0 442.3 379.9 441.8 379.5C441.3 379.2 440.8 378.6 440.4 378.1C440.0 377.5 439.7 377.1 439.4 376.5C439.0 375.9 438.6 375.5 438.4 374.5C438.1 373.5 437.8 371.8 437.7 370.4C437.5 369.0 437.5 367.1 437.5 365.8C437.5 364.6 437.5 363.6 437.7 362.7C437.9 361.8 438.3 361.3 438.7 360.7Z" fill="#fff" stroke="#000" stroke-width="0.75"/>
<path d="M439.0 361.0C439.3 360.3 439.6 359.6 440.1 359.1C440.6 358.6 441.3 358.3 441.9 358.1C442.5 357.9 443.3 357.8 443.9 357.7C444.6 357.7 445.3 357.6 446.0 357.6C446.7 357.6 447.4 357.6 448.1 357.7C448.8 357.8 449.5 358.0 450.1 358.4C450.6 358.7 451.0 359.2 451.3 359.8C451.6 360.3 451.7 361.0 451.9 361.6C452.1 362.2 452.3 362.8 452.4 363.4C452.6 364.0 452.8 364.6 453.0 365.3C453.1 366.0 453.2 366.8 453.2 367.6C453.2 368.4 453.1 369.2 453.0 369.9C452.9 370.6 452.7 371.3 452.5 371.9C452.3 372.5 452.1 373.0 451.9 373.5C451.7 374.0 451.5 374.5 451.3 375.0C451.1 375.4 450.8 375.8 450.4 376.2C450.0 376.6 449.5 377.1 448.9 377.4C448.4 377.8 447.7 378.1 447.1 378.4C446.5 378.6 445.9 378.9 445.3 378.9C444.8 379.0 444.2 379.0 443.7 378.9C443.1 378.7 442.6 378.5 442.1 378.2C441.6 378.0 441.1 377.7 440.7 377.3C440.3 377.0 439.9 376.7 439.5 376.2C439.2 375.7 438.9 375.1 438.7 374.1C438.4 373.1 438.2 371.5 438.2 370.2C438.1 368.8 438.3 367.2 438.4 366.0C438.5 364.9 438.5 364.1 438.6 363.3C438.7 362.5 438.8 361.7 439.0 361.0Z" fill="#fff" stroke="#000" stroke-width="0.75"/>
<path d="M439.6 361.6C440.0 361.1 440.4 360.7 440.8 360.2C441.2 359.8 441.7 359.3 442.2 359.0C442.7 358.6 443.3 358.3 444.0 358.1C444.6 358.0 445.3 358.0 445.9 358.0C446.6 358.0 447.3 358.2 447.9 358.3C448.5 358.5 449.1 358.8 449.6 359.1C450.1 359.5 450.4 359.9 450.7 360.4C451.0 361.0 451.0 361.6 451.2 362.1C451.4 362.7 451.5 363.2 451.7 363.8C451.9 364.3 452.2 364.8 452.3 365.4C452.5 366.1 452.6 366.8 452.6 367.5C452.6 368.3 452.4 369.0 452.3 369.7C452.2 370.4 452.1 370.9 451.9 371.5C451.8 372.1 451.6 372.7 451.4 373.1C451.2 373.6 451.0 373.9 450.7 374.3C450.5 374.6 450.2 374.8 449.8 375.2C449.4 375.5 448.9 375.9 448.5 376.3C448.0 376.7 447.4 377.2 446.9 377.5C446.4 377.8 445.8 378.1 445.3 378.2C444.8 378.3 444.3 378.1 443.8 378.0C443.3 377.9 442.8 377.6 442.3 377.4C441.9 377.1 441.4 376.8 441.0 376.5C440.7 376.1 440.4 375.7 440.1 375.2C439.9 374.6 439.7 374.1 439.5 373.2C439.2 372.3 438.9 371.2 438.7 369.9C438.4 368.7 438.2 367.1 438.2 366.0C438.2 364.9 438.4 364.0 438.6 363.3C438.8 362.5 439.2 362.1 439.6 361.6Z" fill="#fff" stroke="#000" stroke-width="0.7"/>
<path d="M440.6 362.7C440.8 362.2 441.2 361.9 441.6 361.5C441.9 361.2 442.2 360.7 442.6 360.3C443.0 360.0 443.6 359.7 444.1 359.6C444.6 359.5 445.2 359.7 445.7 359.8C446.2 359.9 446.7 360.1 447.2 360.3C447.7 360.5 448.1 360.7 448.4 361.1C448.7 361.4 448.8 361.9 449.0 362.3C449.2 362.7 449.4 363.0 449.6 363.4C449.8 363.8 450.1 364.1 450.2 364.5C450.4 364.9 450.4 365.4 450.4 365.9C450.5 366.4 450.5 366.9 450.6 367.5C450.7 368.0 450.8 368.7 450.8 369.2C450.7 369.7 450.5 370.1 450.3 370.6C450.2 371.0 449.9 371.3 449.8 371.6C449.6 372.0 449.6 372.4 449.4 372.7C449.2 372.9 448.9 373.1 448.6 373.3C448.3 373.5 447.9 373.7 447.5 373.9C447.1 374.2 446.7 374.6 446.4 374.8C446.0 375.0 445.6 375.1 445.2 375.2C444.8 375.2 444.4 375.2 444.0 375.2C443.6 375.2 443.2 375.3 442.8 375.2C442.5 375.1 442.1 374.9 441.8 374.6C441.5 374.3 441.4 373.8 441.2 373.4C440.9 373.0 440.7 372.8 440.4 372.1C440.2 371.5 439.9 370.4 439.8 369.4C439.8 368.4 440.0 367.2 440.0 366.3C440.1 365.5 440.1 364.9 440.2 364.3C440.3 363.7 440.4 363.2 440.6 362.7Z" fill="#fff" stroke="#000" stroke-width="0.7"/>
<path d="M441.6 363.8C441.8 363.5 442.1 363.2 442.3 362.9C442.6 362.6 442.9 362.3 443.2 362.2C443.5 362.0 443.9 361.8 444.3 361.7C444.7 361.7 445.1 361.7 445.5 361.8C445.8 361.9 446.2 362.0 446.5 362.2C446.8 362.4 447.1 362.7 447.3 362.9C447.6 363.2 447.7 363.4 447.9 363.7C448.0 363.9 448.2 364.2 448.3 364.5C448.4 364.7 448.5 365.0 448.6 365.3C448.6 365.6 448.7 365.9 448.7 366.3C448.8 366.6 448.8 367.0 448.8 367.4C448.8 367.7 448.7 368.2 448.7 368.5C448.6 368.8 448.5 369.1 448.5 369.4C448.4 369.7 448.3 370.0 448.2 370.2C448.1 370.4 447.9 370.6 447.8 370.8C447.7 371.0 447.6 371.2 447.4 371.4C447.2 371.6 447.0 371.8 446.7 372.0C446.5 372.2 446.2 372.4 445.9 372.5C445.6 372.6 445.3 372.7 445.1 372.7C444.8 372.7 444.5 372.7 444.3 372.7C444.0 372.6 443.8 372.5 443.5 372.4C443.3 372.3 443.1 372.2 442.8 372.0C442.6 371.8 442.5 371.7 442.3 371.5C442.1 371.3 441.9 371.1 441.7 370.7C441.5 370.3 441.1 369.6 441.0 368.9C440.9 368.2 440.8 367.1 440.8 366.5C440.9 365.8 441.0 365.3 441.2 364.9C441.3 364.5 441.5 364.2 441.6 363.8Z" fill="#fff" stroke="#000" stroke-width="0.7"/>
</g>
<rect x="434" y="336.2" width="83.29999999999995" height="83.90000000000003" fill="none" stroke="#000" stroke-width="2.1"/>
<line x1="430" y1="336.2" x2="434" y2="336.2" stroke="#000" stroke-width="1.3"/>
<line x1="430" y1="357.8" x2="434" y2="357.8" stroke="#000" stroke-width="1.3"/>
<line x1="430" y1="379" x2="434" y2="379" stroke="#000" stroke-width="1.3"/>
<line x1="430" y1="399.8" x2="434" y2="399.8" stroke="#000" stroke-width="1.3"/>
<line x1="430" y1="420.1" x2="434" y2="420.1" stroke="#000" stroke-width="1.3"/>
<text transform="translate(431.5,375.1) rotate(-90)" text-anchor="middle" font-family="Liberation Serif, serif" font-weight="bold" font-size="15.5" stroke="#000" stroke-width="0.2" textLength="33.5" lengthAdjust="spacingAndGlyphs">BP-1</text>
<clipPath id="c6"><rect x="34.9" y="434.9" width="83.30000000000001" height="83.10000000000002"/></clipPath>
<g clip-path="url(#c6)">
<path d="M56.2 463.5C57.0 462.8 58.0 462.7 59.0 462.5C60.1 462.3 61.2 462.5 62.3 462.1C63.4 461.7 64.6 460.8 65.7 460.3C66.8 459.7 68.0 458.9 69.0 458.7C70.0 458.5 71.0 458.9 72.0 459.0C72.9 459.2 73.8 459.6 74.4 459.4C75.0 459.1 75.4 458.1 75.8 457.5C76.3 457.0 76.6 456.0 77.1 456.1C77.6 456.2 78.2 457.2 78.8 457.9C79.5 458.5 80.1 459.7 81.1 460.1C82.1 460.5 83.8 460.2 84.9 460.3C86.1 460.4 87.6 460.2 87.9 460.8C88.2 461.4 87.4 462.7 87.0 463.8C86.5 464.9 85.5 466.3 85.2 467.5C84.9 468.7 85.3 470.0 85.3 471.1C85.3 472.2 85.5 473.5 85.2 474.2C84.9 474.9 84.0 475.1 83.3 475.5C82.6 476.0 81.7 476.2 81.1 476.9C80.5 477.6 80.2 478.9 79.8 480.0C79.4 481.1 79.0 482.4 78.5 483.6C78.0 484.8 77.2 486.1 76.5 487.2C75.9 488.4 75.1 489.5 74.4 490.4C73.7 491.3 73.1 492.0 72.5 492.4C71.8 492.9 71.2 493.3 70.4 493.1C69.6 492.9 68.7 492.2 67.8 491.5C66.9 490.8 65.9 489.7 65.0 489.0C64.1 488.3 63.1 487.7 62.2 487.0C61.3 486.3 60.4 485.6 59.6 485.0C58.8 484.4 58.1 484.0 57.4 483.3C56.8 482.7 56.2 482.1 55.6 481.0C55.0 479.9 54.2 478.1 53.8 476.5C53.3 474.9 52.9 473.1 52.9 471.5C52.9 469.9 53.4 468.3 54.0 467.0C54.5 465.7 55.4 464.2 56.2 463.5Z" fill="#fff" stroke="#000" stroke-width="0.7"/>
<path d="M59.8 467.0C60.5 466.6 61.3 466.8 62.0 466.7C62.7 466.5 63.3 466.4 64.0 466.0C64.7 465.6 65.6 464.8 66.3 464.4C67.1 464.0 68.0 463.6 68.7 463.5C69.5 463.4 70.1 463.6 70.8 463.6C71.5 463.6 72.3 463.7 72.7 463.5C73.2 463.3 73.4 462.8 73.6 462.6C73.8 462.4 73.8 462.3 74.0 462.5C74.3 462.7 74.6 463.3 75.1 463.7C75.6 464.1 76.2 464.6 77.0 464.8C77.7 465.0 78.8 464.8 79.6 464.9C80.3 465.0 81.2 465.0 81.5 465.4C81.9 465.7 81.6 466.3 81.6 467.0C81.6 467.6 81.3 468.4 81.3 469.2C81.2 470.1 81.4 471.1 81.3 472.0C81.3 472.9 81.1 473.8 80.8 474.4C80.6 475.0 80.1 475.1 79.7 475.4C79.3 475.8 78.8 475.9 78.4 476.5C77.9 477.1 77.3 478.0 76.9 478.8C76.4 479.5 76.0 480.3 75.6 481.2C75.2 482.1 74.9 483.3 74.4 484.2C73.9 485.0 73.3 485.9 72.8 486.5C72.2 487.0 71.7 487.1 71.2 487.3C70.6 487.5 70.2 487.6 69.6 487.4C69.1 487.3 68.5 487.0 67.9 486.5C67.2 486.1 66.5 485.3 65.9 484.7C65.3 484.2 64.8 483.5 64.1 483.1C63.5 482.6 62.7 482.4 62.0 482.1C61.3 481.9 60.4 481.9 59.7 481.5C59.1 481.1 58.5 480.7 58.0 479.8C57.5 479.0 56.9 477.5 56.5 476.2C56.2 474.9 55.9 473.4 56.0 472.2C56.2 471.0 56.7 469.8 57.3 468.9C58.0 468.0 59.0 467.3 59.8 467.0Z" fill="#fff" stroke="#000" stroke-width="0.7"/>
<path d="M62.8 469.9C63.3 469.7 63.6 469.6 64.1 469.5C64.5 469.4 65.0 469.4 65.5 469.3C66.0 469.2 66.6 469.0 67.0 468.9C67.5 468.7 68.0 468.6 68.4 468.5C68.8 468.5 69.2 468.6 69.6 468.6C69.9 468.7 70.3 468.8 70.6 468.8C70.8 468.7 70.8 468.5 71.0 468.4C71.1 468.3 71.1 468.1 71.3 468.1C71.5 468.2 71.8 468.4 72.1 468.6C72.4 468.7 72.7 469.0 73.1 469.2C73.5 469.3 74.1 469.3 74.5 469.4C74.8 469.5 75.3 469.5 75.5 469.7C75.7 469.8 75.6 470.1 75.7 470.5C75.8 470.8 75.7 471.1 75.9 471.6C76.1 472.0 76.5 472.5 76.7 473.0C76.9 473.5 77.0 474.2 77.0 474.6C77.0 475.0 76.8 475.0 76.7 475.3C76.5 475.6 76.3 475.7 76.0 476.2C75.7 476.6 75.3 477.4 74.9 477.9C74.4 478.4 73.8 478.9 73.3 479.3C72.8 479.8 72.2 480.1 71.8 480.4C71.3 480.7 70.9 481.0 70.6 481.2C70.2 481.4 70.0 481.5 69.7 481.7C69.4 481.8 69.2 481.8 68.9 481.8C68.6 481.8 68.3 481.6 67.9 481.5C67.6 481.4 67.1 481.1 66.7 481.0C66.3 480.8 65.8 480.7 65.4 480.5C64.9 480.3 64.4 480.1 63.9 479.9C63.4 479.7 63.0 479.5 62.6 479.3C62.2 479.0 61.7 478.8 61.2 478.3C60.8 477.7 59.9 476.7 59.7 475.9C59.4 475.0 59.5 473.9 59.8 473.1C60.1 472.3 60.7 471.7 61.2 471.1C61.7 470.6 62.3 470.2 62.8 469.9Z" fill="#fff" stroke="#000" stroke-width="0.7"/>
<path d="M35.4 459.4C36.1 457.9 37.3 457.6 38.4 457.2C39.5 456.7 40.9 456.9 42.1 456.7C43.3 456.5 44.4 456.1 45.5 456.0C46.6 455.9 47.7 455.9 48.8 456.1C49.9 456.3 51.1 456.7 52.1 457.3C53.2 457.8 54.2 458.6 54.9 459.4C55.6 460.2 56.0 461.2 56.3 462.3C56.7 463.5 56.8 464.7 56.9 466.2C57.0 467.7 56.9 469.7 56.8 471.5C56.6 473.3 56.4 475.3 56.2 476.9C56.0 478.5 55.9 479.9 55.7 481.3C55.5 482.6 55.2 483.9 54.9 485.0C54.6 486.1 54.1 487.0 53.7 487.9C53.2 488.8 52.7 489.5 52.2 490.4C51.7 491.3 51.2 492.4 50.7 493.3C50.1 494.2 49.5 495.1 48.8 495.8C48.1 496.5 47.1 497.2 46.2 497.6C45.3 498.1 44.3 498.4 43.5 498.5C42.7 498.6 42.0 498.4 41.3 498.1C40.6 497.7 40.0 497.2 39.4 496.4C38.8 495.6 38.2 494.7 37.6 493.5C37.1 492.3 36.6 490.9 36.1 489.0C35.6 487.1 35.1 484.5 34.8 482.1C34.4 479.6 34.1 476.9 34.0 474.2C33.9 471.5 33.9 468.5 34.2 466.0C34.4 463.6 34.7 460.9 35.4 459.4Z" fill="#fff" stroke="#000" stroke-width="0.75"/>
<path d="M36.0 460.3C36.7 458.9 37.8 458.6 38.8 458.1C39.8 457.6 41.1 457.5 42.2 457.3C43.3 457.0 44.4 456.5 45.5 456.5C46.5 456.4 47.6 456.6 48.6 456.9C49.7 457.2 50.7 457.8 51.7 458.3C52.6 458.9 53.6 459.5 54.3 460.3C54.9 461.1 55.3 462.1 55.5 463.2C55.8 464.2 55.8 465.4 55.9 466.9C56.0 468.3 56.0 470.0 56.0 471.7C55.9 473.3 55.9 475.2 55.8 476.8C55.7 478.4 55.5 479.8 55.3 481.0C55.1 482.3 54.7 483.4 54.4 484.5C54.1 485.5 53.7 486.4 53.3 487.2C52.8 488.1 52.3 488.8 51.8 489.6C51.3 490.4 50.8 491.2 50.3 492.0C49.7 492.8 49.2 493.5 48.5 494.2C47.8 494.9 46.9 495.7 46.1 496.2C45.3 496.7 44.3 497.1 43.6 497.2C42.8 497.3 42.2 497.1 41.5 496.8C40.9 496.4 40.3 495.9 39.7 495.3C39.1 494.6 38.4 493.9 37.9 492.7C37.4 491.5 36.9 490.2 36.5 488.3C36.1 486.4 35.8 483.8 35.5 481.5C35.2 479.1 35.0 476.7 34.9 474.2C34.7 471.7 34.6 468.9 34.8 466.5C35.0 464.2 35.3 461.7 36.0 460.3Z" fill="#fff" stroke="#000" stroke-width="0.75"/>
<path d="M36.4 461.0C37.1 459.8 38.2 459.7 39.2 459.3C40.2 459.0 41.4 459.1 42.4 458.9C43.5 458.7 44.4 458.1 45.4 457.9C46.4 457.7 47.5 457.5 48.4 457.8C49.4 458.0 50.5 458.6 51.3 459.2C52.1 459.9 52.9 460.7 53.5 461.5C54.0 462.3 54.4 463.0 54.7 464.0C55.0 465.0 55.2 466.0 55.3 467.3C55.4 468.6 55.3 470.2 55.3 471.8C55.2 473.4 55.1 475.2 55.0 476.6C54.8 478.1 54.7 479.3 54.4 480.5C54.2 481.6 53.8 482.6 53.5 483.5C53.2 484.4 52.8 485.1 52.4 486.0C52.1 486.8 51.8 487.7 51.4 488.6C51.0 489.5 50.6 490.6 50.1 491.3C49.6 492.1 49.0 492.6 48.3 493.1C47.6 493.6 46.8 494.0 46.0 494.3C45.2 494.7 44.4 495.1 43.7 495.3C43.0 495.4 42.3 495.5 41.7 495.2C41.1 494.9 40.6 494.4 40.1 493.7C39.5 493.0 39.0 492.1 38.5 491.0C38.1 490.0 37.6 488.8 37.2 487.1C36.8 485.5 36.4 483.2 36.1 481.0C35.8 478.9 35.5 476.6 35.4 474.2C35.3 471.8 35.1 469.1 35.3 466.9C35.5 464.7 35.8 462.3 36.4 461.0Z" fill="#fff" stroke="#000" stroke-width="0.75"/>
<path d="M37.5 462.7C38.0 461.5 38.8 461.0 39.7 460.5C40.5 459.9 41.6 459.7 42.5 459.4C43.5 459.1 44.5 458.8 45.4 458.8C46.3 458.7 47.2 458.9 48.1 459.2C49.0 459.5 50.0 459.9 50.8 460.5C51.5 461.0 52.4 461.6 52.9 462.4C53.4 463.1 53.7 463.9 53.9 464.9C54.1 465.8 54.1 466.9 54.1 468.1C54.1 469.3 54.0 470.7 54.0 472.1C54.0 473.5 54.0 475.0 53.9 476.4C53.9 477.7 53.9 478.9 53.8 480.0C53.6 481.1 53.3 482.2 53.1 483.0C52.8 483.9 52.4 484.6 52.0 485.3C51.6 486.0 51.2 486.7 50.8 487.4C50.4 488.1 50.0 489.0 49.6 489.7C49.1 490.3 48.6 490.9 48.0 491.4C47.4 491.9 46.6 492.2 45.9 492.5C45.2 492.9 44.4 493.2 43.8 493.3C43.1 493.4 42.6 493.5 42.0 493.3C41.5 493.1 40.9 492.7 40.4 492.1C39.9 491.5 39.5 490.7 39.0 489.7C38.6 488.7 38.2 487.7 37.8 486.2C37.4 484.7 36.8 482.6 36.6 480.7C36.3 478.7 36.0 476.3 36.0 474.2C36.0 472.1 36.2 469.7 36.4 467.8C36.7 465.9 37.0 463.9 37.5 462.7Z" fill="#fff" stroke="#000" stroke-width="0.75"/>
<path d="M38.0 463.5C38.6 462.4 39.4 462.2 40.1 461.8C40.9 461.3 41.9 461.2 42.7 460.9C43.6 460.6 44.5 460.3 45.3 460.2C46.2 460.2 47.0 460.3 47.8 460.6C48.6 460.8 49.5 461.3 50.2 461.8C50.9 462.3 51.6 462.9 52.1 463.5C52.6 464.2 52.9 464.8 53.1 465.7C53.3 466.5 53.3 467.5 53.3 468.6C53.3 469.7 53.1 471.1 53.0 472.3C52.9 473.6 52.9 474.9 52.9 476.1C52.8 477.3 53.0 478.4 52.9 479.5C52.8 480.5 52.6 481.5 52.4 482.3C52.1 483.1 51.7 483.7 51.3 484.3C51.0 484.9 50.5 485.3 50.2 485.9C49.8 486.5 49.4 487.3 49.0 487.9C48.6 488.6 48.2 489.3 47.7 489.8C47.2 490.3 46.4 490.8 45.8 491.1C45.2 491.4 44.5 491.6 43.9 491.6C43.3 491.7 42.8 491.6 42.3 491.4C41.8 491.2 41.3 490.8 40.9 490.2C40.5 489.7 40.1 488.9 39.7 488.0C39.3 487.0 39.0 486.0 38.7 484.6C38.3 483.3 37.9 481.6 37.6 479.9C37.2 478.1 36.8 476.2 36.6 474.2C36.5 472.2 36.5 469.8 36.8 468.0C37.0 466.3 37.4 464.5 38.0 463.5Z" fill="#fff" stroke="#000" stroke-width="0.75"/>
<path d="M38.7 464.6C39.2 463.6 39.8 463.3 40.5 462.8C41.2 462.3 42.1 461.8 42.9 461.6C43.6 461.3 44.5 461.3 45.3 461.4C46.1 461.5 46.8 461.8 47.5 462.1C48.2 462.4 49.0 462.8 49.5 463.3C50.1 463.8 50.6 464.5 51.0 465.2C51.4 465.8 51.6 466.3 51.8 467.0C52.1 467.6 52.4 468.2 52.5 469.1C52.7 470.0 52.5 471.3 52.5 472.4C52.5 473.6 52.4 474.9 52.4 476.0C52.3 477.1 52.3 478.1 52.1 478.9C51.9 479.8 51.5 480.4 51.2 481.1C51.0 481.7 50.8 482.3 50.5 482.9C50.2 483.6 49.9 484.2 49.6 484.7C49.3 485.3 48.9 485.7 48.5 486.3C48.2 486.9 47.9 487.6 47.4 488.1C46.9 488.7 46.3 489.2 45.7 489.4C45.1 489.7 44.5 489.6 44.0 489.7C43.5 489.7 43.0 489.7 42.6 489.5C42.1 489.3 41.7 488.9 41.4 488.3C41.0 487.8 40.7 487.0 40.3 486.2C40.0 485.5 39.6 484.8 39.2 483.7C38.9 482.5 38.5 480.8 38.3 479.3C38.1 477.7 38.0 475.9 38.0 474.2C37.9 472.5 37.7 470.4 37.8 468.8C37.9 467.2 38.3 465.6 38.7 464.6Z" fill="#fff" stroke="#000" stroke-width="0.75"/>
<path d="M39.6 466.0C39.9 465.0 40.4 464.4 40.9 463.9C41.5 463.4 42.3 463.0 43.0 462.8C43.8 462.6 44.5 462.5 45.2 462.6C45.9 462.7 46.6 463.0 47.2 463.3C47.8 463.6 48.5 464.1 49.0 464.6C49.5 465.1 49.9 465.7 50.2 466.3C50.5 466.9 50.6 467.5 50.7 468.1C50.9 468.7 51.0 469.2 51.1 470.0C51.3 470.8 51.5 471.7 51.6 472.7C51.7 473.6 51.7 474.9 51.6 475.8C51.5 476.8 51.3 477.6 51.1 478.3C50.9 479.0 50.7 479.6 50.4 480.2C50.2 480.8 50.0 481.4 49.8 481.9C49.6 482.4 49.3 483.0 49.0 483.5C48.7 484.0 48.4 484.5 48.1 484.9C47.8 485.3 47.4 485.7 47.0 486.1C46.6 486.5 46.1 486.9 45.6 487.2C45.1 487.5 44.5 487.7 44.1 487.8C43.6 487.8 43.2 487.7 42.9 487.5C42.5 487.3 42.2 486.8 41.8 486.4C41.5 485.9 41.2 485.4 40.9 484.7C40.6 484.1 40.2 483.5 39.9 482.5C39.6 481.5 39.2 480.1 39.0 478.7C38.8 477.3 38.8 475.7 38.8 474.2C38.7 472.7 38.8 471.1 39.0 469.7C39.1 468.4 39.2 466.9 39.6 466.0Z" fill="#fff" stroke="#000" stroke-width="0.75"/>
<path d="M40.3 467.1C40.7 466.4 41.1 466.1 41.6 465.7C42.1 465.3 42.7 465.0 43.3 464.7C43.9 464.4 44.6 464.1 45.2 464.1C45.8 464.1 46.4 464.3 46.9 464.6C47.5 464.9 47.9 465.5 48.4 466.0C48.8 466.5 49.1 467.0 49.4 467.4C49.7 467.9 50.0 468.2 50.1 468.7C50.3 469.2 50.4 469.8 50.4 470.5C50.4 471.2 50.3 472.1 50.2 473.0C50.2 473.8 50.1 474.7 50.1 475.4C50.0 476.2 50.0 476.9 49.9 477.5C49.8 478.2 49.6 478.7 49.5 479.2C49.3 479.7 49.2 480.1 49.0 480.7C48.8 481.2 48.7 481.8 48.5 482.3C48.3 482.9 48.1 483.4 47.8 483.8C47.5 484.2 47.1 484.4 46.7 484.7C46.4 484.9 45.9 485.1 45.5 485.2C45.0 485.3 44.6 485.4 44.2 485.4C43.8 485.3 43.5 485.2 43.2 484.9C42.9 484.7 42.7 484.3 42.4 483.9C42.2 483.6 41.9 483.3 41.6 482.9C41.2 482.5 40.9 482.2 40.6 481.4C40.2 480.6 39.8 479.4 39.6 478.2C39.4 477.0 39.3 475.6 39.3 474.2C39.3 472.8 39.3 471.3 39.5 470.1C39.7 469.0 40.0 467.9 40.3 467.1Z" fill="#fff" stroke="#000" stroke-width="0.75"/>
<path d="M41.3 468.6C41.5 468.0 41.7 467.5 42.1 467.0C42.5 466.5 43.0 465.9 43.5 465.6C44.0 465.3 44.6 465.2 45.1 465.2C45.7 465.3 46.2 465.6 46.6 466.0C47.1 466.3 47.4 466.9 47.8 467.4C48.1 467.9 48.3 468.4 48.4 468.9C48.6 469.3 48.7 469.7 48.8 470.1C48.9 470.5 49.0 470.9 49.1 471.4C49.2 471.9 49.2 472.5 49.3 473.2C49.3 473.8 49.3 474.6 49.3 475.3C49.2 475.9 49.2 476.5 49.1 477.0C49.0 477.5 48.9 478.0 48.8 478.4C48.6 478.9 48.5 479.3 48.4 479.7C48.2 480.1 48.0 480.5 47.8 480.8C47.6 481.2 47.4 481.6 47.2 481.9C46.9 482.2 46.7 482.4 46.4 482.6C46.1 482.9 45.7 483.1 45.3 483.1C45.0 483.2 44.6 483.2 44.3 483.1C44.0 483.1 43.8 483.0 43.5 482.8C43.3 482.7 43.1 482.5 42.8 482.3C42.6 482.1 42.4 481.8 42.1 481.4C41.9 481.0 41.6 480.7 41.4 480.0C41.1 479.4 40.8 478.5 40.6 477.5C40.4 476.5 40.3 475.3 40.3 474.2C40.3 473.1 40.4 471.9 40.6 471.0C40.8 470.1 41.0 469.3 41.3 468.6Z" fill="#fff" stroke="#000" stroke-width="0.75"/>
</g>
<rect x="34.9" y="434.9" width="83.30000000000001" height="83.10000000000002" fill="none" stroke="#000" stroke-width="2.1"/>
<line x1="30.9" y1="434.9" x2="34.9" y2="434.9" stroke="#000" stroke-width="1.3"/>
<line x1="30.9" y1="455.4" x2="34.9" y2="455.4" stroke="#000" stroke-width="1.3"/>
<line x1="30.9" y1="476.3" x2="34.9" y2="476.3" stroke="#000" stroke-width="1.3"/>
<line x1="30.9" y1="497" x2="34.9" y2="497" stroke="#000" stroke-width="1.3"/>
<line x1="30.9" y1="518" x2="34.9" y2="518" stroke="#000" stroke-width="1.3"/>
<line x1="34.9" y1="518" x2="34.9" y2="522.2" stroke="#000" stroke-width="1.3"/>
<line x1="55.6" y1="518" x2="55.6" y2="522.2" stroke="#000" stroke-width="1.3"/>
<line x1="76" y1="518" x2="76" y2="522.2" stroke="#000" stroke-width="1.3"/>
<line x1="97" y1="518" x2="97" y2="522.2" stroke="#000" stroke-width="1.3"/>
<line x1="118.2" y1="518" x2="118.2" y2="522.2" stroke="#000" stroke-width="1.3"/>
<text transform="translate(26.7,475.3) rotate(-90)" text-anchor="middle" font-family="Liberation Serif, serif" font-weight="bold" font-size="15.5" stroke="#000" stroke-width="0.2" textLength="38.9" lengthAdjust="spacingAndGlyphs">CD19</text>
<clipPath id="c7"><rect x="134.6" y="435.1" width="82.9" height="83.10000000000002"/></clipPath>
<g clip-path="url(#c7)">
<path d="M158.9 491.8C159.8 491.2 160.9 491.1 161.9 490.8C163.0 490.4 164.2 490.4 165.0 489.8C165.8 489.2 166.4 488.0 167.0 487.1C167.5 486.2 168.0 485.1 168.4 484.4C168.8 483.7 168.9 483.3 169.3 482.9C169.6 482.6 169.8 482.4 170.4 482.4C171.0 482.4 172.0 482.6 172.9 482.9C173.8 483.3 174.9 483.7 175.8 484.4C176.7 485.1 177.5 486.0 178.3 486.9C179.1 487.8 179.8 488.9 180.5 489.8C181.2 490.7 181.7 491.5 182.3 492.4C182.8 493.3 183.3 494.2 183.8 495.2C184.3 496.2 184.9 497.4 185.3 498.5C185.8 499.6 186.2 500.8 186.5 501.9C186.8 503.0 187.1 504.2 187.2 505.3C187.3 506.4 187.4 507.6 187.2 508.6C187.0 509.7 186.6 510.7 186.0 511.6C185.5 512.5 184.8 513.4 183.8 514.0C182.8 514.6 181.5 514.8 180.2 515.0C178.8 515.3 177.3 515.3 175.8 515.4C174.3 515.5 172.6 515.6 171.0 515.6C169.4 515.6 167.7 515.5 166.3 515.4C164.9 515.3 163.6 515.4 162.5 515.1C161.4 514.9 160.4 514.7 159.6 514.0C158.8 513.3 158.4 512.3 157.9 511.1C157.5 510.0 157.2 508.7 156.9 507.3C156.6 505.9 156.1 504.1 155.9 502.6C155.7 501.0 155.4 499.3 155.6 497.9C155.8 496.5 156.2 495.4 156.8 494.4C157.3 493.4 158.0 492.4 158.9 491.8Z" fill="#fff" stroke="#000" stroke-width="0.7"/>
<path d="M158.9 493.8C159.7 493.3 160.6 493.0 161.6 492.6C162.7 492.3 163.8 492.1 165.0 491.8C166.2 491.5 167.7 491.1 169.0 490.9C170.4 490.7 171.8 490.5 173.1 490.5C174.4 490.5 175.6 490.7 176.7 491.1C177.8 491.4 178.9 491.9 179.8 492.5C180.7 493.1 181.4 494.0 182.1 494.9C182.8 495.8 183.3 496.9 183.8 497.9C184.3 498.9 184.9 500.1 185.2 501.2C185.6 502.3 185.9 503.4 185.9 504.6C185.9 505.8 185.8 507.1 185.5 508.2C185.1 509.4 184.7 510.5 183.8 511.3C182.9 512.1 181.6 512.4 180.3 512.8C178.9 513.1 177.3 513.3 175.8 513.4C174.3 513.5 172.6 513.7 171.0 513.7C169.4 513.7 167.7 513.5 166.3 513.4C164.9 513.3 163.7 513.1 162.6 512.8C161.5 512.4 160.5 512.1 159.6 511.3C158.7 510.5 157.8 509.4 157.2 508.2C156.5 507.1 155.9 505.8 155.6 504.6C155.3 503.4 155.1 502.2 155.1 501.1C155.1 500.0 155.3 498.8 155.6 497.9C155.9 497.0 156.3 496.2 156.9 495.6C157.4 494.9 158.1 494.3 158.9 493.8Z" fill="#fff" stroke="#000" stroke-width="0.7"/>
<path d="M160.2 494.7C161.0 494.3 162.1 494.2 163.0 494.0C164.0 493.7 164.8 493.5 165.9 493.2C166.9 492.9 168.1 492.4 169.3 492.1C170.5 491.9 171.8 491.8 172.9 491.8C174.1 491.8 175.1 492.0 176.1 492.3C177.1 492.6 178.0 493.1 178.8 493.6C179.6 494.2 180.1 495.1 180.7 495.8C181.3 496.6 182.0 497.4 182.6 498.3C183.3 499.2 184.2 500.2 184.5 501.2C184.9 502.2 184.9 503.4 184.7 504.4C184.5 505.4 184.0 506.4 183.5 507.4C183.1 508.3 182.9 509.4 182.2 510.1C181.5 510.8 180.5 511.4 179.4 511.7C178.3 512.1 176.7 512.1 175.3 512.2C173.9 512.2 172.4 512.1 171.0 512.1C169.6 512.1 168.2 512.0 167.0 511.9C165.8 511.8 164.8 511.6 163.8 511.4C162.8 511.1 161.9 510.8 161.0 510.2C160.1 509.6 159.1 508.7 158.5 507.7C157.8 506.7 157.3 505.4 157.1 504.3C156.9 503.3 157.1 502.2 157.2 501.2C157.2 500.2 157.2 499.2 157.4 498.4C157.5 497.5 157.6 496.7 158.1 496.1C158.6 495.5 159.4 495.0 160.2 494.7Z" fill="#fff" stroke="#000" stroke-width="0.7"/>
<path d="M162.4 496.1C163.0 495.7 163.4 495.3 164.1 495.0C164.8 494.6 165.6 494.3 166.5 494.1C167.4 493.9 168.6 493.8 169.6 493.7C170.7 493.6 171.7 493.5 172.7 493.6C173.6 493.6 174.5 493.8 175.3 494.0C176.1 494.2 176.9 494.6 177.6 495.0C178.4 495.4 179.1 495.8 179.8 496.4C180.5 497.0 181.3 497.8 181.8 498.6C182.2 499.4 182.5 500.4 182.7 501.3C182.8 502.2 182.7 503.1 182.6 504.0C182.5 504.9 182.6 506.0 182.3 506.8C182.1 507.7 181.8 508.7 181.0 509.2C180.3 509.7 179.1 509.8 178.0 510.0C176.9 510.1 175.7 510.1 174.6 510.1C173.4 510.2 172.3 510.5 171.1 510.5C170.0 510.6 168.7 510.6 167.6 510.5C166.6 510.4 165.7 510.3 164.8 510.1C164.0 509.8 163.2 509.6 162.5 509.0C161.8 508.5 161.2 507.6 160.6 506.7C160.1 505.9 159.7 504.9 159.3 504.0C158.9 503.1 158.5 502.2 158.4 501.3C158.3 500.4 158.3 499.4 158.7 498.7C159.0 498.0 159.8 497.5 160.4 497.1C161.0 496.7 161.7 496.4 162.4 496.1Z" fill="#fff" stroke="#000" stroke-width="0.7"/>
<path d="M165.8 498.3C166.2 498.1 166.6 497.9 167.1 497.8C167.6 497.7 168.1 497.6 168.6 497.5C169.2 497.4 169.8 497.3 170.4 497.2C171.0 497.2 171.6 497.1 172.2 497.1C172.7 497.2 173.2 497.2 173.7 497.3C174.2 497.4 174.7 497.5 175.2 497.7C175.7 497.9 176.2 498.1 176.8 498.5C177.3 498.8 178.0 499.2 178.5 499.7C179.0 500.2 179.6 500.9 179.8 501.5C180.0 502.1 179.8 502.9 179.6 503.5C179.3 504.1 178.8 504.6 178.3 505.0C177.8 505.5 177.4 505.8 176.9 506.1C176.3 506.3 175.8 506.4 175.2 506.6C174.6 506.7 174.0 506.7 173.3 506.8C172.7 506.9 171.9 506.9 171.3 506.9C170.6 506.9 169.9 506.8 169.3 506.8C168.7 506.7 168.2 506.7 167.7 506.5C167.2 506.4 166.8 506.3 166.3 506.1C165.8 505.8 165.1 505.5 164.6 505.0C164.0 504.6 163.4 504.0 163.0 503.4C162.7 502.8 162.6 502.1 162.7 501.5C162.7 500.9 163.1 500.4 163.4 499.9C163.8 499.5 164.2 499.2 164.5 498.9C164.9 498.7 165.3 498.5 165.8 498.3Z" fill="#fff" stroke="#000" stroke-width="0.7"/>
<path d="M136.7 492.5C137.3 491.0 138.1 490.0 139.0 489.1C139.9 488.2 140.9 487.6 142.1 487.1C143.3 486.6 144.8 486.3 146.1 486.2C147.5 486.1 149.0 486.2 150.2 486.4C151.4 486.6 152.5 487.1 153.5 487.6C154.5 488.2 155.5 488.9 156.2 489.8C156.9 490.7 157.5 491.7 157.9 492.8C158.4 493.9 158.7 495.1 158.9 496.5C159.1 497.9 159.2 499.6 159.2 501.2C159.2 502.8 159.0 504.5 158.9 506.0C158.8 507.5 158.6 509.0 158.4 510.3C158.2 511.7 157.8 513.0 157.6 514.0C157.4 515.0 157.6 515.8 157.3 516.5C156.9 517.2 156.8 517.7 155.6 518.1C154.4 518.5 151.9 518.6 149.9 518.7C147.9 518.8 145.4 518.6 143.5 518.7C141.6 518.8 140.1 519.4 138.7 519.3C137.4 519.2 136.1 519.3 135.4 518.1C134.7 516.9 134.5 514.3 134.4 512.1C134.3 509.8 134.5 506.9 134.7 504.6C134.8 502.3 135.0 500.1 135.3 498.0C135.7 496.0 136.1 494.0 136.7 492.5Z" fill="#fff" stroke="#000" stroke-width="0.9"/>
<path d="M137.1 493.0C137.7 491.6 138.4 490.5 139.3 489.7C140.2 488.9 141.3 488.7 142.4 488.3C143.5 487.8 144.9 487.4 146.1 487.2C147.4 487.0 148.9 486.9 150.1 487.1C151.3 487.3 152.3 487.7 153.3 488.3C154.3 488.8 155.3 489.3 155.9 490.2C156.6 491.1 156.9 492.4 157.3 493.5C157.6 494.6 158.0 495.7 158.2 497.0C158.5 498.3 158.5 499.9 158.5 501.4C158.6 502.9 158.5 504.5 158.5 506.0C158.4 507.5 158.4 509.0 158.2 510.3C157.9 511.5 157.2 512.6 157.0 513.5C156.8 514.5 157.0 515.3 156.7 515.9C156.4 516.6 156.2 517.0 155.1 517.3C153.9 517.7 151.7 518.0 149.8 518.2C147.9 518.4 145.3 518.5 143.5 518.5C141.7 518.6 140.4 518.9 139.1 518.7C137.8 518.5 136.5 518.7 135.9 517.5C135.3 516.4 135.4 513.8 135.3 511.6C135.2 509.5 135.2 506.9 135.3 504.6C135.3 502.4 135.3 500.2 135.6 498.2C135.9 496.3 136.5 494.4 137.1 493.0Z" fill="#fff" stroke="#000" stroke-width="0.9"/>
<path d="M137.7 493.7C138.2 492.3 138.8 491.2 139.6 490.3C140.4 489.5 141.4 488.9 142.5 488.6C143.6 488.3 145.0 488.3 146.2 488.2C147.4 488.2 148.7 488.0 149.9 488.1C151.0 488.2 152.2 488.3 153.1 488.8C154.0 489.3 154.8 490.2 155.4 491.1C156.0 492.0 156.4 493.0 156.8 494.0C157.2 495.1 157.6 496.0 157.8 497.3C158.0 498.5 158.1 500.1 158.1 501.5C158.2 503.0 158.1 504.5 158.0 505.9C157.9 507.3 157.7 508.7 157.4 509.9C157.2 511.1 156.6 512.1 156.4 513.0C156.2 514.0 156.5 514.7 156.2 515.4C156.0 516.1 156.1 516.9 155.0 517.3C153.9 517.6 151.6 517.7 149.7 517.7C147.8 517.7 145.5 517.3 143.8 517.3C142.1 517.4 140.7 518.1 139.4 518.1C138.2 518.1 136.9 518.3 136.2 517.2C135.6 516.1 135.5 513.6 135.5 511.5C135.4 509.4 135.7 506.8 135.8 504.7C136.0 502.5 136.2 500.6 136.5 498.8C136.8 496.9 137.1 495.1 137.7 493.7Z" fill="#fff" stroke="#000" stroke-width="0.9"/>
<path d="M138.0 494.2C138.6 492.9 139.2 491.8 140.0 491.1C140.8 490.4 141.7 490.1 142.8 489.8C143.8 489.4 145.1 489.1 146.2 488.9C147.4 488.8 148.7 488.8 149.7 488.9C150.8 489.1 151.7 489.6 152.6 490.0C153.5 490.4 154.5 490.8 155.2 491.5C155.8 492.2 156.2 493.3 156.6 494.3C157.0 495.3 157.3 496.3 157.5 497.5C157.6 498.8 157.6 500.3 157.5 501.7C157.4 503.1 157.1 504.6 157.0 505.9C156.9 507.2 156.9 508.5 156.8 509.6C156.6 510.8 156.1 511.8 156.0 512.7C155.8 513.6 156.2 514.5 156.0 515.1C155.8 515.8 155.6 516.2 154.5 516.6C153.5 516.9 151.4 517.1 149.6 517.2C147.8 517.3 145.5 517.3 143.8 517.3C142.2 517.3 141.0 517.4 139.9 517.3C138.8 517.1 137.6 517.4 137.0 516.3C136.4 515.3 136.3 513.0 136.2 511.1C136.1 509.1 136.2 506.7 136.3 504.7C136.3 502.7 136.3 500.6 136.6 498.9C136.9 497.1 137.5 495.5 138.0 494.2Z" fill="#fff" stroke="#000" stroke-width="0.9"/>
<path d="M138.4 494.7C138.9 493.4 139.6 492.7 140.4 491.9C141.1 491.2 141.9 490.6 142.9 490.1C143.9 489.7 145.1 489.5 146.2 489.5C147.3 489.5 148.5 489.8 149.6 490.0C150.6 490.2 151.5 490.4 152.3 490.8C153.2 491.2 154.0 491.7 154.6 492.4C155.2 493.1 155.6 494.0 156.0 494.9C156.4 495.8 156.8 496.7 157.0 497.9C157.2 499.0 157.4 500.5 157.3 501.8C157.3 503.1 156.9 504.6 156.7 505.9C156.5 507.1 156.3 508.3 156.1 509.3C155.9 510.4 155.7 511.5 155.6 512.4C155.4 513.2 155.5 513.7 155.2 514.3C155.0 514.9 155.0 515.4 154.0 515.8C153.1 516.2 151.2 516.7 149.5 516.9C147.8 517.1 145.5 516.9 144.0 516.9C142.4 516.9 141.2 517.1 140.1 516.9C139.0 516.8 137.9 516.9 137.4 515.9C136.8 514.9 136.8 512.6 136.8 510.8C136.8 508.9 137.1 506.7 137.2 504.7C137.2 502.8 137.1 501.0 137.3 499.3C137.5 497.6 137.9 495.9 138.4 494.7Z" fill="#fff" stroke="#000" stroke-width="0.9"/>
<path d="M138.8 495.1C139.3 494.0 140.0 493.3 140.7 492.7C141.5 492.0 142.2 491.6 143.2 491.2C144.1 490.9 145.2 490.5 146.3 490.4C147.3 490.4 148.4 490.6 149.4 490.8C150.4 491.0 151.3 491.0 152.1 491.4C152.9 491.7 153.6 492.5 154.2 493.1C154.8 493.8 155.3 494.4 155.7 495.3C156.1 496.1 156.4 497.1 156.5 498.2C156.6 499.4 156.4 500.8 156.4 502.1C156.3 503.4 156.4 504.7 156.2 505.8C156.1 507.0 155.7 508.1 155.5 509.1C155.3 510.1 155.2 511.1 155.1 512.0C155.0 512.8 155.2 513.5 154.9 514.0C154.7 514.6 154.6 514.9 153.7 515.3C152.8 515.7 151.0 516.2 149.4 516.3C147.8 516.5 145.6 516.2 144.1 516.2C142.6 516.2 141.4 516.6 140.4 516.4C139.4 516.2 138.5 516.1 138.0 515.1C137.5 514.2 137.5 512.2 137.4 510.5C137.2 508.7 137.2 506.5 137.3 504.7C137.4 503.0 137.7 501.3 137.9 499.7C138.2 498.1 138.3 496.3 138.8 495.1Z" fill="#fff" stroke="#000" stroke-width="0.9"/>
<path d="M139.3 495.8C139.7 494.7 140.4 493.9 141.1 493.3C141.7 492.7 142.5 492.5 143.4 492.2C144.3 491.8 145.3 491.4 146.3 491.3C147.3 491.2 148.4 491.2 149.3 491.3C150.3 491.4 151.2 491.4 152.0 491.8C152.7 492.2 153.3 493.1 153.8 493.8C154.3 494.5 154.5 495.4 154.9 496.2C155.2 497.0 155.6 497.8 155.8 498.8C155.9 499.8 155.9 501.1 156.0 502.2C156.0 503.4 156.2 504.7 156.0 505.8C155.9 506.9 155.3 507.9 155.0 508.9C154.8 509.8 154.6 510.8 154.5 511.5C154.5 512.3 154.7 513.0 154.5 513.6C154.3 514.1 154.2 514.4 153.3 514.7C152.4 515.1 150.7 515.4 149.2 515.5C147.7 515.6 145.7 515.3 144.3 515.3C142.9 515.4 141.7 515.9 140.7 515.9C139.7 515.8 138.7 515.9 138.2 515.0C137.7 514.0 137.7 512.0 137.7 510.3C137.6 508.6 137.8 506.5 138.0 504.8C138.1 503.1 138.4 501.7 138.7 500.2C138.9 498.7 138.9 496.9 139.3 495.8Z" fill="#fff" stroke="#000" stroke-width="0.9"/>
<path d="M140.0 496.7C140.4 495.7 141.1 495.2 141.7 494.6C142.3 494.0 142.8 493.2 143.6 492.8C144.3 492.4 145.4 492.2 146.3 492.0C147.3 491.9 148.3 491.7 149.2 491.8C150.1 491.9 151.0 492.1 151.6 492.6C152.3 493.0 152.9 493.8 153.4 494.5C153.8 495.2 154.3 495.7 154.6 496.5C154.8 497.4 154.8 498.4 154.9 499.4C155.0 500.4 155.2 501.4 155.3 502.5C155.3 503.5 155.3 504.7 155.2 505.8C155.2 506.8 155.0 507.8 154.8 508.8C154.7 509.8 154.7 510.8 154.5 511.5C154.4 512.2 154.2 512.5 153.9 512.9C153.7 513.4 153.7 513.8 152.8 514.1C152.0 514.4 150.4 514.5 149.0 514.6C147.6 514.8 145.8 514.8 144.4 514.9C143.1 515.0 141.9 515.4 141.0 515.3C140.1 515.2 139.4 515.1 138.9 514.2C138.3 513.3 138.0 511.7 137.9 510.2C137.8 508.6 138.1 506.4 138.3 504.8C138.5 503.2 138.7 501.7 139.0 500.4C139.3 499.0 139.5 497.6 140.0 496.7Z" fill="#fff" stroke="#000" stroke-width="0.9"/>
<path d="M140.3 497.1C140.7 496.1 141.2 495.3 141.7 494.8C142.3 494.2 143.0 493.9 143.8 493.6C144.5 493.3 145.5 493.3 146.4 493.2C147.2 493.1 148.2 493.0 149.0 493.0C149.8 493.0 150.7 493.0 151.4 493.3C152.0 493.7 152.7 494.2 153.1 494.9C153.6 495.5 153.8 496.4 154.0 497.2C154.3 498.0 154.4 498.8 154.5 499.7C154.7 500.6 154.8 501.6 154.8 502.6C154.8 503.6 154.7 504.8 154.6 505.8C154.6 506.7 154.5 507.7 154.4 508.6C154.2 509.5 154.1 510.4 153.9 511.0C153.8 511.7 153.8 512.1 153.5 512.5C153.2 512.8 153.0 512.9 152.2 513.2C151.5 513.5 150.2 513.8 148.9 514.1C147.6 514.4 145.7 514.8 144.4 515.0C143.1 515.1 142.1 515.2 141.2 514.9C140.4 514.7 139.8 514.5 139.4 513.6C139.0 512.7 139.0 511.1 138.9 509.6C138.8 508.2 138.9 506.3 139.0 504.9C139.1 503.4 139.3 502.0 139.5 500.7C139.7 499.4 139.9 498.1 140.3 497.1Z" fill="#fff" stroke="#000" stroke-width="0.9"/>
<path d="M141.1 498.1C141.5 497.2 141.7 496.3 142.2 495.7C142.7 495.1 143.3 494.6 144.0 494.3C144.7 493.9 145.6 493.6 146.4 493.5C147.2 493.4 148.1 493.5 148.9 493.7C149.6 493.9 150.2 494.4 150.8 494.7C151.5 495.0 152.2 495.1 152.7 495.5C153.2 496.0 153.5 496.8 153.7 497.5C153.9 498.3 154.1 499.1 154.2 499.9C154.2 500.8 154.2 501.9 154.1 502.8C154.1 503.8 154.0 504.8 154.0 505.7C154.0 506.7 154.2 507.7 154.1 508.5C154.0 509.3 153.4 509.9 153.2 510.5C153.0 511.0 153.1 511.4 152.9 511.8C152.7 512.2 152.7 512.5 152.0 512.8C151.3 513.2 150.0 513.6 148.8 513.9C147.6 514.1 145.7 514.5 144.5 514.5C143.4 514.5 142.6 514.1 141.8 513.9C141.1 513.6 140.4 513.7 139.9 513.0C139.5 512.3 139.4 510.8 139.2 509.4C139.1 508.1 139.2 506.3 139.3 504.9C139.4 503.4 139.5 502.0 139.8 500.9C140.1 499.8 140.7 498.9 141.1 498.1Z" fill="#fff" stroke="#000" stroke-width="0.9"/>
<path d="M141.2 498.2C141.5 497.3 142.0 496.9 142.5 496.3C143.0 495.8 143.5 495.4 144.2 495.1C144.8 494.8 145.7 494.6 146.4 494.6C147.2 494.5 148.0 494.7 148.7 494.8C149.4 494.9 150.1 494.8 150.7 495.1C151.3 495.3 151.8 495.9 152.2 496.4C152.6 496.9 153.1 497.3 153.3 497.9C153.6 498.6 153.6 499.5 153.7 500.3C153.7 501.2 153.5 502.2 153.5 503.1C153.5 504.0 153.6 504.9 153.5 505.7C153.5 506.5 153.2 507.3 153.1 508.1C153.1 508.8 153.1 509.7 153.0 510.3C152.9 510.9 152.8 511.2 152.6 511.5C152.3 511.8 152.2 512.0 151.6 512.2C150.9 512.5 149.8 512.9 148.6 513.1C147.5 513.3 145.9 513.3 144.8 513.5C143.7 513.6 142.6 513.9 141.9 513.8C141.1 513.7 140.6 513.4 140.2 512.7C139.9 511.9 139.8 510.4 139.8 509.1C139.8 507.8 140.0 506.2 140.2 504.9C140.3 503.6 140.6 502.6 140.8 501.5C140.9 500.4 140.9 499.0 141.2 498.2Z" fill="#fff" stroke="#000" stroke-width="0.9"/>
<path d="M142.7 500.1C143.0 499.6 143.3 499.2 143.6 498.7C144.0 498.2 144.2 497.6 144.7 497.2C145.2 496.8 145.9 496.5 146.5 496.5C147.1 496.4 147.8 496.7 148.3 496.9C148.9 497.0 149.3 497.3 149.8 497.5C150.3 497.6 150.8 497.7 151.2 498.0C151.6 498.4 151.9 498.8 152.0 499.4C152.2 500.0 152.1 500.8 152.1 501.5C152.1 502.1 152.0 502.9 152.0 503.5C152.1 504.2 152.2 504.9 152.2 505.6C152.2 506.3 152.2 507.0 152.0 507.6C151.9 508.1 151.6 508.6 151.4 509.0C151.3 509.4 151.3 509.6 151.1 509.9C151.0 510.2 151.0 510.4 150.5 510.8C150.1 511.1 149.2 511.5 148.3 511.8C147.4 512.1 145.9 512.4 145.0 512.4C144.1 512.5 143.5 512.3 142.9 512.0C142.4 511.7 142.1 511.5 141.8 510.9C141.6 510.3 141.5 509.2 141.4 508.3C141.3 507.3 141.2 506.0 141.2 505.0C141.3 504.0 141.5 502.9 141.7 502.1C142.0 501.3 142.4 500.7 142.7 500.1Z" fill="#fff" stroke="#000" stroke-width="0.7"/>
<path d="M143.8 501.5C144.0 501.1 144.2 500.8 144.5 500.5C144.7 500.2 145.0 500.0 145.4 499.8C145.7 499.6 146.2 499.5 146.6 499.4C147.0 499.2 147.5 499.1 147.9 499.0C148.4 498.9 148.8 498.8 149.2 499.0C149.6 499.1 149.9 499.4 150.2 499.8C150.4 500.1 150.4 500.6 150.6 501.1C150.7 501.5 150.7 501.9 150.8 502.4C150.8 502.9 150.9 503.4 150.8 504.0C150.8 504.5 150.5 505.0 150.4 505.5C150.3 506.0 150.2 506.3 150.1 506.8C150.1 507.2 150.2 507.7 150.2 508.0C150.2 508.4 150.3 508.7 150.2 508.9C150.1 509.1 149.9 509.1 149.6 509.3C149.2 509.6 148.7 510.0 148.0 510.3C147.3 510.5 146.1 510.9 145.4 510.9C144.7 511.0 144.3 510.5 143.9 510.3C143.6 510.0 143.5 509.7 143.3 509.3C143.1 508.8 142.9 508.2 142.8 507.5C142.7 506.8 142.5 505.8 142.6 505.1C142.6 504.3 142.9 503.6 143.1 503.0C143.3 502.4 143.6 501.9 143.8 501.5Z" fill="#fff" stroke="#000" stroke-width="0.7"/>
<path d="M145.1 503.1C145.2 502.9 145.3 502.7 145.5 502.5C145.6 502.3 145.7 502.1 145.9 501.9C146.1 501.7 146.4 501.4 146.7 501.3C146.9 501.1 147.3 501.0 147.6 501.0C147.9 501.0 148.1 501.1 148.3 501.2C148.6 501.4 148.8 501.6 148.9 501.8C149.0 502.1 149.1 502.3 149.2 502.6C149.3 502.9 149.3 503.1 149.4 503.4C149.4 503.7 149.4 504.1 149.4 504.4C149.3 504.8 149.3 505.1 149.2 505.4C149.2 505.7 149.1 506.0 149.0 506.3C148.9 506.5 148.9 506.7 148.8 506.9C148.7 507.1 148.7 507.1 148.6 507.3C148.6 507.4 148.6 507.4 148.4 507.7C148.3 507.9 148.1 508.4 147.6 508.8C147.2 509.1 146.2 509.6 145.7 509.6C145.3 509.6 145.0 509.1 144.8 508.8C144.5 508.6 144.5 508.4 144.4 508.0C144.3 507.6 144.2 507.2 144.2 506.7C144.2 506.2 144.3 505.6 144.4 505.2C144.4 504.7 144.6 504.3 144.7 504.0C144.8 503.6 145.0 503.4 145.1 503.1Z" fill="#fff" stroke="#000" stroke-width="0.7"/>
</g>
<rect x="134.6" y="435.1" width="82.9" height="83.10000000000002" fill="none" stroke="#000" stroke-width="2.1"/>
<line x1="130.6" y1="435.1" x2="134.6" y2="435.1" stroke="#000" stroke-width="1.3"/>
<line x1="130.6" y1="455.6" x2="134.6" y2="455.6" stroke="#000" stroke-width="1.3"/>
<line x1="130.6" y1="476.4" x2="134.6" y2="476.4" stroke="#000" stroke-width="1.3"/>
<line x1="130.6" y1="496.9" x2="134.6" y2="496.9" stroke="#000" stroke-width="1.3"/>
<line x1="130.6" y1="518.2" x2="134.6" y2="518.2" stroke="#000" stroke-width="1.3"/>
<line x1="134.6" y1="518.2" x2="134.6" y2="522.4000000000001" stroke="#000" stroke-width="1.3"/>
<line x1="154.8" y1="518.2" x2="154.8" y2="522.4000000000001" stroke="#000" stroke-width="1.3"/>
<line x1="175.4" y1="518.2" x2="175.4" y2="522.4000000000001" stroke="#000" stroke-width="1.3"/>
<line x1="196.5" y1="518.2" x2="196.5" y2="522.4000000000001" stroke="#000" stroke-width="1.3"/>
<line x1="217.5" y1="518.2" x2="217.5" y2="522.4000000000001" stroke="#000" stroke-width="1.3"/>
<text transform="translate(132,474.3) rotate(-90)" text-anchor="middle" font-family="Liberation Serif, serif" font-weight="bold" font-size="15.5" stroke="#000" stroke-width="0.2" textLength="15.2" lengthAdjust="spacingAndGlyphs">IE</text>
<clipPath id="c8"><rect x="233.9" y="435.4" width="83.49999999999997" height="83.5"/></clipPath>
<g clip-path="url(#c8)">
<path d="M262.3 477.9C262.5 477.0 262.9 475.6 263.4 474.7C263.8 473.8 264.4 472.6 265.0 472.5C265.6 472.4 266.2 473.7 266.8 474.4C267.5 475.0 268.2 476.4 269.0 476.5C269.8 476.6 270.7 475.5 271.6 475.0C272.5 474.4 273.5 473.4 274.4 473.2C275.3 473.0 276.3 473.4 277.2 473.7C278.1 474.0 279.0 474.6 279.8 475.2C280.6 475.8 281.3 476.5 282.0 477.3C282.7 478.1 283.3 479.0 283.8 479.9C284.3 480.8 284.9 481.7 285.2 482.7C285.6 483.8 285.9 484.8 285.9 486.0C285.9 487.2 285.6 488.8 285.2 490.1C284.9 491.4 284.4 492.9 283.8 494.0C283.2 495.1 282.6 496.0 281.9 496.8C281.3 497.5 280.5 498.2 279.8 498.7C279.1 499.2 278.6 499.8 277.9 500.0C277.2 500.2 276.6 500.4 275.8 500.1C275.0 499.8 274.0 499.0 273.1 498.2C272.2 497.4 271.2 496.3 270.4 495.4C269.6 494.5 268.7 493.6 268.0 492.7C267.3 491.8 266.6 490.9 266.3 490.0C266.0 489.1 266.3 488.0 266.3 487.1C266.3 486.2 266.6 485.3 266.3 484.6C266.0 483.9 265.2 483.6 264.7 483.2C264.1 482.7 263.4 482.4 263.0 481.9C262.6 481.4 262.4 480.7 262.3 480.1C262.2 479.4 262.1 478.8 262.3 477.9Z" fill="#fff" stroke="#000" stroke-width="0.7"/>
<path d="M265.6 479.4C265.7 478.8 266.1 477.8 266.4 477.2C266.8 476.6 267.3 475.8 267.8 475.8C268.2 475.8 268.7 476.7 269.1 477.2C269.6 477.7 270.0 478.6 270.5 478.5C271.1 478.5 271.6 477.5 272.3 477.0C272.9 476.5 273.7 475.6 274.4 475.4C275.1 475.2 275.9 475.6 276.5 476.0C277.2 476.4 277.7 477.1 278.2 477.6C278.7 478.2 279.1 478.7 279.6 479.3C280.1 479.8 280.6 480.3 281.1 480.9C281.7 481.6 282.3 482.2 282.6 482.9C283.0 483.7 283.2 484.5 283.2 485.4C283.2 486.3 282.8 487.5 282.4 488.4C282.1 489.4 281.6 490.4 281.2 491.1C280.8 491.9 280.3 492.5 279.8 493.0C279.3 493.5 278.7 493.9 278.2 494.2C277.7 494.5 277.3 494.7 276.8 494.8C276.3 494.9 275.9 495.1 275.4 495.0C274.8 494.9 274.1 494.6 273.5 494.2C272.8 493.8 272.0 493.3 271.3 492.7C270.7 492.1 270.0 491.3 269.5 490.6C269.1 489.8 268.8 488.9 268.6 488.2C268.5 487.4 268.8 486.7 268.8 486.0C268.8 485.4 268.8 484.8 268.5 484.3C268.1 483.9 267.4 483.6 266.9 483.3C266.4 482.9 265.9 482.7 265.6 482.3C265.4 481.9 265.4 481.4 265.4 481.0C265.3 480.5 265.4 480.1 265.6 479.4Z" fill="#fff" stroke="#000" stroke-width="0.7"/>
<path d="M268.6 480.9C268.8 480.5 269.2 480.0 269.6 479.7C269.9 479.5 270.4 479.2 270.7 479.2C271.0 479.2 271.1 479.6 271.3 479.8C271.4 479.9 271.5 480.2 271.8 480.1C272.1 480.1 272.6 479.6 273.0 479.4C273.5 479.2 273.9 478.9 274.4 478.8C274.9 478.7 275.3 478.7 275.8 478.7C276.3 478.8 276.9 478.8 277.3 479.1C277.7 479.4 278.1 479.9 278.3 480.4C278.6 480.8 278.6 481.4 278.8 481.9C278.9 482.4 279.2 482.7 279.3 483.2C279.5 483.7 279.7 484.2 279.7 484.7C279.6 485.2 279.4 485.9 279.1 486.4C278.9 487.0 278.5 487.4 278.3 487.9C278.0 488.4 277.9 488.8 277.6 489.3C277.4 489.7 277.1 490.2 276.9 490.5C276.6 490.7 276.3 490.8 275.9 490.8C275.6 490.8 275.3 490.7 275.0 490.5C274.6 490.3 274.2 490.0 273.9 489.7C273.5 489.5 273.0 489.2 272.6 488.8C272.3 488.5 271.9 488.0 271.6 487.6C271.4 487.1 271.2 486.7 271.0 486.3C270.8 485.9 270.7 485.7 270.5 485.3C270.3 484.9 270.0 484.5 269.8 484.2C269.5 483.8 269.3 483.6 269.1 483.4C269.0 483.1 268.9 483.0 268.8 482.8C268.7 482.5 268.6 482.2 268.5 481.9C268.5 481.6 268.4 481.2 268.6 480.9Z" fill="#fff" stroke="#000" stroke-width="0.7"/>
<path d="M272.2 482.6C272.3 482.5 272.5 482.3 272.6 482.2C272.8 482.1 272.9 482.0 273.0 481.9C273.1 481.9 273.0 481.9 273.0 481.9C273.0 481.9 273.0 481.9 273.1 481.9C273.2 481.8 273.6 481.7 273.8 481.7C274.0 481.6 274.2 481.6 274.4 481.6C274.6 481.6 274.8 481.6 274.9 481.6C275.1 481.7 275.3 481.7 275.5 481.8C275.7 481.9 276.0 482.0 276.1 482.2C276.3 482.3 276.5 482.5 276.6 482.7C276.8 482.9 276.9 483.2 276.9 483.4C276.9 483.6 276.9 483.9 276.8 484.1C276.7 484.3 276.6 484.6 276.4 484.8C276.2 485.0 276.0 485.1 275.9 485.2C275.7 485.3 275.6 485.4 275.4 485.4C275.3 485.5 275.2 485.5 275.1 485.5C275.0 485.5 274.9 485.6 274.8 485.6C274.7 485.6 274.7 485.6 274.6 485.6C274.5 485.6 274.4 485.6 274.2 485.6C274.1 485.6 273.9 485.6 273.7 485.5C273.6 485.5 273.4 485.4 273.2 485.3C273.0 485.3 272.8 485.1 272.6 485.0C272.5 484.9 272.3 484.7 272.2 484.6C272.1 484.4 272.0 484.1 271.9 483.9C271.9 483.7 271.9 483.6 271.9 483.5C271.9 483.4 271.9 483.3 271.9 483.2C272.0 483.1 272.0 483.0 272.1 482.9C272.1 482.8 272.1 482.7 272.2 482.6Z" fill="#fff" stroke="#000" stroke-width="0.7"/>
<path d="M235.4 465.8C235.9 464.0 236.8 463.3 237.7 462.5C238.6 461.7 239.8 461.5 240.8 461.1C241.9 460.7 242.9 460.3 244.0 460.2C245.1 460.0 246.3 460.0 247.5 460.1C248.7 460.2 250.0 460.4 251.3 460.8C252.5 461.2 253.8 461.7 254.9 462.4C256.0 463.1 257.1 464.1 258.0 465.1C258.9 466.1 259.7 467.3 260.3 468.5C260.9 469.7 261.2 471.0 261.4 472.4C261.6 473.7 261.6 475.1 261.6 476.5C261.6 477.9 261.5 479.4 261.2 480.7C261.0 482.1 260.7 483.5 260.3 484.6C259.9 485.7 259.4 486.6 258.8 487.5C258.2 488.4 257.6 489.1 256.9 490.0C256.2 490.9 255.3 491.8 254.5 492.7C253.8 493.6 252.9 494.5 252.2 495.4C251.5 496.3 251.1 497.1 250.5 497.9C250.0 498.7 249.5 499.4 248.8 500.1C248.1 500.8 247.1 501.5 246.2 501.9C245.3 502.4 244.3 502.8 243.5 502.8C242.7 502.8 242.0 502.4 241.3 502.0C240.6 501.6 240.0 500.8 239.4 500.1C238.8 499.4 238.4 498.7 237.9 497.6C237.5 496.6 237.1 495.5 236.7 494.0C236.3 492.5 235.8 490.6 235.5 488.6C235.2 486.6 234.8 484.4 234.7 481.9C234.6 479.4 234.5 476.1 234.6 473.4C234.7 470.7 234.9 467.6 235.4 465.8Z" fill="#fff" stroke="#000" stroke-width="0.9"/>
<path d="M235.9 466.5C236.5 464.8 237.4 464.2 238.2 463.5C239.0 462.7 240.0 462.3 241.0 461.8C242.0 461.4 243.0 460.9 244.1 460.7C245.1 460.5 246.2 460.6 247.4 460.8C248.6 460.9 249.8 461.2 251.0 461.6C252.2 462.0 253.4 462.4 254.4 463.1C255.4 463.8 256.4 464.8 257.3 465.8C258.1 466.7 258.9 467.8 259.4 469.0C260.0 470.1 260.4 471.3 260.7 472.6C261.0 473.8 261.2 475.2 261.2 476.5C261.1 477.9 260.9 479.3 260.6 480.6C260.2 481.8 259.7 483.1 259.3 484.1C258.8 485.2 258.4 485.9 258.0 486.8C257.5 487.7 257.1 488.6 256.5 489.6C255.9 490.5 255.0 491.5 254.3 492.3C253.5 493.1 252.5 493.8 251.9 494.6C251.2 495.3 250.8 496.0 250.2 496.7C249.7 497.4 249.3 498.2 248.6 498.9C247.9 499.5 247.0 500.2 246.1 500.7C245.3 501.2 244.3 501.6 243.6 501.6C242.8 501.6 242.1 501.3 241.4 500.9C240.8 500.5 240.2 499.9 239.6 499.1C239.1 498.4 238.7 497.6 238.3 496.5C237.9 495.5 237.6 494.3 237.2 492.9C236.8 491.5 236.3 489.9 235.9 488.0C235.5 486.2 235.0 484.3 234.8 481.9C234.6 479.4 234.6 476.0 234.7 473.4C234.9 470.9 235.4 468.1 235.9 466.5Z" fill="#fff" stroke="#000" stroke-width="0.9"/>
<path d="M236.3 466.9C236.8 465.3 237.6 464.7 238.5 464.0C239.3 463.3 240.3 463.1 241.2 462.7C242.1 462.3 243.1 462.0 244.1 461.8C245.1 461.7 246.1 461.7 247.2 461.8C248.3 461.9 249.5 462.2 250.6 462.5C251.8 462.8 253.0 463.1 254.0 463.7C255.1 464.3 256.2 465.1 257.0 466.0C257.9 466.9 258.7 468.0 259.2 469.1C259.6 470.3 259.8 471.6 259.9 472.8C260.0 474.0 259.9 475.3 259.9 476.6C259.8 477.8 259.7 479.1 259.6 480.4C259.4 481.6 259.1 482.9 258.8 483.9C258.4 484.9 257.9 485.6 257.4 486.4C256.9 487.2 256.3 487.9 255.7 488.7C255.0 489.5 254.3 490.4 253.6 491.3C253.0 492.2 252.2 493.1 251.6 494.0C251.0 494.8 250.6 495.6 250.1 496.3C249.6 497.0 249.1 497.5 248.4 498.0C247.8 498.5 246.8 499.0 246.0 499.3C245.2 499.7 244.4 500.1 243.6 500.1C242.9 500.1 242.3 499.8 241.6 499.4C241.0 499.1 240.5 498.4 240.0 497.8C239.4 497.1 239.0 496.4 238.6 495.5C238.2 494.6 237.9 493.6 237.5 492.3C237.1 491.1 236.6 489.5 236.2 487.7C235.8 485.9 235.3 484.0 235.2 481.7C235.0 479.3 235.0 476.1 235.2 473.6C235.4 471.1 235.7 468.5 236.3 466.9Z" fill="#fff" stroke="#000" stroke-width="0.9"/>
<path d="M236.9 467.6C237.4 466.1 238.0 465.3 238.7 464.5C239.4 463.8 240.4 463.5 241.3 463.2C242.2 462.8 243.2 462.6 244.1 462.4C245.1 462.3 246.1 462.1 247.2 462.3C248.2 462.4 249.3 462.8 250.3 463.2C251.4 463.6 252.3 464.2 253.3 464.8C254.2 465.4 255.3 466.0 256.2 466.8C257.0 467.6 257.9 468.5 258.4 469.6C258.9 470.6 259.0 471.8 259.2 473.0C259.3 474.2 259.4 475.4 259.3 476.6C259.3 477.8 259.1 479.1 258.9 480.2C258.6 481.3 258.2 482.5 257.9 483.4C257.5 484.4 257.3 485.2 256.9 486.1C256.5 486.9 256.1 487.8 255.5 488.5C254.9 489.3 253.9 489.9 253.2 490.6C252.5 491.3 251.7 492.0 251.1 492.7C250.5 493.4 250.2 494.2 249.7 494.8C249.2 495.5 248.8 496.0 248.2 496.6C247.6 497.2 246.7 497.9 246.0 498.4C245.2 498.9 244.4 499.4 243.7 499.4C243.0 499.4 242.4 498.8 241.8 498.3C241.2 497.8 240.7 497.1 240.3 496.5C239.8 495.9 239.3 495.4 238.9 494.6C238.5 493.8 238.2 492.9 237.8 491.6C237.5 490.4 237.0 488.8 236.7 487.1C236.3 485.5 235.8 483.7 235.6 481.5C235.5 479.2 235.7 476.2 235.9 473.9C236.1 471.6 236.4 469.2 236.9 467.6Z" fill="#fff" stroke="#000" stroke-width="0.9"/>
<path d="M236.9 467.6C237.3 466.1 238.1 465.5 238.9 464.9C239.7 464.3 240.6 464.3 241.5 464.0C242.4 463.8 243.3 463.6 244.2 463.5C245.1 463.4 246.0 463.3 247.0 463.4C248.0 463.5 249.1 463.6 250.1 463.9C251.1 464.2 252.1 464.6 253.0 465.2C253.9 465.8 254.8 466.5 255.6 467.3C256.3 468.1 257.1 469.0 257.6 470.0C258.1 471.0 258.4 472.1 258.6 473.2C258.7 474.3 258.7 475.5 258.5 476.6C258.4 477.8 258.2 478.9 257.9 480.0C257.7 481.1 257.4 482.2 257.1 483.1C256.9 484.0 256.6 484.8 256.2 485.6C255.9 486.4 255.4 487.1 254.9 487.9C254.3 488.6 253.6 489.4 252.9 490.1C252.2 490.8 251.4 491.4 250.8 492.0C250.2 492.6 249.9 493.2 249.4 493.8C248.9 494.4 248.6 495.0 248.0 495.5C247.4 496.0 246.6 496.6 245.9 497.0C245.2 497.4 244.4 497.7 243.8 497.7C243.1 497.7 242.5 497.5 242.0 497.2C241.4 496.9 240.9 496.4 240.4 495.8C239.9 495.3 239.5 494.8 239.2 494.0C238.8 493.1 238.5 492.2 238.2 490.9C237.9 489.6 237.6 488.0 237.3 486.3C237.1 484.7 236.8 483.0 236.7 481.0C236.5 478.9 236.2 476.2 236.2 474.0C236.3 471.8 236.4 469.1 236.9 467.6Z" fill="#fff" stroke="#000" stroke-width="0.9"/>
<path d="M237.5 468.4C238.0 467.0 238.6 466.5 239.3 465.8C240.0 465.2 240.8 464.8 241.6 464.5C242.5 464.2 243.3 463.8 244.2 463.8C245.1 463.7 246.0 464.0 246.9 464.1C247.8 464.3 248.7 464.6 249.6 464.9C250.6 465.3 251.6 465.5 252.5 466.0C253.3 466.5 254.3 467.1 255.0 467.8C255.7 468.6 256.4 469.5 256.8 470.4C257.3 471.4 257.5 472.4 257.7 473.5C257.8 474.5 257.9 475.6 257.9 476.7C257.9 477.7 257.8 478.9 257.6 479.9C257.3 480.9 256.9 482.0 256.5 482.8C256.1 483.6 255.7 484.2 255.3 484.9C254.9 485.6 254.6 486.3 254.1 487.0C253.6 487.8 253.0 488.7 252.4 489.4C251.9 490.1 251.1 490.7 250.5 491.3C250.0 491.9 249.6 492.4 249.2 492.9C248.7 493.5 248.4 494.0 247.8 494.5C247.3 495.0 246.5 495.5 245.8 495.8C245.2 496.1 244.4 496.3 243.8 496.3C243.2 496.2 242.7 496.0 242.2 495.7C241.6 495.5 241.1 495.2 240.7 494.7C240.2 494.3 239.8 493.9 239.4 493.1C239.1 492.3 238.8 491.4 238.5 490.2C238.3 489.0 238.0 487.4 237.7 485.9C237.4 484.3 237.1 482.8 236.9 480.9C236.8 478.9 236.6 476.3 236.7 474.2C236.8 472.1 237.1 469.8 237.5 468.4Z" fill="#fff" stroke="#000" stroke-width="0.9"/>
<path d="M238.1 469.0C238.4 467.7 238.9 466.9 239.6 466.3C240.2 465.7 241.1 465.5 241.8 465.3C242.6 465.0 243.4 464.9 244.2 464.8C245.1 464.7 245.9 464.6 246.8 464.7C247.6 464.8 248.6 465.1 249.4 465.5C250.3 465.8 251.1 466.3 251.9 466.8C252.7 467.3 253.6 467.8 254.3 468.5C255.0 469.2 255.7 470.0 256.1 470.8C256.6 471.7 256.7 472.7 256.9 473.7C257.1 474.7 257.3 475.7 257.3 476.7C257.3 477.7 257.1 478.8 256.8 479.8C256.6 480.7 256.1 481.6 255.7 482.4C255.4 483.2 255.1 483.8 254.8 484.5C254.4 485.2 254.0 485.8 253.5 486.4C253.0 487.1 252.4 487.7 251.8 488.4C251.2 489.0 250.7 489.8 250.2 490.5C249.7 491.1 249.4 491.8 249.0 492.3C248.6 492.8 248.2 493.0 247.6 493.3C247.1 493.7 246.4 494.1 245.8 494.4C245.2 494.7 244.5 495.1 243.9 495.1C243.3 495.1 242.8 494.8 242.4 494.5C241.9 494.2 241.4 493.8 241.0 493.4C240.5 493.0 240.1 492.8 239.8 492.1C239.4 491.5 239.2 490.5 238.9 489.4C238.6 488.3 238.3 486.9 238.0 485.5C237.7 484.1 237.3 482.6 237.2 480.7C237.1 478.9 237.2 476.4 237.3 474.4C237.5 472.5 237.7 470.4 238.1 469.0Z" fill="#fff" stroke="#000" stroke-width="0.9"/>
<path d="M238.2 469.2C238.6 468.0 239.3 467.6 239.9 467.1C240.6 466.6 241.3 466.4 242.1 466.2C242.8 466.0 243.5 465.7 244.3 465.7C245.0 465.6 245.8 465.7 246.6 465.8C247.4 465.9 248.3 466.1 249.1 466.3C250.0 466.5 250.9 466.7 251.7 467.1C252.5 467.5 253.4 468.1 254.0 468.8C254.6 469.5 255.0 470.4 255.3 471.3C255.6 472.2 255.6 473.1 255.7 474.0C255.8 474.9 255.9 475.8 256.0 476.7C256.1 477.7 256.2 478.7 256.2 479.6C256.1 480.6 255.9 481.6 255.6 482.3C255.3 483.1 254.7 483.6 254.3 484.2C253.8 484.7 253.4 485.2 252.9 485.7C252.4 486.3 251.8 487.0 251.3 487.6C250.8 488.2 250.2 488.8 249.7 489.4C249.3 489.9 249.0 490.5 248.6 491.0C248.2 491.5 248.0 492.1 247.5 492.5C247.0 492.9 246.3 493.4 245.7 493.6C245.1 493.8 244.5 493.9 244.0 493.8C243.4 493.8 243.0 493.4 242.5 493.1C242.1 492.9 241.7 492.6 241.2 492.3C240.8 491.9 240.4 491.7 240.1 491.1C239.8 490.5 239.5 489.8 239.2 488.7C239.0 487.7 238.7 486.3 238.5 484.9C238.3 483.5 238.0 482.2 237.9 480.4C237.7 478.7 237.4 476.3 237.5 474.5C237.5 472.6 237.8 470.4 238.2 469.2Z" fill="#fff" stroke="#000" stroke-width="0.9"/>
<path d="M238.9 470.0C239.3 468.9 239.9 468.6 240.4 468.1C241.0 467.6 241.6 467.4 242.3 467.1C242.9 466.8 243.6 466.4 244.3 466.2C245.0 466.0 245.8 466.0 246.6 466.0C247.3 466.1 248.2 466.4 249.0 466.7C249.7 467.0 250.5 467.4 251.1 467.9C251.8 468.4 252.5 469.0 253.1 469.6C253.6 470.3 254.2 471.0 254.5 471.7C254.9 472.5 255.0 473.4 255.1 474.2C255.2 475.0 255.1 475.9 255.1 476.8C255.1 477.6 255.1 478.5 255.0 479.4C255.0 480.2 254.9 481.2 254.7 481.9C254.5 482.7 254.3 483.3 253.9 483.9C253.6 484.5 253.1 484.9 252.6 485.5C252.1 486.0 251.5 486.5 250.9 487.0C250.4 487.5 249.8 488.0 249.4 488.5C249.0 489.0 248.7 489.5 248.3 489.9C248.0 490.4 247.7 490.8 247.2 491.1C246.8 491.4 246.2 491.7 245.6 491.9C245.1 492.2 244.5 492.4 244.0 492.4C243.5 492.5 243.1 492.4 242.7 492.3C242.2 492.1 241.8 491.9 241.4 491.5C241.1 491.1 240.7 490.7 240.5 490.1C240.2 489.5 240.0 488.7 239.7 487.8C239.4 486.9 239.1 485.7 238.8 484.5C238.5 483.3 238.2 482.0 238.0 480.4C237.9 478.7 237.8 476.4 237.9 474.6C238.1 472.9 238.5 471.1 238.9 470.0Z" fill="#fff" stroke="#000" stroke-width="0.9"/>
<path d="M239.3 470.5C239.6 469.4 240.1 469.0 240.6 468.5C241.1 468.0 241.8 467.9 242.4 467.7C243.1 467.4 243.7 467.3 244.3 467.2C245.0 467.1 245.7 467.0 246.4 467.0C247.1 467.0 248.0 467.1 248.7 467.3C249.4 467.6 250.2 467.9 250.8 468.4C251.4 468.9 251.9 469.6 252.4 470.2C252.8 470.9 253.2 471.6 253.5 472.3C253.8 473.0 254.1 473.7 254.3 474.4C254.4 475.2 254.6 476.0 254.7 476.8C254.7 477.6 254.6 478.5 254.5 479.3C254.4 480.1 254.1 480.9 253.9 481.5C253.7 482.2 253.4 482.7 253.1 483.3C252.8 483.8 252.5 484.4 252.1 484.9C251.7 485.4 251.1 486.0 250.6 486.5C250.1 486.9 249.5 487.3 249.0 487.6C248.6 488.0 248.3 488.3 248.0 488.7C247.6 489.0 247.4 489.4 247.0 489.8C246.6 490.2 246.1 490.6 245.6 490.9C245.1 491.2 244.5 491.5 244.1 491.5C243.6 491.5 243.2 491.3 242.8 491.1C242.4 490.9 242.1 490.5 241.7 490.1C241.4 489.8 241.1 489.5 240.8 489.0C240.5 488.6 240.2 488.0 240.0 487.2C239.7 486.4 239.4 485.3 239.1 484.1C238.9 482.9 238.7 481.6 238.6 480.1C238.5 478.5 238.5 476.5 238.6 474.9C238.7 473.3 238.9 471.6 239.3 470.5Z" fill="#fff" stroke="#000" stroke-width="0.9"/>
<path d="M239.7 471.0C240.1 470.1 240.6 469.8 241.1 469.4C241.5 469.0 242.1 468.8 242.7 468.6C243.2 468.3 243.8 468.2 244.4 468.1C245.0 468.1 245.6 468.1 246.2 468.2C246.9 468.2 247.6 468.2 248.3 468.3C249.0 468.5 249.8 468.6 250.4 469.0C251.1 469.3 251.6 469.9 252.1 470.5C252.5 471.1 252.9 471.8 253.1 472.5C253.4 473.2 253.6 473.9 253.7 474.6C253.8 475.3 253.9 476.1 253.9 476.8C253.9 477.6 253.7 478.4 253.5 479.1C253.4 479.8 253.1 480.4 252.8 481.0C252.6 481.6 252.5 482.1 252.2 482.6C252.0 483.2 251.8 483.7 251.4 484.2C251.1 484.7 250.6 485.3 250.1 485.7C249.7 486.2 249.1 486.5 248.7 486.9C248.4 487.3 248.1 487.7 247.8 488.1C247.5 488.5 247.3 488.9 246.9 489.2C246.5 489.5 246.0 489.7 245.5 489.8C245.1 489.9 244.6 489.9 244.2 489.8C243.7 489.8 243.4 489.7 243.1 489.5C242.7 489.4 242.3 489.2 242.0 488.9C241.7 488.7 241.5 488.4 241.2 487.9C240.9 487.4 240.8 486.9 240.5 486.2C240.2 485.5 239.8 484.7 239.5 483.7C239.2 482.7 238.6 481.6 238.5 480.1C238.3 478.7 238.3 476.4 238.6 474.9C238.8 473.3 239.3 471.9 239.7 471.0Z" fill="#fff" stroke="#000" stroke-width="0.9"/>
<path d="M239.9 471.2C240.2 470.3 240.7 470.1 241.2 469.8C241.7 469.4 242.2 469.2 242.8 469.1C243.3 468.9 243.9 469.0 244.4 469.0C245.0 469.0 245.5 469.1 246.1 469.1C246.7 469.1 247.4 468.9 248.0 469.0C248.7 469.1 249.4 469.3 249.9 469.7C250.4 470.1 250.8 470.7 251.3 471.3C251.7 471.8 252.1 472.4 252.4 473.0C252.6 473.5 252.7 474.2 252.8 474.9C252.9 475.5 252.8 476.2 252.9 476.9C253.0 477.5 253.2 478.3 253.2 479.0C253.2 479.7 253.0 480.5 252.8 481.0C252.5 481.5 252.0 481.8 251.6 482.2C251.3 482.6 251.0 482.9 250.6 483.4C250.3 483.8 249.9 484.3 249.5 484.7C249.1 485.1 248.6 485.4 248.3 485.8C248.0 486.3 247.8 486.8 247.6 487.2C247.3 487.6 247.1 488.0 246.7 488.2C246.4 488.4 245.9 488.4 245.4 488.4C245.0 488.5 244.6 488.6 244.2 488.7C243.8 488.7 243.5 488.7 243.2 488.6C242.9 488.5 242.6 488.2 242.3 487.9C242.0 487.6 241.7 487.4 241.5 487.0C241.2 486.6 241.0 486.3 240.8 485.6C240.5 484.9 240.4 483.9 240.2 482.9C240.0 481.9 239.7 481.0 239.5 479.6C239.4 478.3 239.0 476.5 239.0 475.0C239.1 473.6 239.5 472.1 239.9 471.2Z" fill="#fff" stroke="#000" stroke-width="0.9"/>
<path d="M240.6 472.1C241.0 471.4 241.2 471.0 241.6 470.5C242.0 470.1 242.4 469.8 242.9 469.6C243.4 469.4 243.9 469.5 244.4 469.4C245.0 469.4 245.5 469.4 246.0 469.4C246.6 469.5 247.2 469.6 247.7 469.8C248.2 470.1 248.6 470.6 249.1 470.9C249.5 471.3 250.0 471.6 250.4 472.0C250.9 472.4 251.5 472.8 251.8 473.3C252.1 473.8 252.2 474.4 252.3 475.0C252.4 475.6 252.5 476.2 252.5 476.9C252.6 477.5 252.6 478.2 252.5 478.8C252.3 479.4 251.9 480.0 251.6 480.5C251.3 480.9 251.0 481.2 250.8 481.6C250.5 482.0 250.4 482.4 250.1 482.8C249.9 483.3 249.4 483.6 249.1 484.0C248.7 484.4 248.3 484.7 248.0 485.1C247.7 485.5 247.6 486.1 247.3 486.4C247.1 486.7 246.8 486.8 246.5 486.9C246.2 487.1 245.7 487.1 245.4 487.2C245.0 487.3 244.6 487.5 244.3 487.6C243.9 487.6 243.7 487.4 243.4 487.3C243.1 487.1 242.9 486.8 242.6 486.6C242.3 486.4 242.0 486.4 241.8 486.1C241.6 485.8 241.3 485.5 241.1 484.9C240.9 484.3 240.7 483.4 240.5 482.5C240.2 481.6 239.8 480.8 239.7 479.6C239.5 478.4 239.5 476.5 239.7 475.3C239.8 474.0 240.3 472.9 240.6 472.1Z" fill="#fff" stroke="#000" stroke-width="0.9"/>
<path d="M240.8 472.4C241.1 471.6 241.4 471.3 241.8 471.0C242.2 470.7 242.7 470.7 243.1 470.5C243.6 470.4 244.0 470.3 244.5 470.2C244.9 470.1 245.4 470.0 245.9 470.1C246.4 470.1 247.0 470.3 247.4 470.5C247.9 470.8 248.3 471.1 248.7 471.5C249.1 471.9 249.4 472.3 249.8 472.6C250.1 473.0 250.5 473.4 250.8 473.8C251.1 474.3 251.3 474.7 251.5 475.3C251.6 475.8 251.5 476.4 251.6 476.9C251.6 477.5 251.5 478.1 251.5 478.6C251.5 479.2 251.5 479.8 251.3 480.3C251.2 480.8 251.0 481.2 250.7 481.5C250.4 481.8 250.0 482.0 249.6 482.3C249.3 482.6 248.9 482.8 248.5 483.1C248.2 483.4 247.9 483.8 247.6 484.1C247.3 484.4 247.2 484.7 246.9 484.9C246.7 485.1 246.5 485.2 246.2 485.4C246.0 485.6 245.6 485.8 245.3 486.0C245.0 486.2 244.6 486.6 244.3 486.6C244.0 486.7 243.7 486.7 243.5 486.6C243.2 486.4 243.0 486.1 242.8 485.8C242.6 485.5 242.4 485.2 242.2 484.9C242.0 484.6 241.8 484.3 241.6 483.8C241.4 483.3 241.1 482.7 240.9 482.0C240.7 481.2 240.4 480.4 240.3 479.3C240.2 478.2 240.2 476.7 240.3 475.5C240.3 474.4 240.6 473.1 240.8 472.4Z" fill="#fff" stroke="#000" stroke-width="0.9"/>
<path d="M241.2 472.8C241.5 472.3 242.0 472.4 242.4 472.2C242.7 472.0 243.1 471.8 243.4 471.6C243.8 471.4 244.1 471.0 244.5 470.9C244.9 470.8 245.4 470.9 245.8 470.9C246.2 471.0 246.7 471.2 247.1 471.4C247.5 471.6 248.0 471.7 248.3 472.0C248.7 472.3 248.9 472.8 249.2 473.1C249.5 473.5 249.8 473.9 250.1 474.2C250.4 474.6 250.8 474.9 251.0 475.4C251.2 475.8 251.1 476.4 251.1 476.9C251.0 477.4 250.7 478.0 250.6 478.4C250.5 478.9 250.4 479.4 250.2 479.8C250.1 480.2 249.8 480.4 249.6 480.7C249.4 481.0 249.2 481.3 249.0 481.6C248.8 482.0 248.6 482.6 248.4 482.9C248.1 483.2 247.7 483.4 247.4 483.6C247.1 483.7 246.8 483.6 246.6 483.8C246.4 483.9 246.3 484.2 246.1 484.4C245.8 484.6 245.5 484.8 245.2 484.9C245.0 485.1 244.7 485.1 244.4 485.2C244.1 485.2 243.9 485.3 243.7 485.3C243.4 485.2 243.2 485.0 243.0 484.7C242.9 484.4 242.8 483.9 242.6 483.6C242.5 483.3 242.3 483.1 242.1 482.8C241.9 482.5 241.5 482.2 241.2 481.6C240.9 481.0 240.5 480.3 240.4 479.3C240.2 478.2 240.1 476.6 240.2 475.5C240.3 474.4 240.8 473.4 241.2 472.8Z" fill="#fff" stroke="#000" stroke-width="0.7"/>
<path d="M242.2 474.0C242.5 473.7 242.8 473.7 243.0 473.5C243.3 473.3 243.5 473.0 243.7 472.8C244.0 472.6 244.3 472.3 244.6 472.3C244.9 472.2 245.2 472.4 245.5 472.5C245.8 472.6 246.1 472.9 246.4 473.1C246.7 473.3 247.0 473.4 247.3 473.5C247.6 473.7 247.9 473.8 248.2 474.1C248.5 474.3 248.7 474.6 248.9 474.9C249.1 475.2 249.2 475.5 249.3 475.9C249.4 476.2 249.5 476.6 249.5 477.0C249.4 477.4 249.3 477.8 249.2 478.1C249.1 478.5 248.8 478.8 248.7 479.0C248.5 479.3 248.4 479.5 248.3 479.8C248.2 480.1 248.2 480.4 248.1 480.7C248.0 481.0 247.7 481.3 247.5 481.5C247.2 481.7 246.9 481.6 246.6 481.7C246.4 481.7 246.2 481.6 246.0 481.7C245.9 481.8 245.8 482.0 245.7 482.2C245.5 482.4 245.3 482.7 245.1 482.8C244.9 482.9 244.7 482.9 244.5 482.9C244.3 482.9 244.2 482.7 244.0 482.6C243.9 482.5 243.7 482.4 243.6 482.2C243.5 482.1 243.4 482.0 243.2 481.9C243.1 481.7 243.0 481.6 242.8 481.3C242.6 481.1 242.4 480.9 242.1 480.5C241.8 480.1 241.2 479.7 241.0 479.0C240.8 478.2 240.8 476.6 241.0 475.8C241.2 475.0 241.9 474.4 242.2 474.0Z" fill="#fff" stroke="#000" stroke-width="0.7"/>
<path d="M242.9 474.9C243.1 474.6 243.3 474.6 243.5 474.5C243.7 474.4 243.9 474.3 244.1 474.3C244.3 474.2 244.5 474.2 244.7 474.2C244.9 474.2 245.1 474.2 245.3 474.2C245.5 474.3 245.7 474.3 245.9 474.4C246.1 474.5 246.3 474.6 246.5 474.7C246.7 474.8 246.9 475.0 247.0 475.2C247.2 475.3 247.3 475.5 247.4 475.7C247.5 475.9 247.6 476.1 247.7 476.4C247.7 476.6 247.8 476.8 247.8 477.1C247.8 477.3 247.8 477.6 247.7 477.8C247.7 478.1 247.6 478.3 247.5 478.5C247.4 478.7 247.3 478.8 247.2 479.0C247.1 479.1 247.0 479.3 246.9 479.4C246.7 479.5 246.5 479.6 246.4 479.7C246.2 479.8 246.1 479.9 245.9 480.0C245.8 480.0 245.7 480.1 245.6 480.1C245.5 480.1 245.4 480.1 245.3 480.2C245.2 480.2 245.1 480.2 245.0 480.2C244.9 480.2 244.7 480.2 244.6 480.2C244.5 480.2 244.5 480.2 244.4 480.2C244.3 480.2 244.2 480.1 244.1 480.1C244.0 480.1 243.9 480.1 243.8 480.0C243.7 480.0 243.7 480.0 243.5 479.9C243.3 479.8 243.1 479.8 242.9 479.5C242.7 479.3 242.2 479.0 242.1 478.5C241.9 477.9 241.9 476.7 242.0 476.2C242.1 475.6 242.6 475.2 242.9 474.9Z" fill="#fff" stroke="#000" stroke-width="0.7"/>
</g>
<rect x="233.9" y="435.4" width="83.49999999999997" height="83.5" fill="none" stroke="#000" stroke-width="2.1"/>
<line x1="229.9" y1="435.4" x2="233.9" y2="435.4" stroke="#000" stroke-width="1.3"/>
<line x1="229.9" y1="456" x2="233.9" y2="456" stroke="#000" stroke-width="1.3"/>
<line x1="229.9" y1="476.8" x2="233.9" y2="476.8" stroke="#000" stroke-width="1.3"/>
<line x1="229.9" y1="497.5" x2="233.9" y2="497.5" stroke="#000" stroke-width="1.3"/>
<line x1="229.9" y1="518.9" x2="233.9" y2="518.9" stroke="#000" stroke-width="1.3"/>
<line x1="233.9" y1="518.9" x2="233.9" y2="523.1" stroke="#000" stroke-width="1.3"/>
<line x1="254.6" y1="518.9" x2="254.6" y2="523.1" stroke="#000" stroke-width="1.3"/>
<line x1="275.4" y1="518.9" x2="275.4" y2="523.1" stroke="#000" stroke-width="1.3"/>
<line x1="296.5" y1="518.9" x2="296.5" y2="523.1" stroke="#000" stroke-width="1.3"/>
<line x1="317.4" y1="518.9" x2="317.4" y2="523.1" stroke="#000" stroke-width="1.3"/>
<text transform="translate(232.2,475.5) rotate(-90)" text-anchor="middle" font-family="Liberation Serif, serif" font-weight="bold" font-size="15.5" stroke="#000" stroke-width="0.2" textLength="49.8" lengthAdjust="spacingAndGlyphs">IL7-R<tspan font-style="italic">α</tspan></text>
<clipPath id="c9"><rect x="334.1" y="436" width="82.79999999999995" height="82.89999999999998"/></clipPath>
<g clip-path="url(#c9)">
<path d="M358.9 500.2C359.7 499.4 360.4 499.5 361.2 499.2C362.0 499.0 362.8 499.2 363.6 498.8C364.4 498.4 365.2 497.6 365.9 496.9C366.5 496.3 367.3 495.5 367.7 494.8C368.1 494.1 368.1 493.2 368.3 492.6C368.6 492.1 368.6 491.4 369.0 491.4C369.4 491.4 370.0 492.2 370.7 492.8C371.4 493.3 372.1 494.3 373.1 494.8C374.1 495.3 375.3 495.5 376.5 495.8C377.6 496.1 378.8 496.4 379.8 496.8C380.8 497.2 381.5 497.7 382.2 498.3C382.8 498.9 383.4 499.5 383.8 500.2C384.2 500.9 384.5 501.9 384.6 502.8C384.7 503.7 384.7 504.7 384.5 505.6C384.3 506.5 383.9 507.4 383.4 508.3C383.0 509.2 382.3 510.0 381.8 511.0C381.3 512.0 380.8 513.2 380.2 514.1C379.7 515.0 379.1 516.0 378.5 516.3C377.9 516.6 377.2 516.1 376.5 515.9C375.8 515.7 375.1 515.1 374.4 515.0C373.7 514.9 373.1 515.4 372.5 515.6C371.8 515.8 371.2 516.1 370.4 516.3C369.6 516.5 368.6 516.5 367.7 516.5C366.8 516.5 365.9 516.5 365.0 516.3C364.1 516.1 363.4 515.7 362.6 515.3C361.8 514.8 361.2 514.3 360.3 513.6C359.4 512.9 358.2 512.2 357.5 511.3C356.7 510.4 355.7 509.5 355.6 508.3C355.5 507.1 356.1 505.4 356.7 504.0C357.2 502.7 358.1 501.0 358.9 500.2Z" fill="#fff" stroke="#000" stroke-width="0.7"/>
<path d="M362.5 501.3C363.1 500.7 363.9 500.9 364.6 500.8C365.3 500.6 366.1 500.9 366.7 500.7C367.3 500.4 367.8 499.8 368.2 499.3C368.6 498.8 368.9 498.0 369.2 497.4C369.4 496.8 369.4 496.0 369.6 495.6C369.8 495.2 369.9 494.9 370.2 495.0C370.5 495.1 371.0 495.9 371.5 496.3C372.0 496.8 372.5 497.5 373.2 497.8C373.8 498.2 374.7 498.2 375.5 498.3C376.4 498.5 377.4 498.6 378.1 498.8C378.8 499.1 379.4 499.5 379.9 499.9C380.4 500.3 380.8 500.8 381.1 501.3C381.4 501.9 381.6 502.6 381.6 503.3C381.7 503.9 381.6 504.7 381.5 505.3C381.3 506.0 380.9 506.6 380.5 507.3C380.2 507.9 379.7 508.5 379.4 509.2C379.0 509.9 378.7 510.8 378.3 511.5C378.0 512.2 377.6 513.0 377.1 513.3C376.7 513.5 376.2 513.2 375.7 513.0C375.1 512.7 374.6 512.1 374.1 511.9C373.6 511.8 373.2 511.9 372.7 512.0C372.3 512.1 371.9 512.4 371.3 512.7C370.7 512.9 369.9 513.2 369.2 513.4C368.5 513.5 367.7 513.6 367.1 513.4C366.5 513.2 366.0 512.8 365.6 512.3C365.1 511.9 364.9 511.3 364.4 510.7C363.9 510.2 363.2 509.7 362.6 509.1C362.0 508.5 361.1 508.0 360.8 507.2C360.5 506.4 360.6 505.1 360.9 504.2C361.1 503.2 361.8 501.9 362.5 501.3Z" fill="#fff" stroke="#000" stroke-width="0.7"/>
<path d="M366.5 502.5C366.8 502.2 367.3 502.2 367.8 502.1C368.2 502.1 368.9 502.4 369.3 502.2C369.7 502.1 369.9 501.7 370.1 501.3C370.4 501.0 370.6 500.5 370.8 500.2C370.9 499.9 371.0 499.6 371.2 499.4C371.3 499.2 371.3 498.9 371.4 498.8C371.6 498.8 371.8 498.9 372.1 499.2C372.4 499.5 372.8 500.3 373.2 500.6C373.6 500.9 374.0 501.1 374.6 501.1C375.1 501.2 375.8 500.9 376.4 500.9C376.9 501.0 377.4 501.2 377.7 501.5C378.0 501.7 378.1 502.1 378.3 502.5C378.5 502.9 378.7 503.3 378.7 503.7C378.8 504.1 378.7 504.7 378.5 505.1C378.3 505.5 377.8 505.8 377.6 506.2C377.3 506.6 377.3 507.0 377.1 507.5C377.0 508.0 376.9 508.8 376.7 509.2C376.4 509.6 376.0 509.8 375.6 509.9C375.3 509.9 375.0 509.5 374.6 509.4C374.3 509.2 374.1 509.1 373.8 509.1C373.5 509.0 373.2 509.1 373.0 509.1C372.7 509.1 372.5 509.2 372.1 509.3C371.8 509.5 371.2 509.9 370.8 510.0C370.4 510.1 369.8 510.1 369.5 510.0C369.2 509.8 369.1 509.3 368.9 509.0C368.7 508.7 368.5 508.4 368.1 508.2C367.8 507.9 367.1 507.7 366.8 507.4C366.4 507.0 366.1 506.6 366.0 506.1C365.9 505.6 366.0 504.9 366.1 504.3C366.1 503.7 366.2 502.9 366.5 502.5Z" fill="#fff" stroke="#000" stroke-width="0.7"/>
<path d="M371.1 503.9C371.2 503.8 371.2 503.8 371.3 503.7C371.3 503.6 371.4 503.6 371.5 503.5C371.6 503.4 371.8 503.3 371.9 503.2C372.1 503.1 372.3 503.1 372.4 503.0C372.5 503.0 372.6 503.0 372.6 503.0C372.7 503.0 372.7 503.0 372.8 502.9C372.8 502.9 372.8 502.9 372.9 502.9C373.0 502.9 373.1 502.9 373.3 502.9C373.4 502.9 373.7 502.9 373.9 503.0C374.1 503.0 374.3 503.1 374.5 503.1C374.7 503.2 374.9 503.3 375.0 503.4C375.1 503.5 375.3 503.6 375.4 503.7C375.5 503.9 375.6 504.0 375.6 504.2C375.7 504.4 375.7 504.6 375.7 504.8C375.6 505.0 375.6 505.2 375.4 505.4C375.3 505.6 375.1 505.7 374.9 505.8C374.8 506.0 374.6 506.0 374.4 506.1C374.3 506.2 374.1 506.2 374.0 506.2C373.9 506.2 373.9 506.3 373.8 506.3C373.7 506.3 373.6 506.3 373.5 506.3C373.4 506.3 373.3 506.3 373.2 506.3C373.1 506.3 373.0 506.3 372.9 506.3C372.8 506.3 372.7 506.2 372.5 506.2C372.4 506.2 372.3 506.2 372.2 506.1C372.1 506.1 372.0 506.0 371.9 506.0C371.8 505.9 371.7 505.9 371.6 505.8C371.5 505.7 371.3 505.6 371.2 505.5C371.1 505.4 371.1 505.2 371.0 505.1C370.9 504.9 370.9 504.7 370.9 504.5C370.9 504.3 371.0 504.1 371.1 503.9Z" fill="#fff" stroke="#000" stroke-width="0.7"/>
<path d="M335.4 497.5C336.0 496.3 336.9 495.6 337.8 494.8C338.6 494.0 339.7 493.5 340.8 492.8C341.9 492.1 343.0 491.2 344.1 490.6C345.2 490.1 346.3 489.5 347.5 489.4C348.7 489.3 349.9 489.7 351.0 490.2C352.1 490.6 353.3 491.4 354.2 492.1C355.1 492.8 356.0 493.5 356.7 494.4C357.3 495.3 358.0 496.2 358.3 497.5C358.6 498.8 358.7 500.5 358.7 502.0C358.7 503.6 358.6 505.4 358.5 506.9C358.4 508.4 358.3 510.0 358.2 511.3C358.0 512.7 357.7 514.0 357.6 515.0C357.5 516.0 357.6 516.6 357.3 517.2C357.0 517.7 356.8 518.1 355.6 518.4C354.4 518.7 351.9 518.9 349.9 519.0C347.9 519.1 345.4 518.9 343.5 519.0C341.6 519.1 340.1 519.6 338.8 519.5C337.4 519.4 336.1 519.4 335.4 518.4C334.7 517.4 334.5 515.1 334.3 513.2C334.1 511.3 334.3 508.8 334.3 506.9C334.3 505.0 334.3 503.3 334.4 501.8C334.6 500.2 334.8 498.7 335.4 497.5Z" fill="#fff" stroke="#000" stroke-width="0.9"/>
<path d="M335.7 497.7C336.2 496.6 337.2 496.0 338.1 495.2C339.0 494.5 340.0 494.0 341.0 493.4C342.1 492.8 343.2 492.2 344.2 491.6C345.3 491.1 346.4 490.1 347.5 490.0C348.6 489.8 349.8 490.2 350.9 490.7C352.0 491.1 353.0 491.9 353.9 492.6C354.8 493.3 355.7 493.9 356.2 494.8C356.8 495.8 357.1 496.9 357.5 498.1C357.8 499.3 358.1 500.7 358.2 502.2C358.3 503.7 358.1 505.4 358.0 506.9C358.0 508.4 358.0 509.9 357.9 511.2C357.8 512.5 357.5 513.8 357.2 514.7C357.0 515.6 356.9 515.9 356.6 516.4C356.2 517.0 356.3 517.5 355.2 517.8C354.0 518.1 351.7 518.2 349.8 518.3C347.8 518.5 345.4 518.6 343.6 518.7C341.8 518.9 340.2 519.3 339.0 519.1C337.7 518.9 336.7 518.7 336.0 517.7C335.3 516.7 335.0 514.6 334.9 512.8C334.7 511.0 335.1 508.7 335.1 506.8C335.1 505.0 334.7 503.4 334.8 501.9C334.9 500.4 335.1 498.8 335.7 497.7Z" fill="#fff" stroke="#000" stroke-width="0.9"/>
<path d="M336.2 498.1C336.6 497.0 337.4 496.1 338.2 495.4C339.1 494.7 340.2 494.4 341.3 493.9C342.3 493.3 343.3 492.7 344.3 492.2C345.3 491.7 346.3 491.0 347.4 490.9C348.5 490.7 349.6 491.0 350.7 491.4C351.7 491.8 352.7 492.5 353.6 493.2C354.5 493.8 355.2 494.5 355.8 495.3C356.4 496.1 357.0 497.0 357.3 498.2C357.6 499.4 357.5 501.0 357.4 502.4C357.4 503.8 357.2 505.4 357.2 506.8C357.2 508.2 357.4 509.6 357.3 510.9C357.3 512.2 357.1 513.6 356.9 514.4C356.8 515.3 356.7 515.7 356.3 516.2C355.9 516.6 355.7 516.8 354.6 517.0C353.5 517.3 351.4 517.6 349.6 517.8C347.8 518.0 345.4 518.0 343.7 518.1C342.0 518.2 340.6 518.5 339.4 518.4C338.1 518.3 337.0 518.3 336.3 517.3C335.6 516.4 335.4 514.3 335.3 512.6C335.2 510.8 335.5 508.5 335.5 506.8C335.6 505.1 335.6 503.6 335.7 502.2C335.8 500.8 335.8 499.2 336.2 498.1Z" fill="#fff" stroke="#000" stroke-width="0.9"/>
<path d="M336.8 498.6C337.3 497.6 338.2 497.0 339.0 496.3C339.8 495.7 340.7 495.3 341.6 494.6C342.5 493.9 343.3 492.8 344.3 492.2C345.3 491.7 346.3 491.4 347.4 491.3C348.4 491.3 349.5 491.6 350.5 492.0C351.4 492.5 352.3 493.3 353.1 494.0C353.9 494.7 354.5 495.4 355.1 496.1C355.7 496.9 356.5 497.5 356.8 498.5C357.2 499.6 357.1 501.1 357.2 502.5C357.3 503.9 357.4 505.4 357.3 506.8C357.2 508.1 356.8 509.4 356.6 510.6C356.4 511.7 356.0 512.8 355.9 513.6C355.8 514.5 356.1 515.1 355.8 515.7C355.6 516.2 355.4 516.4 354.4 516.8C353.4 517.1 351.4 517.6 349.6 517.8C347.9 517.9 345.5 517.5 343.8 517.5C342.2 517.4 341.0 517.7 339.8 517.6C338.7 517.4 337.6 517.5 337.0 516.6C336.3 515.7 336.2 513.8 336.0 512.2C335.7 510.5 335.5 508.4 335.5 506.8C335.5 505.1 335.7 503.6 335.9 502.3C336.1 500.9 336.3 499.6 336.8 498.6Z" fill="#fff" stroke="#000" stroke-width="0.9"/>
<path d="M337.5 499.1C338.0 498.2 338.6 497.5 339.3 496.7C340.0 496.0 340.7 495.3 341.6 494.6C342.4 494.0 343.5 493.2 344.4 492.8C345.4 492.4 346.3 492.2 347.3 492.3C348.3 492.4 349.2 492.8 350.1 493.1C351.1 493.5 352.1 493.9 352.9 494.5C353.7 495.0 354.4 495.5 355.0 496.3C355.5 497.0 356.0 497.8 356.3 498.9C356.6 500.0 356.7 501.3 356.7 502.6C356.7 504.0 356.5 505.4 356.4 506.7C356.3 508.0 356.0 509.2 355.9 510.2C355.7 511.3 355.6 512.4 355.5 513.3C355.5 514.2 355.8 514.9 355.6 515.4C355.4 515.9 355.2 516.3 354.2 516.5C353.1 516.7 351.0 516.7 349.3 516.7C347.6 516.7 345.6 516.6 344.0 516.6C342.5 516.7 341.2 517.2 340.1 517.1C338.9 517.1 337.9 517.1 337.3 516.3C336.6 515.4 336.5 513.6 336.3 512.0C336.1 510.4 336.2 508.3 336.3 506.7C336.3 505.1 336.3 503.7 336.5 502.5C336.7 501.2 337.1 500.1 337.5 499.1Z" fill="#fff" stroke="#000" stroke-width="0.9"/>
<path d="M337.9 499.4C338.3 498.5 338.9 497.8 339.6 497.1C340.3 496.4 341.1 496.0 341.9 495.4C342.7 494.8 343.6 494.0 344.5 493.5C345.4 493.1 346.4 492.8 347.3 492.8C348.2 492.9 349.1 493.5 349.9 493.8C350.8 494.2 351.8 494.5 352.6 495.0C353.4 495.4 354.2 495.8 354.7 496.6C355.2 497.3 355.4 498.3 355.6 499.4C355.8 500.4 355.7 501.7 355.8 502.9C355.8 504.2 356.0 505.5 356.0 506.7C356.0 507.9 355.9 509.2 355.8 510.2C355.7 511.3 355.3 512.3 355.2 513.0C355.0 513.8 355.2 514.2 354.9 514.6C354.6 515.1 354.4 515.2 353.5 515.5C352.6 515.8 350.8 516.2 349.2 516.4C347.7 516.6 345.5 516.7 344.0 516.8C342.5 516.8 341.4 516.7 340.4 516.5C339.4 516.3 338.7 516.1 338.1 515.3C337.5 514.5 337.1 513.1 336.8 511.6C336.6 510.2 336.5 508.2 336.6 506.7C336.6 505.2 336.9 503.9 337.1 502.7C337.3 501.5 337.5 500.3 337.9 499.4Z" fill="#fff" stroke="#000" stroke-width="0.9"/>
<path d="M338.2 499.6C338.6 498.7 339.2 498.1 339.9 497.5C340.6 497.0 341.5 496.8 342.3 496.3C343.1 495.8 343.8 495.0 344.7 494.5C345.5 494.0 346.4 493.2 347.2 493.2C348.1 493.1 349.1 493.5 349.9 494.0C350.7 494.4 351.5 495.1 352.1 495.7C352.8 496.3 353.4 496.7 353.9 497.4C354.4 498.1 354.8 498.8 355.0 499.8C355.3 500.7 355.3 501.9 355.5 503.0C355.6 504.2 355.8 505.5 355.8 506.7C355.7 507.8 355.5 509.0 355.3 510.0C355.1 510.9 354.6 511.7 354.5 512.4C354.3 513.1 354.5 513.6 354.3 514.1C354.1 514.5 354.1 514.8 353.2 515.2C352.4 515.5 350.6 515.7 349.1 515.9C347.6 516.0 345.5 516.1 344.1 516.2C342.7 516.2 341.6 516.3 340.7 516.1C339.7 515.8 339.1 515.6 338.6 514.8C338.1 514.0 337.8 512.5 337.6 511.2C337.4 509.8 337.2 508.0 337.2 506.6C337.2 505.2 337.2 503.9 337.4 502.8C337.6 501.6 337.7 500.5 338.2 499.6Z" fill="#fff" stroke="#000" stroke-width="0.9"/>
<path d="M338.5 499.8C338.9 499.0 339.7 498.6 340.3 498.0C341.0 497.5 341.7 497.0 342.4 496.6C343.2 496.1 344.0 495.5 344.8 495.2C345.6 494.8 346.3 494.5 347.2 494.4C348.0 494.3 348.9 494.3 349.7 494.5C350.5 494.8 351.4 495.4 352.0 495.9C352.6 496.5 353.0 497.3 353.4 498.0C353.8 498.7 354.2 499.3 354.5 500.2C354.7 501.0 354.9 502.1 354.9 503.2C355.0 504.3 354.9 505.5 354.8 506.6C354.8 507.7 354.9 508.8 354.9 509.8C354.8 510.7 354.6 511.7 354.4 512.4C354.2 513.0 354.1 513.2 353.8 513.5C353.5 513.8 353.4 514.0 352.7 514.4C351.9 514.7 350.4 515.2 349.0 515.4C347.6 515.6 345.6 515.5 344.3 515.5C342.9 515.5 341.9 515.7 341.0 515.5C340.1 515.3 339.2 515.4 338.7 514.6C338.3 513.8 338.3 512.1 338.2 510.8C338.1 509.5 338.3 507.9 338.2 506.5C338.1 505.2 337.8 504.0 337.8 502.9C337.9 501.8 338.1 500.7 338.5 499.8Z" fill="#fff" stroke="#000" stroke-width="0.9"/>
<path d="M339.3 500.5C339.6 499.7 340.0 498.9 340.5 498.3C341.0 497.7 341.9 497.4 342.6 496.9C343.3 496.5 344.0 495.7 344.8 495.4C345.6 495.1 346.4 495.1 347.1 495.1C347.9 495.2 348.6 495.4 349.4 495.7C350.1 496.0 350.9 496.3 351.6 496.7C352.2 497.1 352.7 497.7 353.1 498.3C353.6 498.9 354.2 499.4 354.4 500.2C354.6 501.1 354.4 502.3 354.3 503.4C354.3 504.4 354.2 505.5 354.1 506.5C354.1 507.5 354.1 508.5 354.1 509.4C354.0 510.3 353.8 511.1 353.7 511.8C353.7 512.5 354.0 513.1 353.8 513.5C353.5 513.8 353.2 513.8 352.4 514.0C351.6 514.2 350.1 514.6 348.8 514.7C347.5 514.8 345.7 514.7 344.5 514.7C343.2 514.7 342.3 514.8 341.4 514.7C340.5 514.6 339.6 514.9 339.1 514.2C338.6 513.5 338.6 511.9 338.5 510.6C338.4 509.4 338.3 507.8 338.4 506.5C338.5 505.3 338.6 504.3 338.8 503.2C339.0 502.2 339.1 501.3 339.3 500.5Z" fill="#fff" stroke="#000" stroke-width="0.9"/>
<path d="M339.4 500.5C339.7 499.8 340.4 499.4 341.0 499.0C341.6 498.5 342.4 498.4 343.0 497.9C343.7 497.5 344.2 496.7 344.9 496.2C345.6 495.7 346.4 495.2 347.1 495.2C347.8 495.1 348.6 495.7 349.3 496.1C349.9 496.5 350.5 497.2 351.0 497.7C351.6 498.1 352.1 498.4 352.6 498.9C353.1 499.4 353.6 499.8 353.9 500.6C354.1 501.4 354.0 502.5 354.0 503.5C354.0 504.5 353.7 505.5 353.6 506.5C353.6 507.4 353.6 508.3 353.5 509.1C353.5 510.0 353.4 510.9 353.3 511.5C353.2 512.1 353.3 512.4 353.1 512.8C352.9 513.1 352.8 513.3 352.0 513.5C351.3 513.8 349.9 514.1 348.7 514.2C347.4 514.3 345.7 514.2 344.5 514.2C343.4 514.2 342.5 514.4 341.6 514.3C340.8 514.2 340.1 514.2 339.6 513.5C339.2 512.9 339.2 511.4 339.1 510.2C339.0 509.1 339.3 507.6 339.3 506.4C339.2 505.3 339.0 504.3 339.0 503.3C339.0 502.3 339.0 501.2 339.4 500.5Z" fill="#fff" stroke="#000" stroke-width="0.9"/>
<path d="M340.1 501.1C340.4 500.3 340.8 499.8 341.3 499.3C341.8 498.8 342.4 498.4 343.0 498.0C343.7 497.6 344.3 497.0 345.0 496.7C345.7 496.3 346.4 496.0 347.1 496.0C347.7 496.1 348.4 496.5 349.0 496.9C349.6 497.3 350.2 497.9 350.7 498.3C351.2 498.7 351.7 499.0 352.1 499.4C352.5 499.9 353.0 500.3 353.2 501.0C353.5 501.7 353.5 502.7 353.5 503.6C353.6 504.5 353.5 505.5 353.5 506.4C353.4 507.3 353.4 508.3 353.3 509.0C353.2 509.8 352.9 510.5 352.7 511.0C352.6 511.5 352.5 511.6 352.3 511.9C352.1 512.2 352.1 512.4 351.5 512.7C350.9 513.1 349.7 513.7 348.6 513.9C347.4 514.1 345.7 514.0 344.6 514.0C343.5 514.0 342.7 513.9 342.0 513.7C341.2 513.6 340.6 513.6 340.1 513.0C339.7 512.4 339.5 511.1 339.5 510.0C339.4 508.9 339.7 507.5 339.8 506.4C339.8 505.3 339.8 504.5 339.9 503.6C340.0 502.7 339.9 501.8 340.1 501.1Z" fill="#fff" stroke="#000" stroke-width="0.9"/>
<path d="M341.1 501.8C341.3 501.2 341.9 500.9 342.3 500.6C342.8 500.3 343.3 500.2 343.8 499.8C344.3 499.5 344.8 498.9 345.3 498.6C345.8 498.2 346.4 498.0 346.9 497.9C347.5 497.9 348.1 498.2 348.6 498.5C349.1 498.7 349.6 499.1 350.0 499.5C350.4 499.9 350.6 500.4 350.9 500.8C351.1 501.3 351.3 501.7 351.6 502.2C351.8 502.7 352.2 503.3 352.3 504.0C352.3 504.7 352.2 505.6 352.0 506.3C351.9 507.0 351.5 507.5 351.4 508.1C351.3 508.7 351.3 509.4 351.4 509.9C351.4 510.4 351.6 510.8 351.4 511.0C351.3 511.3 351.1 511.3 350.6 511.5C350.0 511.7 349.1 512.1 348.1 512.2C347.2 512.3 345.8 512.4 345.0 512.3C344.1 512.3 343.5 512.2 342.9 512.0C342.3 511.9 341.8 511.9 341.5 511.4C341.1 511.0 340.9 510.0 340.9 509.2C340.9 508.3 341.2 507.1 341.2 506.3C341.2 505.4 341.1 504.8 341.1 504.0C341.1 503.3 340.9 502.4 341.1 501.8Z" fill="#fff" stroke="#000" stroke-width="0.7"/>
<path d="M342.4 502.8C342.6 502.4 343.2 502.4 343.5 502.1C343.8 501.8 344.1 501.6 344.4 501.2C344.8 500.9 345.1 500.3 345.5 500.1C345.9 499.8 346.4 499.8 346.8 499.8C347.2 499.9 347.6 500.1 348.0 500.3C348.4 500.6 348.7 500.9 349.0 501.2C349.3 501.5 349.4 501.9 349.6 502.2C349.9 502.5 350.2 502.7 350.3 503.0C350.5 503.4 350.8 503.9 350.8 504.4C350.8 505.0 350.5 505.6 350.3 506.2C350.2 506.7 350.1 507.0 350.0 507.5C350.0 508.0 350.2 508.6 350.2 509.0C350.3 509.3 350.2 509.5 350.1 509.6C349.9 509.8 349.8 509.7 349.4 509.9C349.0 510.1 348.4 510.6 347.7 510.8C347.1 511.0 345.9 511.0 345.3 511.0C344.6 511.0 344.2 510.7 343.8 510.5C343.3 510.4 343.0 510.3 342.8 509.9C342.6 509.5 342.6 508.8 342.5 508.2C342.5 507.5 342.7 506.8 342.6 506.1C342.6 505.5 342.2 504.9 342.2 504.4C342.2 503.8 342.2 503.2 342.4 502.8Z" fill="#fff" stroke="#000" stroke-width="0.7"/>
<path d="M344.0 504.0C344.1 503.7 344.2 503.5 344.4 503.2C344.5 502.9 344.7 502.6 344.9 502.4C345.2 502.2 345.5 502.0 345.8 501.9C346.1 501.8 346.4 501.8 346.7 501.8C346.9 501.9 347.2 502.0 347.5 502.1C347.7 502.3 348.0 502.5 348.1 502.7C348.3 503.0 348.4 503.2 348.6 503.4C348.7 503.6 348.8 503.8 348.8 504.1C348.9 504.4 349.0 504.7 349.0 505.0C349.1 505.3 349.1 505.7 349.1 506.0C349.1 506.4 349.0 506.7 349.0 507.0C348.9 507.3 348.8 507.6 348.8 507.7C348.7 507.9 348.7 508.0 348.6 508.1C348.5 508.2 348.6 508.3 348.4 508.5C348.2 508.8 347.9 509.3 347.4 509.5C346.9 509.7 346.0 509.7 345.6 509.6C345.1 509.5 344.9 509.1 344.7 508.9C344.5 508.7 344.4 508.5 344.3 508.2C344.1 508.0 344.0 507.7 343.9 507.3C343.8 507.0 343.7 506.4 343.7 506.0C343.7 505.6 343.7 505.3 343.8 504.9C343.8 504.6 343.9 504.3 344.0 504.0Z" fill="#fff" stroke="#000" stroke-width="0.7"/>
</g>
<rect x="334.1" y="436" width="82.79999999999995" height="82.89999999999998" fill="none" stroke="#000" stroke-width="2.1"/>
<line x1="330.1" y1="436" x2="334.1" y2="436" stroke="#000" stroke-width="1.3"/>
<line x1="330.1" y1="456.8" x2="334.1" y2="456.8" stroke="#000" stroke-width="1.3"/>
<line x1="330.1" y1="477.6" x2="334.1" y2="477.6" stroke="#000" stroke-width="1.3"/>
<line x1="330.1" y1="498.5" x2="334.1" y2="498.5" stroke="#000" stroke-width="1.3"/>
<line x1="330.1" y1="518.9" x2="334.1" y2="518.9" stroke="#000" stroke-width="1.3"/>
<line x1="334.1" y1="518.9" x2="334.1" y2="523.1" stroke="#000" stroke-width="1.3"/>
<line x1="354.4" y1="518.9" x2="354.4" y2="523.1" stroke="#000" stroke-width="1.3"/>
<line x1="375.2" y1="518.9" x2="375.2" y2="523.1" stroke="#000" stroke-width="1.3"/>
<line x1="396" y1="518.9" x2="396" y2="523.1" stroke="#000" stroke-width="1.3"/>
<line x1="416.9" y1="518.9" x2="416.9" y2="523.1" stroke="#000" stroke-width="1.3"/>
<text transform="translate(331.5,474.8) rotate(-90)" text-anchor="middle" font-family="Liberation Serif, serif" font-weight="bold" font-size="15.5" stroke="#000" stroke-width="0.2" textLength="30" lengthAdjust="spacingAndGlyphs">CD5</text>
<clipPath id="c10"><rect x="433.7" y="436.3" width="83.30000000000001" height="82.69999999999999"/></clipPath>
<g clip-path="url(#c10)">
<path d="M456.8 475.0C457.7 473.8 459.5 473.3 461.1 472.6C462.7 472.0 464.8 471.7 466.3 471.3C467.8 470.9 469.0 470.5 470.3 470.3C471.5 470.0 472.7 469.9 473.8 470.0C474.9 470.1 476.0 470.5 477.1 470.9C478.1 471.3 479.0 471.9 480.0 472.5C481.0 473.1 482.2 473.8 483.0 474.5C483.9 475.2 484.8 476.0 485.0 476.9C485.2 477.8 484.8 478.7 484.4 479.7C484.0 480.6 483.2 481.6 482.5 482.5C481.8 483.4 481.0 484.4 480.2 485.2C479.3 486.1 478.4 486.9 477.5 487.5C476.6 488.1 475.7 488.3 474.9 488.6C474.0 488.9 473.2 489.0 472.5 489.4C471.8 489.8 471.4 490.7 470.9 491.2C470.4 491.7 469.9 492.4 469.4 492.5C468.8 492.6 468.2 492.0 467.6 491.6C466.9 491.2 466.3 490.5 465.6 490.0C464.9 489.5 464.3 489.2 463.5 488.8C462.8 488.4 462.2 487.9 461.3 487.5C460.4 487.1 459.3 486.9 458.4 486.4C457.5 485.9 456.6 485.5 456.1 484.4C455.6 483.3 455.4 481.3 455.5 479.7C455.6 478.2 455.9 476.2 456.8 475.0Z" fill="#fff" stroke="#000" stroke-width="0.7"/>
<path d="M459.1 475.9C459.7 474.9 460.8 474.2 462.0 473.7C463.2 473.2 465.1 472.9 466.3 472.7C467.5 472.5 468.3 472.5 469.3 472.4C470.2 472.4 471.1 472.1 471.9 472.3C472.6 472.4 473.2 472.9 473.9 473.2C474.6 473.6 475.3 473.9 476.1 474.3C476.8 474.7 477.9 475.1 478.5 475.7C479.1 476.2 479.6 476.8 479.8 477.4C480.0 478.1 480.0 478.8 479.8 479.4C479.5 480.1 478.9 480.9 478.3 481.5C477.7 482.2 477.0 482.8 476.3 483.4C475.7 484.1 475.2 484.8 474.5 485.2C473.8 485.5 473.0 485.5 472.3 485.7C471.7 485.9 471.2 486.0 470.7 486.4C470.3 486.8 470.0 487.6 469.7 488.0C469.3 488.4 469.0 488.7 468.6 488.8C468.2 488.9 467.7 488.8 467.3 488.6C466.8 488.3 466.3 487.8 465.8 487.4C465.3 487.0 464.8 486.5 464.3 486.2C463.7 485.8 463.1 485.7 462.5 485.3C461.9 485.0 461.3 484.6 460.7 484.2C460.1 483.8 459.3 483.6 458.9 482.9C458.5 482.1 458.0 480.7 458.0 479.5C458.1 478.4 458.4 476.9 459.1 475.9Z" fill="#fff" stroke="#000" stroke-width="0.7"/>
<path d="M461.7 477.0C462.2 476.3 462.8 475.9 463.5 475.5C464.3 475.1 465.5 474.7 466.3 474.5C467.1 474.3 467.8 474.3 468.4 474.3C469.0 474.2 469.7 474.1 470.1 474.3C470.6 474.5 470.7 475.0 471.1 475.3C471.5 475.6 471.9 475.7 472.4 476.0C472.9 476.3 473.7 476.5 474.1 476.8C474.5 477.1 474.6 477.6 474.6 478.0C474.7 478.4 474.6 478.8 474.4 479.2C474.2 479.6 473.7 480.0 473.4 480.4C473.0 480.8 472.7 481.2 472.4 481.6C472.1 482.1 472.1 482.8 471.8 483.1C471.5 483.4 470.9 483.4 470.4 483.5C470.0 483.6 469.5 483.6 469.2 483.7C468.8 483.9 468.6 484.2 468.4 484.4C468.1 484.6 467.9 484.6 467.6 484.8C467.4 484.9 467.2 485.1 466.9 485.1C466.6 485.0 466.3 484.7 465.9 484.4C465.6 484.2 465.4 483.7 465.0 483.5C464.7 483.2 464.3 483.3 463.8 483.1C463.4 482.9 462.9 482.7 462.4 482.5C462.0 482.3 461.3 482.2 461.0 481.7C460.7 481.2 460.3 480.1 460.4 479.3C460.5 478.5 461.2 477.6 461.7 477.0Z" fill="#fff" stroke="#000" stroke-width="0.7"/>
<path d="M463.6 477.7C463.8 477.3 464.1 477.0 464.6 476.8C465.0 476.5 465.8 476.3 466.3 476.3C466.8 476.3 467.1 476.4 467.4 476.5C467.7 476.5 467.8 476.6 468.0 476.8C468.2 476.9 468.4 477.0 468.5 477.1C468.7 477.3 468.8 477.4 468.9 477.6C469.0 477.7 469.1 477.9 469.2 478.1C469.2 478.2 469.3 478.4 469.3 478.5C469.3 478.6 469.3 478.8 469.3 478.9C469.3 479.1 469.3 479.3 469.2 479.5C469.1 479.6 469.0 479.8 468.9 480.0C468.8 480.2 468.6 480.4 468.5 480.5C468.4 480.6 468.2 480.7 468.1 480.8C467.9 480.9 467.8 481.0 467.6 481.0C467.5 481.1 467.3 481.2 467.2 481.2C467.1 481.2 467.0 481.2 466.9 481.3C466.8 481.3 466.7 481.3 466.5 481.3C466.4 481.3 466.3 481.3 466.1 481.3C466.0 481.3 465.8 481.3 465.6 481.2C465.4 481.2 465.2 481.1 465.0 481.1C464.8 481.0 464.5 480.8 464.3 480.7C464.1 480.5 464.0 480.4 463.8 480.2C463.6 479.9 463.3 479.5 463.3 479.1C463.3 478.7 463.4 478.1 463.6 477.7Z" fill="#fff" stroke="#000" stroke-width="0.7"/>
<circle cx="475.3" cy="480.4" r="1.2" fill="#fff" stroke="#111" stroke-width="0.5"/>
<path d="M435.0 467.3C435.4 465.0 436.0 464.5 436.8 463.8C437.6 463.0 438.5 463.1 439.6 462.7C440.7 462.3 442.3 461.8 443.7 461.6C445.1 461.4 446.7 461.3 448.1 461.4C449.5 461.4 450.9 461.6 452.1 461.9C453.3 462.3 454.6 462.8 455.5 463.5C456.4 464.2 457.2 465.2 457.8 466.4C458.4 467.6 458.8 468.9 459.1 470.5C459.4 472.1 459.4 474.1 459.4 476.1C459.4 478.0 459.2 480.2 459.1 482.1C459.0 484.0 458.8 486.0 458.6 487.7C458.3 489.5 458.0 491.3 457.6 492.7C457.2 494.1 456.7 495.3 456.2 496.3C455.6 497.4 455.1 498.3 454.4 499.0C453.7 499.7 452.9 500.1 452.2 500.6C451.5 501.2 450.7 501.4 450.2 502.2C449.7 503.0 449.4 504.3 449.1 505.2C448.7 506.2 448.5 507.3 448.1 507.9C447.7 508.5 447.0 508.9 446.5 509.0C446.0 509.1 445.3 509.2 444.9 508.6C444.5 508.0 444.3 506.7 444.0 505.6C443.6 504.6 443.4 503.0 442.8 502.2C442.2 501.4 441.1 501.4 440.2 500.9C439.3 500.3 438.3 500.0 437.5 499.0C436.7 498.0 436.1 496.6 435.5 494.9C435.0 493.1 434.5 491.4 434.3 488.5C434.1 485.6 434.0 481.1 434.2 477.5C434.3 474.0 434.6 469.6 435.0 467.3Z" fill="#fff" stroke="#000" stroke-width="0.9"/>
<path d="M435.5 467.7C435.9 465.5 436.3 464.8 437.0 464.0C437.7 463.3 438.6 463.3 439.7 463.0C440.8 462.7 442.4 462.4 443.7 462.2C445.1 462.0 446.6 462.0 447.9 462.1C449.3 462.1 450.6 462.3 451.8 462.6C452.9 462.9 454.1 463.4 455.0 464.1C455.9 464.8 456.6 465.7 457.2 466.8C457.9 467.9 458.4 469.1 458.7 470.6C459.0 472.2 459.0 474.2 459.0 476.1C458.9 477.9 458.5 479.9 458.3 481.7C458.1 483.5 457.9 485.3 457.7 487.0C457.5 488.7 457.4 490.5 457.1 492.0C456.8 493.4 456.3 494.7 455.8 495.7C455.3 496.7 454.7 497.5 454.0 498.1C453.3 498.7 452.5 498.8 451.8 499.3C451.1 499.7 450.4 500.0 449.9 500.7C449.4 501.5 449.2 502.9 448.9 503.8C448.6 504.8 448.4 505.9 448.0 506.5C447.5 507.1 446.9 507.4 446.4 507.5C445.9 507.6 445.3 507.7 444.9 507.1C444.5 506.6 444.4 505.3 444.0 504.2C443.7 503.1 443.5 501.5 442.9 500.7C442.3 499.9 441.3 500.0 440.5 499.5C439.6 499.1 438.5 499.0 437.8 498.2C437.0 497.3 436.3 496.0 435.8 494.3C435.3 492.6 434.9 490.7 434.8 487.9C434.7 485.1 434.8 480.8 435.0 477.4C435.1 474.0 435.2 470.0 435.5 467.7Z" fill="#fff" stroke="#000" stroke-width="0.9"/>
<path d="M436.0 468.2C436.4 466.1 436.9 465.6 437.5 464.8C438.2 464.1 438.9 463.9 439.9 463.5C441.0 463.1 442.4 462.5 443.7 462.4C445.1 462.2 446.6 462.4 447.8 462.6C449.1 462.7 450.2 463.1 451.3 463.4C452.4 463.8 453.5 464.1 454.4 464.7C455.4 465.3 456.2 466.1 456.8 467.1C457.5 468.1 458.0 469.3 458.2 470.8C458.5 472.3 458.3 474.3 458.2 476.1C458.1 477.8 457.8 479.7 457.6 481.4C457.4 483.2 457.3 484.9 457.1 486.5C457.0 488.1 456.8 489.9 456.5 491.2C456.2 492.6 455.8 493.7 455.3 494.7C454.8 495.6 454.2 496.4 453.6 497.0C452.9 497.6 452.2 497.8 451.5 498.2C450.9 498.6 450.1 498.9 449.7 499.6C449.2 500.3 449.0 501.5 448.7 502.4C448.4 503.3 448.2 504.3 447.8 504.9C447.4 505.5 446.8 505.8 446.4 505.9C445.9 506.0 445.3 506.0 444.9 505.5C444.5 505.0 444.4 503.8 444.1 502.8C443.8 501.8 443.6 500.4 443.0 499.6C442.4 498.9 441.5 498.9 440.7 498.4C439.9 497.9 438.9 497.7 438.2 496.9C437.4 496.0 436.8 494.9 436.3 493.4C435.8 491.8 435.3 490.2 435.1 487.6C434.9 484.9 434.9 480.6 435.1 477.4C435.3 474.2 435.6 470.3 436.0 468.2Z" fill="#fff" stroke="#000" stroke-width="0.9"/>
<path d="M436.4 468.5C436.8 466.5 437.3 466.1 437.9 465.4C438.5 464.6 439.1 464.4 440.1 464.0C441.1 463.6 442.5 463.2 443.8 463.1C445.1 462.9 446.5 462.9 447.7 463.0C449.0 463.1 450.3 463.1 451.3 463.4C452.4 463.8 453.4 464.3 454.2 465.1C454.9 465.8 455.4 466.8 455.9 467.8C456.3 468.8 456.9 469.9 457.1 471.2C457.4 472.6 457.4 474.4 457.4 476.0C457.4 477.7 457.1 479.5 457.0 481.2C456.9 482.9 457.0 484.7 456.8 486.2C456.7 487.8 456.4 489.4 456.1 490.6C455.7 491.9 455.1 492.7 454.7 493.6C454.2 494.5 453.7 495.4 453.2 496.0C452.6 496.6 451.9 497.0 451.3 497.3C450.6 497.7 449.9 497.7 449.4 498.3C448.9 498.8 448.8 500.0 448.5 500.8C448.2 501.6 448.0 502.7 447.6 503.2C447.3 503.7 446.7 503.8 446.3 504.0C445.8 504.1 445.3 504.2 444.9 503.9C444.5 503.5 444.4 502.6 444.1 501.7C443.8 500.9 443.6 499.4 443.1 498.7C442.5 498.0 441.6 498.0 440.8 497.5C440.1 497.1 439.1 496.9 438.4 496.0C437.8 495.2 437.3 493.8 436.8 492.2C436.4 490.6 436.1 489.1 435.8 486.6C435.6 484.2 435.4 480.3 435.5 477.3C435.6 474.3 436.0 470.5 436.4 468.5Z" fill="#fff" stroke="#000" stroke-width="0.9"/>
<path d="M436.4 468.5C436.8 466.6 437.4 466.3 438.1 465.7C438.8 465.1 439.5 465.2 440.5 464.9C441.4 464.6 442.7 464.1 443.9 463.9C445.1 463.7 446.4 463.7 447.6 463.7C448.8 463.7 449.9 463.9 450.9 464.2C452.0 464.5 453.0 464.9 453.8 465.5C454.5 466.1 455.1 467.0 455.6 468.0C456.1 469.0 456.4 470.1 456.6 471.4C456.8 472.8 456.7 474.4 456.7 476.0C456.7 477.6 456.6 479.3 456.5 481.0C456.4 482.6 456.4 484.2 456.2 485.7C456.1 487.2 455.8 488.7 455.5 489.9C455.1 491.0 454.6 491.9 454.1 492.6C453.6 493.4 453.1 493.9 452.5 494.4C452.0 495.0 451.3 495.3 450.8 495.7C450.2 496.2 449.6 496.7 449.2 497.4C448.8 498.1 448.6 499.3 448.4 500.0C448.1 500.8 447.9 501.6 447.5 501.9C447.1 502.3 446.6 502.4 446.2 502.4C445.7 502.4 445.2 502.3 444.9 501.9C444.6 501.5 444.4 500.7 444.2 500.0C443.9 499.3 443.7 498.2 443.2 497.7C442.6 497.1 441.7 497.0 441.0 496.5C440.3 496.0 439.5 495.5 438.9 494.6C438.3 493.7 437.8 492.6 437.3 491.2C436.9 489.8 436.5 488.6 436.2 486.3C435.9 483.9 435.6 480.2 435.6 477.3C435.7 474.3 436.0 470.5 436.4 468.5Z" fill="#fff" stroke="#000" stroke-width="0.9"/>
<path d="M436.9 468.9C437.3 467.1 437.8 466.7 438.4 466.1C439.0 465.5 439.7 465.5 440.6 465.2C441.5 464.9 442.8 464.6 443.9 464.5C445.1 464.4 446.3 464.5 447.4 464.6C448.5 464.6 449.5 464.7 450.5 465.0C451.5 465.2 452.5 465.5 453.3 466.0C454.1 466.5 454.8 467.3 455.3 468.2C455.8 469.1 456.1 470.3 456.2 471.6C456.4 472.9 456.2 474.5 456.1 476.0C456.1 477.5 455.9 479.1 455.7 480.6C455.6 482.1 455.6 483.6 455.4 485.0C455.3 486.4 455.1 487.8 454.8 488.9C454.5 490.0 454.1 490.9 453.6 491.7C453.2 492.5 452.8 493.2 452.2 493.7C451.7 494.3 451.1 494.6 450.6 495.0C450.0 495.4 449.4 495.6 449.0 496.2C448.6 496.7 448.4 497.5 448.1 498.1C447.8 498.8 447.6 499.5 447.3 499.9C447.0 500.3 446.5 500.6 446.1 500.8C445.7 501.0 445.2 501.2 444.9 500.9C444.6 500.6 444.5 499.8 444.2 499.0C443.9 498.2 443.7 497.0 443.3 496.3C442.8 495.6 442.0 495.4 441.3 494.9C440.7 494.4 439.9 494.1 439.3 493.4C438.7 492.6 438.2 491.7 437.7 490.5C437.2 489.2 436.8 488.0 436.5 485.8C436.3 483.6 436.1 480.0 436.1 477.2C436.2 474.4 436.5 470.8 436.9 468.9Z" fill="#fff" stroke="#000" stroke-width="0.9"/>
<path d="M437.1 469.1C437.5 467.3 438.1 467.1 438.7 466.6C439.4 466.1 440.1 466.2 440.9 466.0C441.8 465.7 442.9 465.3 444.0 465.2C445.0 465.0 446.3 464.9 447.3 464.9C448.4 465.0 449.4 465.2 450.3 465.5C451.2 465.8 452.0 466.2 452.7 466.8C453.4 467.3 453.9 468.0 454.4 468.9C454.9 469.7 455.4 470.6 455.7 471.8C455.9 473.0 456.1 474.6 456.1 476.0C456.1 477.5 455.8 479.1 455.6 480.5C455.4 482.0 455.1 483.3 454.8 484.5C454.6 485.7 454.3 486.9 454.0 487.9C453.7 488.9 453.4 489.8 453.0 490.5C452.6 491.3 452.2 492.0 451.7 492.5C451.3 493.0 450.7 493.2 450.2 493.6C449.6 494.0 449.1 494.2 448.7 494.7C448.3 495.3 448.2 496.3 447.9 497.0C447.7 497.7 447.5 498.6 447.2 499.1C446.9 499.5 446.4 499.7 446.1 499.7C445.7 499.7 445.2 499.6 444.9 499.1C444.6 498.7 444.5 497.7 444.2 496.9C444.0 496.2 443.9 495.2 443.4 494.7C442.9 494.2 442.2 494.2 441.5 493.8C440.9 493.5 440.1 493.2 439.6 492.5C439.0 491.8 438.5 490.8 438.1 489.6C437.7 488.4 437.3 487.4 437.0 485.3C436.7 483.2 436.3 479.9 436.3 477.2C436.4 474.5 436.7 470.9 437.1 469.1Z" fill="#fff" stroke="#000" stroke-width="0.9"/>
<path d="M437.9 469.8C438.2 468.1 438.6 467.8 439.2 467.2C439.7 466.7 440.3 466.7 441.1 466.4C441.9 466.1 443.0 465.7 444.0 465.5C445.0 465.2 446.2 465.1 447.3 465.1C448.3 465.1 449.3 465.3 450.2 465.6C451.1 465.9 451.8 466.4 452.4 467.1C453.0 467.7 453.4 468.5 453.7 469.3C454.1 470.2 454.4 471.1 454.6 472.2C454.8 473.3 454.9 474.7 454.9 476.0C454.9 477.3 454.8 478.8 454.7 480.2C454.6 481.5 454.4 482.8 454.2 484.0C454.0 485.1 453.8 486.3 453.5 487.3C453.3 488.3 453.0 489.1 452.6 489.9C452.3 490.7 451.9 491.4 451.5 491.9C451.0 492.3 450.4 492.5 449.9 492.8C449.4 493.1 448.8 493.1 448.5 493.5C448.1 493.9 447.9 494.6 447.7 495.2C447.4 495.8 447.3 496.5 447.0 497.0C446.7 497.4 446.3 497.7 446.0 497.8C445.6 497.8 445.2 497.8 444.9 497.5C444.6 497.1 444.5 496.3 444.3 495.7C444.1 495.0 443.9 494.2 443.5 493.8C443.0 493.3 442.3 493.4 441.7 493.1C441.0 492.8 440.3 492.6 439.8 491.9C439.2 491.2 438.8 490.1 438.5 488.9C438.1 487.7 437.8 486.5 437.6 484.5C437.4 482.5 437.3 479.5 437.3 477.0C437.3 474.6 437.6 471.4 437.9 469.8Z" fill="#fff" stroke="#000" stroke-width="0.9"/>
<path d="M438.2 470.1C438.5 468.5 438.9 468.1 439.4 467.6C439.9 467.0 440.5 467.1 441.3 466.8C442.0 466.5 443.1 466.1 444.0 465.9C445.0 465.7 446.2 465.6 447.2 465.6C448.1 465.7 449.1 466.0 449.8 466.3C450.6 466.7 451.2 467.2 451.8 467.8C452.3 468.4 452.7 469.1 453.1 469.8C453.5 470.6 453.9 471.3 454.1 472.4C454.3 473.4 454.3 474.7 454.3 476.0C454.3 477.2 454.1 478.6 454.0 479.8C453.9 481.1 453.9 482.3 453.7 483.5C453.6 484.7 453.5 485.9 453.2 486.8C452.9 487.8 452.6 488.5 452.2 489.1C451.8 489.7 451.4 490.1 450.9 490.5C450.5 490.8 449.9 491.0 449.5 491.3C449.0 491.7 448.6 491.9 448.2 492.3C447.9 492.8 447.7 493.5 447.5 493.9C447.3 494.4 447.1 494.9 446.8 495.3C446.6 495.6 446.2 495.9 445.9 496.0C445.6 496.2 445.2 496.4 444.9 496.2C444.6 495.9 444.5 495.3 444.3 494.7C444.1 494.0 444.0 493.0 443.6 492.6C443.2 492.1 442.5 492.0 441.9 491.7C441.4 491.4 440.7 491.3 440.2 490.7C439.7 490.0 439.2 489.2 438.9 488.0C438.6 486.9 438.3 485.8 438.1 483.9C438.0 482.1 437.8 479.2 437.8 476.9C437.8 474.6 438.0 471.6 438.2 470.1Z" fill="#fff" stroke="#000" stroke-width="0.9"/>
<path d="M438.4 470.2C438.8 468.8 439.4 468.8 439.9 468.3C440.4 467.9 440.8 467.8 441.5 467.5C442.2 467.2 443.2 466.8 444.1 466.7C445.0 466.6 446.0 466.7 446.9 466.7C447.8 466.8 448.7 466.7 449.5 466.9C450.3 467.1 451.1 467.4 451.7 467.9C452.2 468.5 452.5 469.3 452.8 470.0C453.1 470.8 453.4 471.6 453.6 472.6C453.7 473.6 453.8 474.8 453.7 476.0C453.7 477.1 453.4 478.3 453.3 479.5C453.1 480.7 453.2 481.8 453.0 482.9C452.9 484.0 452.8 485.2 452.6 486.0C452.4 486.9 451.9 487.4 451.6 488.0C451.2 488.5 450.9 489.0 450.5 489.4C450.1 489.8 449.6 490.1 449.2 490.4C448.8 490.6 448.2 490.5 447.9 490.9C447.6 491.2 447.5 491.8 447.3 492.4C447.1 492.9 447.0 493.8 446.7 494.2C446.5 494.6 446.1 494.7 445.8 494.8C445.5 494.8 445.1 494.8 444.9 494.6C444.7 494.3 444.6 493.8 444.4 493.2C444.2 492.7 444.0 491.7 443.7 491.1C443.3 490.6 442.7 490.4 442.2 490.1C441.7 489.8 441.1 489.8 440.6 489.3C440.1 488.8 439.7 488.1 439.3 487.1C439.0 486.2 438.7 485.3 438.4 483.6C438.1 481.9 437.6 479.2 437.6 477.0C437.6 474.8 438.0 471.7 438.4 470.2Z" fill="#fff" stroke="#000" stroke-width="0.9"/>
<path d="M439.1 470.8C439.3 469.4 439.7 469.2 440.1 468.7C440.6 468.2 441.0 468.2 441.7 467.9C442.4 467.6 443.3 467.0 444.1 466.8C445.0 466.6 446.1 466.7 446.9 466.8C447.7 467.0 448.4 467.5 449.1 467.8C449.7 468.1 450.4 468.4 450.9 468.8C451.4 469.3 451.8 469.9 452.1 470.5C452.4 471.2 452.6 472.0 452.8 472.9C453.0 473.8 453.2 474.9 453.3 476.0C453.4 477.1 453.4 478.4 453.3 479.5C453.2 480.6 452.8 481.6 452.6 482.5C452.3 483.4 452.1 484.3 451.8 485.0C451.6 485.8 451.3 486.4 451.0 486.9C450.6 487.3 450.2 487.6 449.9 488.0C449.5 488.3 449.1 488.6 448.8 489.0C448.4 489.4 448.1 489.8 447.8 490.2C447.5 490.6 447.3 491.1 447.1 491.5C446.9 491.9 446.8 492.4 446.6 492.6C446.3 492.9 446.0 493.2 445.7 493.2C445.5 493.2 445.1 493.0 444.9 492.6C444.7 492.3 444.6 491.6 444.4 491.2C444.2 490.8 444.1 490.3 443.8 490.0C443.4 489.7 442.8 489.7 442.4 489.4C441.9 489.2 441.3 489.0 440.9 488.5C440.4 488.0 439.9 487.5 439.6 486.6C439.2 485.7 439.0 484.7 438.8 483.1C438.7 481.4 438.6 478.9 438.7 476.8C438.7 474.8 438.8 472.2 439.1 470.8Z" fill="#fff" stroke="#000" stroke-width="0.9"/>
<path d="M440.2 471.8C440.4 470.7 440.7 470.5 441.1 470.1C441.4 469.7 441.8 469.8 442.4 469.5C442.9 469.3 443.6 468.8 444.3 468.6C445.0 468.4 445.9 468.3 446.6 468.4C447.2 468.4 447.8 468.8 448.4 469.1C448.9 469.4 449.4 469.6 449.9 470.0C450.3 470.4 450.7 470.8 450.9 471.4C451.1 472.0 451.1 472.7 451.2 473.5C451.2 474.2 451.2 475.1 451.2 475.9C451.2 476.8 451.3 477.8 451.2 478.6C451.1 479.4 450.8 480.1 450.7 480.9C450.5 481.6 450.4 482.2 450.2 482.8C450.0 483.5 449.9 484.1 449.7 484.6C449.5 485.0 449.2 485.3 448.9 485.5C448.6 485.8 448.2 485.9 447.9 486.1C447.6 486.3 447.3 486.6 447.1 486.8C446.9 487.1 446.7 487.3 446.6 487.5C446.4 487.7 446.3 487.9 446.1 488.0C445.9 488.2 445.7 488.5 445.5 488.6C445.3 488.6 445.1 488.6 444.9 488.4C444.7 488.2 444.7 487.7 444.5 487.4C444.4 487.2 444.3 487.0 444.0 486.8C443.8 486.6 443.3 486.7 442.9 486.4C442.5 486.2 442.1 485.9 441.8 485.6C441.4 485.2 441.1 484.9 440.8 484.2C440.5 483.6 440.1 483.0 440.0 481.7C439.8 480.4 439.7 478.3 439.7 476.6C439.8 475.0 440.0 472.9 440.2 471.8Z" fill="#fff" stroke="#000" stroke-width="0.7"/>
<path d="M441.4 472.8C441.6 471.9 441.7 471.8 442.0 471.4C442.2 471.1 442.4 470.8 442.8 470.6C443.2 470.4 443.8 470.1 444.4 470.0C445.0 469.9 445.6 470.0 446.2 470.1C446.7 470.2 447.2 470.4 447.6 470.7C448.0 470.9 448.3 471.2 448.6 471.5C448.8 471.9 449.0 472.3 449.1 472.7C449.2 473.2 449.2 473.6 449.3 474.1C449.4 474.7 449.5 475.3 449.6 475.9C449.7 476.5 449.8 477.3 449.8 478.0C449.8 478.6 449.7 479.3 449.5 479.8C449.3 480.3 449.1 480.7 448.8 481.0C448.6 481.3 448.3 481.4 448.1 481.6C447.9 481.8 447.7 481.9 447.5 482.1C447.3 482.3 447.1 482.6 446.9 482.7C446.8 482.9 446.6 483.1 446.4 483.3C446.3 483.5 446.2 483.7 446.0 483.8C445.9 484.0 445.9 484.1 445.7 484.3C445.6 484.4 445.5 484.5 445.3 484.5C445.2 484.5 445.0 484.5 444.9 484.4C444.8 484.2 444.8 483.9 444.7 483.7C444.6 483.5 444.5 483.1 444.3 483.0C444.1 482.8 443.9 482.9 443.6 482.9C443.3 482.8 443.0 482.9 442.7 482.8C442.4 482.6 442.1 482.4 441.8 482.0C441.6 481.6 441.4 481.2 441.2 480.2C441.0 479.3 440.8 477.7 440.8 476.5C440.8 475.2 441.2 473.6 441.4 472.8Z" fill="#fff" stroke="#000" stroke-width="0.7"/>
<path d="M442.2 473.5C442.4 472.9 442.6 472.9 442.8 472.6C443.0 472.4 443.1 472.3 443.4 472.1C443.7 471.9 444.1 471.7 444.5 471.6C444.9 471.6 445.4 471.7 445.8 471.8C446.2 471.9 446.5 472.1 446.7 472.3C447.0 472.5 447.1 472.8 447.3 473.0C447.5 473.3 447.6 473.5 447.7 473.8C447.8 474.0 447.9 474.3 448.0 474.7C448.0 475.0 448.1 475.4 448.1 475.9C448.1 476.3 448.0 476.8 447.9 477.1C447.8 477.5 447.7 477.9 447.6 478.1C447.4 478.4 447.3 478.6 447.1 478.8C447.0 479.0 446.9 479.1 446.8 479.2C446.6 479.3 446.5 479.4 446.4 479.5C446.3 479.6 446.2 479.7 446.1 479.7C445.9 479.8 445.8 479.8 445.7 479.9C445.6 479.9 445.6 479.9 445.5 479.9C445.4 479.9 445.4 480.0 445.3 480.0C445.3 480.0 445.2 480.0 445.1 480.0C445.0 480.0 445.0 480.0 444.9 480.0C444.8 480.0 444.8 480.0 444.8 480.0C444.7 480.0 444.7 480.0 444.6 480.0C444.5 480.0 444.3 479.9 444.1 479.9C444.0 479.8 443.8 479.8 443.7 479.7C443.5 479.6 443.4 479.5 443.2 479.3C443.0 479.2 442.8 479.1 442.5 478.6C442.3 478.1 441.8 477.2 441.7 476.3C441.7 475.5 442.0 474.1 442.2 473.5Z" fill="#fff" stroke="#000" stroke-width="0.7"/>
</g>
<rect x="433.7" y="436.3" width="83.30000000000001" height="82.69999999999999" fill="none" stroke="#000" stroke-width="2.1"/>
<line x1="429.7" y1="436.3" x2="433.7" y2="436.3" stroke="#000" stroke-width="1.3"/>
<line x1="429.7" y1="457.3" x2="433.7" y2="457.3" stroke="#000" stroke-width="1.3"/>
<line x1="429.7" y1="477.9" x2="433.7" y2="477.9" stroke="#000" stroke-width="1.3"/>
<line x1="429.7" y1="498.5" x2="433.7" y2="498.5" stroke="#000" stroke-width="1.3"/>
<line x1="429.7" y1="519" x2="433.7" y2="519" stroke="#000" stroke-width="1.3"/>
<line x1="433.7" y1="519" x2="433.7" y2="523.2" stroke="#000" stroke-width="1.3"/>
<line x1="454.4" y1="519" x2="454.4" y2="523.2" stroke="#000" stroke-width="1.3"/>
<line x1="475.2" y1="519" x2="475.2" y2="523.2" stroke="#000" stroke-width="1.3"/>
<line x1="495.8" y1="519" x2="495.8" y2="523.2" stroke="#000" stroke-width="1.3"/>
<line x1="517" y1="519" x2="517" y2="523.2" stroke="#000" stroke-width="1.3"/>
<text transform="translate(430.3,474) rotate(-90)" text-anchor="middle" font-family="Liberation Serif, serif" font-weight="bold" font-size="15.5" stroke="#000" stroke-width="0.2" textLength="35.8" lengthAdjust="spacingAndGlyphs">PB76</text>
<line x1="182.5" y1="528.7" x2="253.5" y2="528.7" stroke="#000" stroke-width="1.4"/>
<line x1="299.6" y1="528.7" x2="363" y2="528.7" stroke="#000" stroke-width="1.4"/>
<path d="M361.2 522.6L374.3 528.7L361.2 534.9Z"/>
<text x="263" y="534" font-family="Liberation Serif, serif" font-weight="bold" font-size="16.5" textLength="30.6" lengthAdjust="spacingAndGlyphs">IgM</text>
</svg>
</body></html>
